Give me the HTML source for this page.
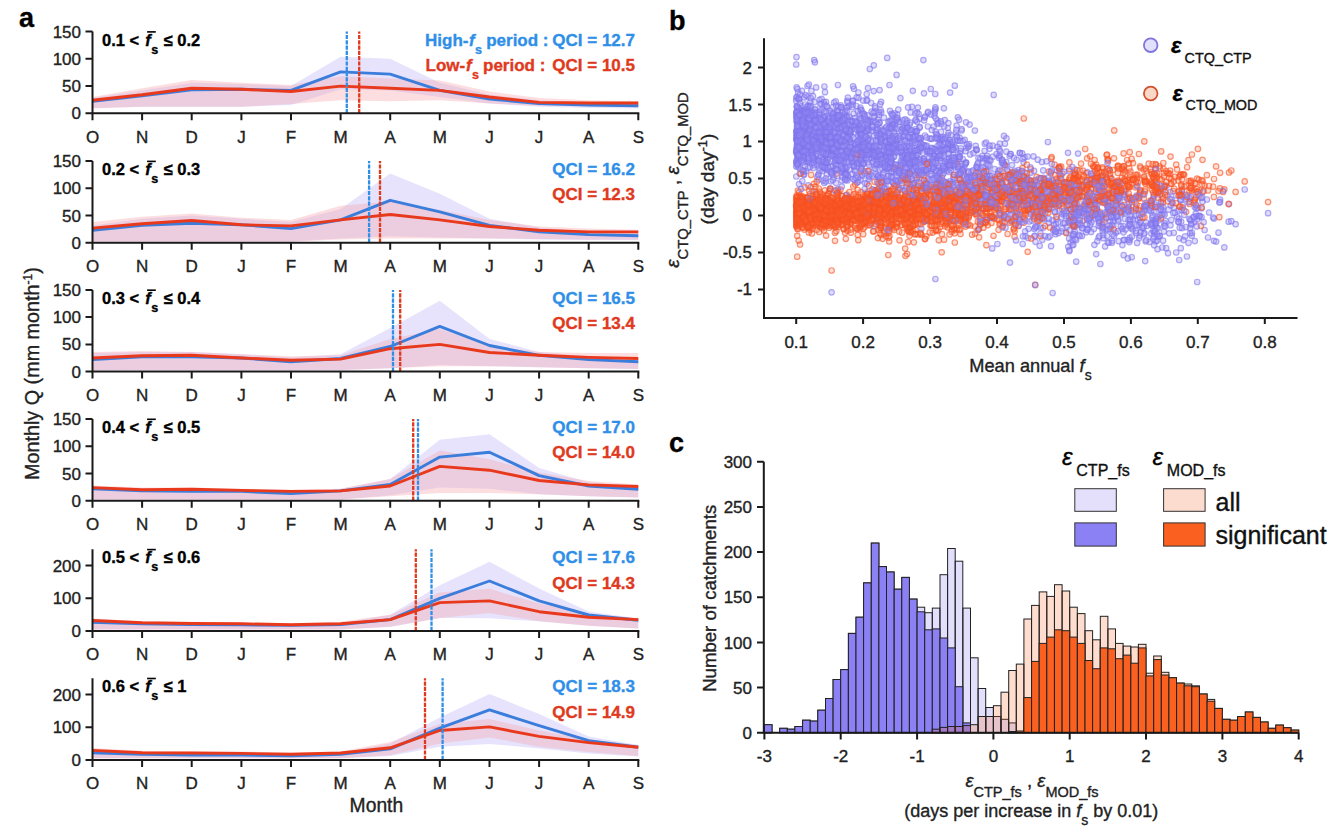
<!DOCTYPE html><html><head><meta charset="utf-8"><style>html,body{margin:0;padding:0;background:#fff;overflow:hidden}svg{display:block}svg text{font-family:"Liberation Sans",sans-serif}.s circle{r:2.75px}.s g{stroke-width:1.2px}.o{fill:#fa6a3a;fill-opacity:.22;stroke:#f85020;stroke-opacity:.6}.p{fill:#9a90f5;fill-opacity:.32;stroke:#7f74ec;stroke-opacity:.6}</style></head><body><svg width="1335" height="834" viewBox="0 0 1335 834" font-family="Liberation Sans, sans-serif"><path d="M92.5 98 L142.1 90.4 L191.7 82.8 L241.4 83.9 L291 86.1 L340.6 56.7 L390.2 58.8 L439.8 82.8 L489.5 94.8 L539.1 100.2 L588.7 102.4 L638.3 103.5 L638.3 108.4 L588.7 107.9 L539.1 106.8 L489.5 103.5 L439.8 97 L390.2 90.4 L340.6 89.3 L291 105.1 L241.4 106.8 L191.7 106.8 L142.1 106.8 L92.5 107.9Z" fill="#b9b0f5" fill-opacity="0.35"/><path d="M92.5 97 L142.1 88.2 L191.7 80.1 L241.4 82.8 L291 85 L340.6 76.3 L390.2 78.4 L439.8 80.6 L489.5 91.5 L539.1 98 L588.7 100.2 L638.3 101.3 L638.3 106.8 L588.7 106.2 L539.1 105.7 L489.5 103.5 L439.8 100.2 L390.2 101.3 L340.6 100.2 L291 104 L241.4 106.8 L191.7 106.8 L142.1 106.8 L92.5 108.4Z" fill="#f7a0a8" fill-opacity="0.35"/><polyline points="92.5,101.3 142.1,95.9 191.7,89.9 241.4,89.3 291,90.4 340.6,71.9 390.2,74.1 439.8,90.4 489.5,99.1 539.1,103.5 588.7,105.1 638.3,105.7" fill="none" stroke="#3b7ddb" stroke-width="2.9" stroke-linejoin="round"/><polyline points="92.5,100.2 142.1,94.8 191.7,88.2 241.4,89.3 291,91.5 340.6,86.1 390.2,88.2 439.8,90.4 489.5,97 539.1,102.4 588.7,103 638.3,103" fill="none" stroke="#e8391d" stroke-width="2.9" stroke-linejoin="round"/><line x1="346.8" y1="113.3" x2="346.8" y2="31.6" stroke="#2f8fe8" stroke-width="2.3" stroke-dasharray="4.2 1.1"/><line x1="359.2" y1="113.3" x2="359.2" y2="31.6" stroke="#e03a1e" stroke-width="2.3" stroke-dasharray="4.2 1.1"/><path d="M92.5 31.6V113.3H639.3" fill="none" stroke="#1a1a1a" stroke-width="2"/><path d="M85.5 113.3H92.5M85.5 86.1H92.5M85.5 58.8H92.5M85.5 31.6H92.5M92.5 113.3V120.3M142.1 113.3V120.3M191.7 113.3V120.3M241.4 113.3V120.3M291 113.3V120.3M340.6 113.3V120.3M390.2 113.3V120.3M439.8 113.3V120.3M489.5 113.3V120.3M539.1 113.3V120.3M588.7 113.3V120.3M638.3 113.3V120.3" stroke="#1a1a1a" stroke-width="2"/><text x="81" y="119.3" text-anchor="end" font-size="17" fill="#222" stroke="#222" stroke-width="0.35">0</text><text x="81" y="92.1" text-anchor="end" font-size="17" fill="#222" stroke="#222" stroke-width="0.35">50</text><text x="81" y="64.8" text-anchor="end" font-size="17" fill="#222" stroke="#222" stroke-width="0.35">100</text><text x="81" y="37.6" text-anchor="end" font-size="17" fill="#222" stroke="#222" stroke-width="0.35">150</text><text x="92.5" y="142.6" text-anchor="middle" font-size="17" fill="#222" stroke="#222" stroke-width="0.35">O</text><text x="142.1" y="142.6" text-anchor="middle" font-size="17" fill="#222" stroke="#222" stroke-width="0.35">N</text><text x="191.7" y="142.6" text-anchor="middle" font-size="17" fill="#222" stroke="#222" stroke-width="0.35">D</text><text x="241.4" y="142.6" text-anchor="middle" font-size="17" fill="#222" stroke="#222" stroke-width="0.35">J</text><text x="291" y="142.6" text-anchor="middle" font-size="17" fill="#222" stroke="#222" stroke-width="0.35">F</text><text x="340.6" y="142.6" text-anchor="middle" font-size="17" fill="#222" stroke="#222" stroke-width="0.35">M</text><text x="390.2" y="142.6" text-anchor="middle" font-size="17" fill="#222" stroke="#222" stroke-width="0.35">A</text><text x="439.8" y="142.6" text-anchor="middle" font-size="17" fill="#222" stroke="#222" stroke-width="0.35">M</text><text x="489.5" y="142.6" text-anchor="middle" font-size="17" fill="#222" stroke="#222" stroke-width="0.35">J</text><text x="539.1" y="142.6" text-anchor="middle" font-size="17" fill="#222" stroke="#222" stroke-width="0.35">J</text><text x="588.7" y="142.6" text-anchor="middle" font-size="17" fill="#222" stroke="#222" stroke-width="0.35">A</text><text x="638.3" y="142.6" text-anchor="middle" font-size="17" fill="#222" stroke="#222" stroke-width="0.35">S</text><text x="102" y="45.7" font-size="16.5" font-weight="bold" fill="#000" stroke="#000" stroke-width="0.35">0.1 &lt;</text><text x="145.2" y="45.7" font-size="16.5" font-weight="bold" font-style="italic" fill="#000" stroke="#000" stroke-width="0.35">f</text><rect x="147.1" y="31.1" width="8.7" height="1.6" fill="#000"/><text x="151.3" y="53.7" font-size="12.5" font-weight="bold" fill="#000" stroke="#000" stroke-width="0.35">s</text><text x="163.6" y="45.7" font-size="16.5" font-weight="bold" fill="#000" stroke="#000" stroke-width="0.35">≤ 0.2</text><text x="635" y="45.7" text-anchor="end" font-size="17" font-weight="bold" fill="#2f8fe8" stroke="#2f8fe8" stroke-width="0.35">QCI = 12.7</text><text x="635" y="70.9" text-anchor="end" font-size="17" font-weight="bold" fill="#e03a1e" stroke="#e03a1e" stroke-width="0.35">QCI = 10.5</text><text x="425" y="45.7" font-size="17" font-weight="bold" fill="#2f8fe8" stroke="#2f8fe8" stroke-width="0.35">High-</text><text x="469" y="45.7" font-size="17" font-weight="bold" font-style="italic" fill="#2f8fe8" stroke="#2f8fe8" stroke-width="0.35">f</text><text x="475" y="53.6" font-size="12.5" font-weight="bold" fill="#2f8fe8" stroke="#2f8fe8" stroke-width="0.35">s</text><text x="486.2" y="45.7" font-size="17" font-weight="bold" fill="#2f8fe8" stroke="#2f8fe8" stroke-width="0.35">period :</text><text x="425.5" y="70.9" font-size="17" font-weight="bold" fill="#e03a1e" stroke="#e03a1e" stroke-width="0.35">Low-</text><text x="466" y="70.9" font-size="17" font-weight="bold" font-style="italic" fill="#e03a1e" stroke="#e03a1e" stroke-width="0.35">f</text><text x="472" y="78.8" font-size="12.5" font-weight="bold" fill="#e03a1e" stroke="#e03a1e" stroke-width="0.35">s</text><text x="483" y="70.9" font-size="17" font-weight="bold" fill="#e03a1e" stroke="#e03a1e" stroke-width="0.35">period :</text><path d="M92.5 225.4 L142.1 218.8 L191.7 215.6 L241.4 218.8 L291 222.1 L340.6 209 L390.2 173.6 L439.8 193.8 L489.5 218.8 L539.1 227.5 L588.7 231.9 L638.3 233 L638.3 240.1 L588.7 240.1 L539.1 239.5 L489.5 238.4 L439.8 237.4 L390.2 236.3 L340.6 238.4 L291 241.2 L241.4 241.2 L191.7 241.2 L142.1 241.2 L92.5 241.2Z" fill="#b9b0f5" fill-opacity="0.35"/><path d="M92.5 222.1 L142.1 216.7 L191.7 213.4 L241.4 217.7 L291 219.9 L340.6 205.8 L390.2 201.4 L439.8 210.1 L489.5 219.9 L539.1 226.5 L588.7 228.6 L638.3 229.7 L638.3 239.5 L588.7 239.5 L539.1 239 L489.5 238.4 L439.8 238.4 L390.2 238.4 L340.6 239.5 L291 241.7 L241.4 241.7 L191.7 241.7 L142.1 241.7 L92.5 241.7Z" fill="#f7a0a8" fill-opacity="0.35"/><polyline points="92.5,230.3 142.1,225.4 191.7,223.2 241.4,224.8 291,228.6 340.6,219.9 390.2,200.3 439.8,211.8 489.5,225.4 539.1,231.9 588.7,234.6 638.3,235.7" fill="none" stroke="#3b7ddb" stroke-width="2.9" stroke-linejoin="round"/><polyline points="92.5,228.1 142.1,223.7 191.7,220.5 241.4,224.8 291,225.9 340.6,219.9 390.2,214.5 439.8,219.9 489.5,226.5 539.1,230.3 588.7,231.9 638.3,231.9" fill="none" stroke="#e8391d" stroke-width="2.9" stroke-linejoin="round"/><line x1="369.1" y1="242.8" x2="369.1" y2="161.1" stroke="#2f8fe8" stroke-width="2.3" stroke-dasharray="4.2 1.1"/><line x1="380" y1="242.8" x2="380" y2="161.1" stroke="#e03a1e" stroke-width="2.3" stroke-dasharray="4.2 1.1"/><path d="M92.5 161.1V242.8H639.3" fill="none" stroke="#1a1a1a" stroke-width="2"/><path d="M85.5 242.8H92.5M85.5 215.6H92.5M85.5 188.3H92.5M85.5 161.1H92.5M92.5 242.8V249.8M142.1 242.8V249.8M191.7 242.8V249.8M241.4 242.8V249.8M291 242.8V249.8M340.6 242.8V249.8M390.2 242.8V249.8M439.8 242.8V249.8M489.5 242.8V249.8M539.1 242.8V249.8M588.7 242.8V249.8M638.3 242.8V249.8" stroke="#1a1a1a" stroke-width="2"/><text x="81" y="248.8" text-anchor="end" font-size="17" fill="#222" stroke="#222" stroke-width="0.35">0</text><text x="81" y="221.6" text-anchor="end" font-size="17" fill="#222" stroke="#222" stroke-width="0.35">50</text><text x="81" y="194.3" text-anchor="end" font-size="17" fill="#222" stroke="#222" stroke-width="0.35">100</text><text x="81" y="167.1" text-anchor="end" font-size="17" fill="#222" stroke="#222" stroke-width="0.35">150</text><text x="92.5" y="272.1" text-anchor="middle" font-size="17" fill="#222" stroke="#222" stroke-width="0.35">O</text><text x="142.1" y="272.1" text-anchor="middle" font-size="17" fill="#222" stroke="#222" stroke-width="0.35">N</text><text x="191.7" y="272.1" text-anchor="middle" font-size="17" fill="#222" stroke="#222" stroke-width="0.35">D</text><text x="241.4" y="272.1" text-anchor="middle" font-size="17" fill="#222" stroke="#222" stroke-width="0.35">J</text><text x="291" y="272.1" text-anchor="middle" font-size="17" fill="#222" stroke="#222" stroke-width="0.35">F</text><text x="340.6" y="272.1" text-anchor="middle" font-size="17" fill="#222" stroke="#222" stroke-width="0.35">M</text><text x="390.2" y="272.1" text-anchor="middle" font-size="17" fill="#222" stroke="#222" stroke-width="0.35">A</text><text x="439.8" y="272.1" text-anchor="middle" font-size="17" fill="#222" stroke="#222" stroke-width="0.35">M</text><text x="489.5" y="272.1" text-anchor="middle" font-size="17" fill="#222" stroke="#222" stroke-width="0.35">J</text><text x="539.1" y="272.1" text-anchor="middle" font-size="17" fill="#222" stroke="#222" stroke-width="0.35">J</text><text x="588.7" y="272.1" text-anchor="middle" font-size="17" fill="#222" stroke="#222" stroke-width="0.35">A</text><text x="638.3" y="272.1" text-anchor="middle" font-size="17" fill="#222" stroke="#222" stroke-width="0.35">S</text><text x="102" y="175.2" font-size="16.5" font-weight="bold" fill="#000" stroke="#000" stroke-width="0.35">0.2 &lt;</text><text x="145.2" y="175.2" font-size="16.5" font-weight="bold" font-style="italic" fill="#000" stroke="#000" stroke-width="0.35">f</text><rect x="147.1" y="160.6" width="8.7" height="1.6" fill="#000"/><text x="151.3" y="183.2" font-size="12.5" font-weight="bold" fill="#000" stroke="#000" stroke-width="0.35">s</text><text x="163.6" y="175.2" font-size="16.5" font-weight="bold" fill="#000" stroke="#000" stroke-width="0.35">≤ 0.3</text><text x="635" y="175.2" text-anchor="end" font-size="17" font-weight="bold" fill="#2f8fe8" stroke="#2f8fe8" stroke-width="0.35">QCI = 16.2</text><text x="635" y="200.4" text-anchor="end" font-size="17" font-weight="bold" fill="#e03a1e" stroke="#e03a1e" stroke-width="0.35">QCI = 12.3</text><path d="M92.5 353.1 L142.1 352 L191.7 352 L241.4 354.2 L291 357.4 L340.6 354.2 L390.2 328 L439.8 300.8 L489.5 338.9 L539.1 352 L588.7 356.3 L638.3 358.5 L638.3 368.9 L588.7 368.3 L539.1 367.2 L489.5 366.2 L439.8 365.1 L390.2 368.3 L340.6 370 L291 370 L241.4 370 L191.7 370 L142.1 370 L92.5 370.5Z" fill="#b9b0f5" fill-opacity="0.35"/><path d="M92.5 352 L142.1 350.9 L191.7 352 L241.4 354.2 L291 356.3 L340.6 355.3 L390.2 338.9 L439.8 329.1 L489.5 345.5 L539.1 352 L588.7 353.1 L638.3 353.1 L638.3 368.9 L588.7 368.3 L539.1 367.2 L489.5 366.2 L439.8 366.2 L390.2 368.3 L340.6 370 L291 370 L241.4 370 L191.7 370 L142.1 370 L92.5 370Z" fill="#f7a0a8" fill-opacity="0.35"/><polyline points="92.5,359.6 142.1,356.9 191.7,356.9 241.4,358 291,361.8 340.6,358.5 390.2,346.5 439.8,326.4 489.5,345.5 539.1,355.3 588.7,359.6 638.3,361.8" fill="none" stroke="#3b7ddb" stroke-width="2.9" stroke-linejoin="round"/><polyline points="92.5,358 142.1,355.8 191.7,355.3 241.4,358 291,360.2 340.6,359.1 390.2,348.7 439.8,344.4 489.5,352.5 539.1,355.3 588.7,357.4 638.3,358.5" fill="none" stroke="#e8391d" stroke-width="2.9" stroke-linejoin="round"/><line x1="393" y1="371.6" x2="393" y2="289.9" stroke="#2f8fe8" stroke-width="2.3" stroke-dasharray="4.2 1.1"/><line x1="400.2" y1="371.6" x2="400.2" y2="289.9" stroke="#e03a1e" stroke-width="2.3" stroke-dasharray="4.2 1.1"/><path d="M92.5 289.9V371.6H639.3" fill="none" stroke="#1a1a1a" stroke-width="2"/><path d="M85.5 371.6H92.5M85.5 344.4H92.5M85.5 317.1H92.5M85.5 289.9H92.5M92.5 371.6V378.6M142.1 371.6V378.6M191.7 371.6V378.6M241.4 371.6V378.6M291 371.6V378.6M340.6 371.6V378.6M390.2 371.6V378.6M439.8 371.6V378.6M489.5 371.6V378.6M539.1 371.6V378.6M588.7 371.6V378.6M638.3 371.6V378.6" stroke="#1a1a1a" stroke-width="2"/><text x="81" y="377.6" text-anchor="end" font-size="17" fill="#222" stroke="#222" stroke-width="0.35">0</text><text x="81" y="350.4" text-anchor="end" font-size="17" fill="#222" stroke="#222" stroke-width="0.35">50</text><text x="81" y="323.1" text-anchor="end" font-size="17" fill="#222" stroke="#222" stroke-width="0.35">100</text><text x="81" y="295.9" text-anchor="end" font-size="17" fill="#222" stroke="#222" stroke-width="0.35">150</text><text x="92.5" y="400.9" text-anchor="middle" font-size="17" fill="#222" stroke="#222" stroke-width="0.35">O</text><text x="142.1" y="400.9" text-anchor="middle" font-size="17" fill="#222" stroke="#222" stroke-width="0.35">N</text><text x="191.7" y="400.9" text-anchor="middle" font-size="17" fill="#222" stroke="#222" stroke-width="0.35">D</text><text x="241.4" y="400.9" text-anchor="middle" font-size="17" fill="#222" stroke="#222" stroke-width="0.35">J</text><text x="291" y="400.9" text-anchor="middle" font-size="17" fill="#222" stroke="#222" stroke-width="0.35">F</text><text x="340.6" y="400.9" text-anchor="middle" font-size="17" fill="#222" stroke="#222" stroke-width="0.35">M</text><text x="390.2" y="400.9" text-anchor="middle" font-size="17" fill="#222" stroke="#222" stroke-width="0.35">A</text><text x="439.8" y="400.9" text-anchor="middle" font-size="17" fill="#222" stroke="#222" stroke-width="0.35">M</text><text x="489.5" y="400.9" text-anchor="middle" font-size="17" fill="#222" stroke="#222" stroke-width="0.35">J</text><text x="539.1" y="400.9" text-anchor="middle" font-size="17" fill="#222" stroke="#222" stroke-width="0.35">J</text><text x="588.7" y="400.9" text-anchor="middle" font-size="17" fill="#222" stroke="#222" stroke-width="0.35">A</text><text x="638.3" y="400.9" text-anchor="middle" font-size="17" fill="#222" stroke="#222" stroke-width="0.35">S</text><text x="102" y="304" font-size="16.5" font-weight="bold" fill="#000" stroke="#000" stroke-width="0.35">0.3 &lt;</text><text x="145.2" y="304" font-size="16.5" font-weight="bold" font-style="italic" fill="#000" stroke="#000" stroke-width="0.35">f</text><rect x="147.1" y="289.4" width="8.7" height="1.6" fill="#000"/><text x="151.3" y="312" font-size="12.5" font-weight="bold" fill="#000" stroke="#000" stroke-width="0.35">s</text><text x="163.6" y="304" font-size="16.5" font-weight="bold" fill="#000" stroke="#000" stroke-width="0.35">≤ 0.4</text><text x="635" y="304" text-anchor="end" font-size="17" font-weight="bold" fill="#2f8fe8" stroke="#2f8fe8" stroke-width="0.35">QCI = 16.5</text><text x="635" y="329.2" text-anchor="end" font-size="17" font-weight="bold" fill="#e03a1e" stroke="#e03a1e" stroke-width="0.35">QCI = 13.4</text><path d="M92.5 486.5 L142.1 488.7 L191.7 489.8 L241.4 489.8 L291 492 L340.6 488.7 L390.2 478.9 L439.8 439.7 L489.5 434.3 L539.1 468 L588.7 482.2 L638.3 486.5 L638.3 497.4 L588.7 496.3 L539.1 494.2 L489.5 488.7 L439.8 487.6 L390.2 495.3 L340.6 499.6 L291 499.6 L241.4 499.6 L191.7 499.6 L142.1 499.6 L92.5 499.6Z" fill="#b9b0f5" fill-opacity="0.35"/><path d="M92.5 485.4 L142.1 487.6 L191.7 487.6 L241.4 488.7 L291 489.8 L340.6 488.7 L390.2 478.9 L439.8 450.6 L489.5 459.3 L539.1 472.4 L588.7 481.1 L638.3 484.4 L638.3 497.4 L588.7 496.3 L539.1 494.2 L489.5 493.1 L439.8 493.1 L390.2 496.3 L340.6 499.6 L291 499.6 L241.4 499.6 L191.7 499.6 L142.1 499.6 L92.5 499.6Z" fill="#f7a0a8" fill-opacity="0.35"/><polyline points="92.5,488.7 142.1,490.9 191.7,491.4 241.4,491.4 291,493.6 340.6,490.9 390.2,484.4 439.8,457.1 489.5,452.2 539.1,475.6 588.7,486 638.3,489.3" fill="none" stroke="#3b7ddb" stroke-width="2.9" stroke-linejoin="round"/><polyline points="92.5,487.6 142.1,489.8 191.7,489.3 241.4,490.4 291,491.4 340.6,490.9 390.2,486 439.8,466.4 489.5,470.2 539.1,480.5 588.7,484.9 638.3,486.5" fill="none" stroke="#e8391d" stroke-width="2.9" stroke-linejoin="round"/><line x1="418" y1="500.7" x2="418" y2="419" stroke="#2f8fe8" stroke-width="2.3" stroke-dasharray="4.2 1.1"/><line x1="413.2" y1="500.7" x2="413.2" y2="419" stroke="#e03a1e" stroke-width="2.3" stroke-dasharray="4.2 1.1"/><path d="M92.5 419V500.7H639.3" fill="none" stroke="#1a1a1a" stroke-width="2"/><path d="M85.5 500.7H92.5M85.5 473.5H92.5M85.5 446.2H92.5M85.5 419H92.5M92.5 500.7V507.7M142.1 500.7V507.7M191.7 500.7V507.7M241.4 500.7V507.7M291 500.7V507.7M340.6 500.7V507.7M390.2 500.7V507.7M439.8 500.7V507.7M489.5 500.7V507.7M539.1 500.7V507.7M588.7 500.7V507.7M638.3 500.7V507.7" stroke="#1a1a1a" stroke-width="2"/><text x="81" y="506.7" text-anchor="end" font-size="17" fill="#222" stroke="#222" stroke-width="0.35">0</text><text x="81" y="479.5" text-anchor="end" font-size="17" fill="#222" stroke="#222" stroke-width="0.35">50</text><text x="81" y="452.2" text-anchor="end" font-size="17" fill="#222" stroke="#222" stroke-width="0.35">100</text><text x="81" y="425" text-anchor="end" font-size="17" fill="#222" stroke="#222" stroke-width="0.35">150</text><text x="92.5" y="530" text-anchor="middle" font-size="17" fill="#222" stroke="#222" stroke-width="0.35">O</text><text x="142.1" y="530" text-anchor="middle" font-size="17" fill="#222" stroke="#222" stroke-width="0.35">N</text><text x="191.7" y="530" text-anchor="middle" font-size="17" fill="#222" stroke="#222" stroke-width="0.35">D</text><text x="241.4" y="530" text-anchor="middle" font-size="17" fill="#222" stroke="#222" stroke-width="0.35">J</text><text x="291" y="530" text-anchor="middle" font-size="17" fill="#222" stroke="#222" stroke-width="0.35">F</text><text x="340.6" y="530" text-anchor="middle" font-size="17" fill="#222" stroke="#222" stroke-width="0.35">M</text><text x="390.2" y="530" text-anchor="middle" font-size="17" fill="#222" stroke="#222" stroke-width="0.35">A</text><text x="439.8" y="530" text-anchor="middle" font-size="17" fill="#222" stroke="#222" stroke-width="0.35">M</text><text x="489.5" y="530" text-anchor="middle" font-size="17" fill="#222" stroke="#222" stroke-width="0.35">J</text><text x="539.1" y="530" text-anchor="middle" font-size="17" fill="#222" stroke="#222" stroke-width="0.35">J</text><text x="588.7" y="530" text-anchor="middle" font-size="17" fill="#222" stroke="#222" stroke-width="0.35">A</text><text x="638.3" y="530" text-anchor="middle" font-size="17" fill="#222" stroke="#222" stroke-width="0.35">S</text><text x="102" y="433.1" font-size="16.5" font-weight="bold" fill="#000" stroke="#000" stroke-width="0.35">0.4 &lt;</text><text x="145.2" y="433.1" font-size="16.5" font-weight="bold" font-style="italic" fill="#000" stroke="#000" stroke-width="0.35">f</text><rect x="147.1" y="418.5" width="8.7" height="1.6" fill="#000"/><text x="151.3" y="441.1" font-size="12.5" font-weight="bold" fill="#000" stroke="#000" stroke-width="0.35">s</text><text x="163.6" y="433.1" font-size="16.5" font-weight="bold" fill="#000" stroke="#000" stroke-width="0.35">≤ 0.5</text><text x="635" y="433.1" text-anchor="end" font-size="17" font-weight="bold" fill="#2f8fe8" stroke="#2f8fe8" stroke-width="0.35">QCI = 17.0</text><text x="635" y="458.3" text-anchor="end" font-size="17" font-weight="bold" fill="#e03a1e" stroke="#e03a1e" stroke-width="0.35">QCI = 14.0</text><path d="M92.5 620.5 L142.1 622.5 L191.7 623.2 L241.4 623.8 L291 624.5 L340.6 623.2 L390.2 614.7 L439.8 585.2 L489.5 561.7 L539.1 588.5 L588.7 611.4 L638.3 618.6 L638.3 628.4 L588.7 625.8 L539.1 621.2 L489.5 618.3 L439.8 617.9 L390.2 627.1 L340.6 629.4 L291 629.4 L241.4 629.4 L191.7 629.4 L142.1 629.4 L92.5 629.4Z" fill="#b9b0f5" fill-opacity="0.35"/><path d="M92.5 618.6 L142.1 621.2 L191.7 621.8 L241.4 622.5 L291 623.2 L340.6 621.8 L390.2 614.7 L439.8 592.4 L489.5 588.8 L539.1 603.5 L588.7 614 L638.3 617.9 L638.3 628.4 L588.7 625.8 L539.1 621.2 L489.5 613 L439.8 617.9 L390.2 626.4 L340.6 629.4 L291 629.4 L241.4 629.4 L191.7 629.4 L142.1 629.4 L92.5 629.4Z" fill="#f7a0a8" fill-opacity="0.35"/><polyline points="92.5,622.2 142.1,623.8 191.7,624.5 241.4,624.8 291,625.4 340.6,624.5 390.2,619.6 439.8,598.3 489.5,581 539.1,600.9 588.7,615 638.3,620.2" fill="none" stroke="#3b7ddb" stroke-width="2.9" stroke-linejoin="round"/><polyline points="92.5,620.5 142.1,622.8 191.7,623.5 241.4,623.8 291,624.8 340.6,623.8 390.2,619.6 439.8,602.6 489.5,600.9 539.1,611.7 588.7,617.3 638.3,619.6" fill="none" stroke="#e8391d" stroke-width="2.9" stroke-linejoin="round"/><line x1="431.5" y1="631" x2="431.5" y2="549.3" stroke="#2f8fe8" stroke-width="2.3" stroke-dasharray="4.2 1.1"/><line x1="415.8" y1="631" x2="415.8" y2="549.3" stroke="#e03a1e" stroke-width="2.3" stroke-dasharray="4.2 1.1"/><path d="M92.5 549.3V631H639.3" fill="none" stroke="#1a1a1a" stroke-width="2"/><path d="M85.5 631H92.5M85.5 598.3H92.5M85.5 565.6H92.5M92.5 631V638M142.1 631V638M191.7 631V638M241.4 631V638M291 631V638M340.6 631V638M390.2 631V638M439.8 631V638M489.5 631V638M539.1 631V638M588.7 631V638M638.3 631V638" stroke="#1a1a1a" stroke-width="2"/><text x="81" y="637" text-anchor="end" font-size="17" fill="#222" stroke="#222" stroke-width="0.35">0</text><text x="81" y="604.3" text-anchor="end" font-size="17" fill="#222" stroke="#222" stroke-width="0.35">100</text><text x="81" y="571.6" text-anchor="end" font-size="17" fill="#222" stroke="#222" stroke-width="0.35">200</text><text x="92.5" y="660.3" text-anchor="middle" font-size="17" fill="#222" stroke="#222" stroke-width="0.35">O</text><text x="142.1" y="660.3" text-anchor="middle" font-size="17" fill="#222" stroke="#222" stroke-width="0.35">N</text><text x="191.7" y="660.3" text-anchor="middle" font-size="17" fill="#222" stroke="#222" stroke-width="0.35">D</text><text x="241.4" y="660.3" text-anchor="middle" font-size="17" fill="#222" stroke="#222" stroke-width="0.35">J</text><text x="291" y="660.3" text-anchor="middle" font-size="17" fill="#222" stroke="#222" stroke-width="0.35">F</text><text x="340.6" y="660.3" text-anchor="middle" font-size="17" fill="#222" stroke="#222" stroke-width="0.35">M</text><text x="390.2" y="660.3" text-anchor="middle" font-size="17" fill="#222" stroke="#222" stroke-width="0.35">A</text><text x="439.8" y="660.3" text-anchor="middle" font-size="17" fill="#222" stroke="#222" stroke-width="0.35">M</text><text x="489.5" y="660.3" text-anchor="middle" font-size="17" fill="#222" stroke="#222" stroke-width="0.35">J</text><text x="539.1" y="660.3" text-anchor="middle" font-size="17" fill="#222" stroke="#222" stroke-width="0.35">J</text><text x="588.7" y="660.3" text-anchor="middle" font-size="17" fill="#222" stroke="#222" stroke-width="0.35">A</text><text x="638.3" y="660.3" text-anchor="middle" font-size="17" fill="#222" stroke="#222" stroke-width="0.35">S</text><text x="102" y="563.4" font-size="16.5" font-weight="bold" fill="#000" stroke="#000" stroke-width="0.35">0.5 &lt;</text><text x="145.2" y="563.4" font-size="16.5" font-weight="bold" font-style="italic" fill="#000" stroke="#000" stroke-width="0.35">f</text><rect x="147.1" y="548.8" width="8.7" height="1.6" fill="#000"/><text x="151.3" y="571.4" font-size="12.5" font-weight="bold" fill="#000" stroke="#000" stroke-width="0.35">s</text><text x="163.6" y="563.4" font-size="16.5" font-weight="bold" fill="#000" stroke="#000" stroke-width="0.35">≤ 0.6</text><text x="635" y="563.4" text-anchor="end" font-size="17" font-weight="bold" fill="#2f8fe8" stroke="#2f8fe8" stroke-width="0.35">QCI = 17.6</text><text x="635" y="588.6" text-anchor="end" font-size="17" font-weight="bold" fill="#e03a1e" stroke="#e03a1e" stroke-width="0.35">QCI = 14.3</text><path d="M92.5 750.1 L142.1 752.7 L191.7 753.4 L241.4 753.4 L291 754 L340.6 752.7 L390.2 743.6 L439.8 717.4 L489.5 693.9 L539.1 714.1 L588.7 736.4 L638.3 744.9 L638.3 756.6 L588.7 753.4 L539.1 748.5 L489.5 743.9 L439.8 746.8 L390.2 756 L340.6 758.3 L291 758.3 L241.4 758.3 L191.7 758.3 L142.1 758.3 L92.5 758.3Z" fill="#b9b0f5" fill-opacity="0.35"/><path d="M92.5 748.1 L142.1 750.7 L191.7 751.4 L241.4 751.4 L291 752.7 L340.6 751.4 L390.2 741.9 L439.8 724 L489.5 719 L539.1 730.5 L588.7 739.6 L638.3 744.9 L638.3 756 L588.7 752.1 L539.1 746.8 L489.5 737.4 L439.8 743.6 L390.2 755.3 L340.6 758.3 L291 758.3 L241.4 758.3 L191.7 758.3 L142.1 758.3 L92.5 758.3Z" fill="#f7a0a8" fill-opacity="0.35"/><polyline points="92.5,752.7 142.1,754.3 191.7,755 241.4,755 291,755.7 340.6,754.3 390.2,748.8 439.8,728.2 489.5,709.9 539.1,725.6 588.7,740.6 638.3,747.2" fill="none" stroke="#3b7ddb" stroke-width="2.9" stroke-linejoin="round"/><polyline points="92.5,750.4 142.1,752.7 191.7,753 241.4,753.4 291,754.3 340.6,753 390.2,747.8 439.8,730.5 489.5,726.9 539.1,736.4 588.7,742.6 638.3,747.2" fill="none" stroke="#e8391d" stroke-width="2.9" stroke-linejoin="round"/><line x1="442.6" y1="759.9" x2="442.6" y2="678.2" stroke="#2f8fe8" stroke-width="2.3" stroke-dasharray="4.2 1.1"/><line x1="425" y1="759.9" x2="425" y2="678.2" stroke="#e03a1e" stroke-width="2.3" stroke-dasharray="4.2 1.1"/><path d="M92.5 678.2V759.9H639.3" fill="none" stroke="#1a1a1a" stroke-width="2"/><path d="M85.5 759.9H92.5M85.5 727.2H92.5M85.5 694.5H92.5M92.5 759.9V766.9M142.1 759.9V766.9M191.7 759.9V766.9M241.4 759.9V766.9M291 759.9V766.9M340.6 759.9V766.9M390.2 759.9V766.9M439.8 759.9V766.9M489.5 759.9V766.9M539.1 759.9V766.9M588.7 759.9V766.9M638.3 759.9V766.9" stroke="#1a1a1a" stroke-width="2"/><text x="81" y="765.9" text-anchor="end" font-size="17" fill="#222" stroke="#222" stroke-width="0.35">0</text><text x="81" y="733.2" text-anchor="end" font-size="17" fill="#222" stroke="#222" stroke-width="0.35">100</text><text x="81" y="700.5" text-anchor="end" font-size="17" fill="#222" stroke="#222" stroke-width="0.35">200</text><text x="92.5" y="789.2" text-anchor="middle" font-size="17" fill="#222" stroke="#222" stroke-width="0.35">O</text><text x="142.1" y="789.2" text-anchor="middle" font-size="17" fill="#222" stroke="#222" stroke-width="0.35">N</text><text x="191.7" y="789.2" text-anchor="middle" font-size="17" fill="#222" stroke="#222" stroke-width="0.35">D</text><text x="241.4" y="789.2" text-anchor="middle" font-size="17" fill="#222" stroke="#222" stroke-width="0.35">J</text><text x="291" y="789.2" text-anchor="middle" font-size="17" fill="#222" stroke="#222" stroke-width="0.35">F</text><text x="340.6" y="789.2" text-anchor="middle" font-size="17" fill="#222" stroke="#222" stroke-width="0.35">M</text><text x="390.2" y="789.2" text-anchor="middle" font-size="17" fill="#222" stroke="#222" stroke-width="0.35">A</text><text x="439.8" y="789.2" text-anchor="middle" font-size="17" fill="#222" stroke="#222" stroke-width="0.35">M</text><text x="489.5" y="789.2" text-anchor="middle" font-size="17" fill="#222" stroke="#222" stroke-width="0.35">J</text><text x="539.1" y="789.2" text-anchor="middle" font-size="17" fill="#222" stroke="#222" stroke-width="0.35">J</text><text x="588.7" y="789.2" text-anchor="middle" font-size="17" fill="#222" stroke="#222" stroke-width="0.35">A</text><text x="638.3" y="789.2" text-anchor="middle" font-size="17" fill="#222" stroke="#222" stroke-width="0.35">S</text><text x="102" y="692.3" font-size="16.5" font-weight="bold" fill="#000" stroke="#000" stroke-width="0.35">0.6 &lt;</text><text x="145.2" y="692.3" font-size="16.5" font-weight="bold" font-style="italic" fill="#000" stroke="#000" stroke-width="0.35">f</text><rect x="147.1" y="677.7" width="8.7" height="1.6" fill="#000"/><text x="151.3" y="700.3" font-size="12.5" font-weight="bold" fill="#000" stroke="#000" stroke-width="0.35">s</text><text x="163.6" y="692.3" font-size="16.5" font-weight="bold" fill="#000" stroke="#000" stroke-width="0.35">≤ 1</text><text x="635" y="692.3" text-anchor="end" font-size="17" font-weight="bold" fill="#2f8fe8" stroke="#2f8fe8" stroke-width="0.35">QCI = 18.3</text><text x="635" y="717.5" text-anchor="end" font-size="17" font-weight="bold" fill="#e03a1e" stroke="#e03a1e" stroke-width="0.35">QCI = 14.9</text><text x="376.4" y="812" text-anchor="middle" font-size="19.3" fill="#222" stroke="#222" stroke-width="0.35">Month</text><text transform="translate(38.8,373.6) rotate(-90)" text-anchor="middle" font-size="19.8" fill="#222" stroke="#222" stroke-width="0.35">Monthly Q (mm month<tspan dy="-7" font-size="12">-1</tspan><tspan dy="7">)</tspan></text><text x="19" y="27" font-size="27" font-weight="bold" stroke="#000" stroke-width="0.35">a</text><text x="669" y="29.5" font-size="27" font-weight="bold" stroke="#000" stroke-width="0.35">b</text><text x="669" y="452" font-size="27" font-weight="bold" stroke="#000" stroke-width="0.35">c</text><g class="s"><g class="o"><circle cx="868.1" cy="205.4"/><circle cx="897.8" cy="207.3"/><circle cx="803.6" cy="215.1"/><circle cx="824.9" cy="207.9"/><circle cx="849.1" cy="202.7"/><circle cx="852.4" cy="199.6"/><circle cx="1053.9" cy="202.5"/><circle cx="862.4" cy="203"/><circle cx="818.5" cy="219.3"/><circle cx="949.5" cy="234.4"/><circle cx="819.6" cy="212.1"/><circle cx="964.3" cy="199.2"/></g><g class="p"><circle cx="868.1" cy="120.3"/><circle cx="897.8" cy="144.3"/><circle cx="803.6" cy="110.8"/><circle cx="824.9" cy="131.9"/><circle cx="849.1" cy="160.6"/><circle cx="852.4" cy="153.4"/><circle cx="1053.9" cy="224.7"/><circle cx="862.4" cy="176"/><circle cx="818.5" cy="174.3"/><circle cx="949.5" cy="140"/><circle cx="819.6" cy="99.8"/><circle cx="964.3" cy="168.8"/></g><g class="o"><circle cx="804.4" cy="214.1"/><circle cx="1124.9" cy="171.5"/><circle cx="1136" cy="174.9"/><circle cx="829.8" cy="202.9"/><circle cx="917.2" cy="199.6"/><circle cx="1043.6" cy="183.9"/><circle cx="835.1" cy="211.2"/><circle cx="864" cy="214.5"/><circle cx="867.2" cy="211.3"/><circle cx="807.6" cy="201.8"/><circle cx="931" cy="194.5"/><circle cx="868.7" cy="209.1"/></g><g class="p"><circle cx="804.4" cy="129.7"/><circle cx="1124.9" cy="219"/><circle cx="1136" cy="215.7"/><circle cx="829.8" cy="157.1"/><circle cx="917.2" cy="112.6"/><circle cx="1043.6" cy="177.8"/><circle cx="835.1" cy="139.2"/><circle cx="864" cy="153.4"/><circle cx="867.2" cy="119.9"/><circle cx="807.6" cy="110.8"/><circle cx="931" cy="171"/><circle cx="868.7" cy="171.2"/></g><g class="o"><circle cx="1063.4" cy="183.7"/><circle cx="796.3" cy="212.4"/><circle cx="927.9" cy="214.2"/><circle cx="836.5" cy="205.7"/><circle cx="1033.3" cy="192.8"/><circle cx="822.6" cy="202.8"/><circle cx="1155.2" cy="168.6"/><circle cx="823.8" cy="217.9"/><circle cx="828.7" cy="202.7"/><circle cx="1071" cy="191.2"/><circle cx="867.5" cy="223.4"/><circle cx="893.8" cy="211.8"/></g><g class="p"><circle cx="1063.4" cy="223.3"/><circle cx="796.3" cy="162.8"/><circle cx="927.9" cy="126.5"/><circle cx="836.5" cy="128.7"/><circle cx="1033.3" cy="216.5"/><circle cx="822.6" cy="171.1"/><circle cx="1155.2" cy="220.6"/><circle cx="823.8" cy="102"/><circle cx="828.7" cy="117.7"/><circle cx="1071" cy="215.8"/><circle cx="867.5" cy="115.4"/><circle cx="893.8" cy="144.4"/></g><g class="o"><circle cx="829.8" cy="225.4"/><circle cx="880.5" cy="199.5"/><circle cx="855.5" cy="209.7"/><circle cx="947" cy="222.8"/><circle cx="1154.3" cy="186.4"/><circle cx="1068.5" cy="183.3"/><circle cx="989.8" cy="207.9"/><circle cx="1129.8" cy="196.8"/><circle cx="1069.4" cy="197.4"/><circle cx="997.7" cy="189.6"/><circle cx="898.7" cy="204"/><circle cx="822.2" cy="228.3"/></g><g class="p"><circle cx="829.8" cy="139.5"/><circle cx="880.5" cy="142.5"/><circle cx="855.5" cy="125.3"/><circle cx="947" cy="217.8"/><circle cx="1154.3" cy="211.7"/><circle cx="1068.5" cy="182.9"/><circle cx="989.8" cy="176.2"/><circle cx="1129.8" cy="240.1"/><circle cx="1069.4" cy="194.3"/><circle cx="997.7" cy="174"/><circle cx="898.7" cy="151.2"/><circle cx="822.2" cy="139.5"/></g><g class="o"><circle cx="834.6" cy="212.5"/><circle cx="977.8" cy="221.5"/><circle cx="1066.2" cy="202.4"/><circle cx="834" cy="207.2"/><circle cx="840.1" cy="213.9"/><circle cx="863.7" cy="223.1"/><circle cx="927.9" cy="220.8"/><circle cx="880.1" cy="211.3"/><circle cx="977.1" cy="201.8"/><circle cx="835.1" cy="226.6"/><circle cx="839.4" cy="203"/><circle cx="1182.7" cy="207.6"/></g><g class="p"><circle cx="834.6" cy="118"/><circle cx="977.8" cy="188"/><circle cx="1066.2" cy="232.6"/><circle cx="834" cy="117"/><circle cx="840.1" cy="132.4"/><circle cx="863.7" cy="113.6"/><circle cx="927.9" cy="151.3"/><circle cx="880.1" cy="128"/><circle cx="977.1" cy="167.9"/><circle cx="835.1" cy="116.7"/><circle cx="839.4" cy="127.7"/><circle cx="1182.7" cy="204.9"/></g><g class="o"><circle cx="903.3" cy="204.1"/><circle cx="796.9" cy="200.9"/><circle cx="987.5" cy="195.3"/><circle cx="1018.5" cy="226.1"/><circle cx="1035.1" cy="198.1"/><circle cx="959.9" cy="196.8"/><circle cx="1082.6" cy="220.8"/><circle cx="1055.5" cy="199"/><circle cx="832.1" cy="217.3"/><circle cx="909.4" cy="227.9"/><circle cx="801.1" cy="202.4"/><circle cx="986.7" cy="219.8"/></g><g class="p"><circle cx="903.3" cy="136"/><circle cx="796.9" cy="131.4"/><circle cx="987.5" cy="197.2"/><circle cx="1018.5" cy="170.1"/><circle cx="1035.1" cy="235.9"/><circle cx="959.9" cy="153.3"/><circle cx="1082.6" cy="196.5"/><circle cx="1055.5" cy="231.8"/><circle cx="832.1" cy="141"/><circle cx="909.4" cy="172.1"/><circle cx="801.1" cy="135.5"/><circle cx="986.7" cy="175.8"/></g><g class="o"><circle cx="826.1" cy="209.8"/><circle cx="1096.4" cy="180.7"/><circle cx="934.8" cy="190.9"/><circle cx="1121" cy="188.2"/><circle cx="911.7" cy="200.1"/><circle cx="821.3" cy="197.8"/><circle cx="842.1" cy="211.3"/><circle cx="831.2" cy="217.6"/><circle cx="846.7" cy="194.6"/><circle cx="994.1" cy="210.2"/><circle cx="921.8" cy="204.4"/><circle cx="908.1" cy="242"/></g><g class="p"><circle cx="826.1" cy="140.7"/><circle cx="1096.4" cy="212.8"/><circle cx="934.8" cy="110.5"/><circle cx="1121" cy="192.4"/><circle cx="911.7" cy="143.9"/><circle cx="821.3" cy="103.8"/><circle cx="842.1" cy="112.3"/><circle cx="831.2" cy="130.4"/><circle cx="846.7" cy="178.9"/><circle cx="994.1" cy="217.5"/><circle cx="921.8" cy="161.5"/><circle cx="908.1" cy="160.4"/></g><g class="o"><circle cx="848.3" cy="206.3"/><circle cx="903.9" cy="209.4"/><circle cx="807.6" cy="205.1"/><circle cx="1010.8" cy="203"/><circle cx="862" cy="211.3"/><circle cx="837.9" cy="203.7"/><circle cx="797.2" cy="256.7"/><circle cx="1092.6" cy="183.3"/><circle cx="995" cy="201.5"/><circle cx="822.3" cy="215.9"/><circle cx="850.9" cy="200.8"/><circle cx="870.6" cy="200.1"/></g><g class="p"><circle cx="848.3" cy="135.2"/><circle cx="903.9" cy="130.2"/><circle cx="807.6" cy="134.7"/><circle cx="1010.8" cy="210.3"/><circle cx="862" cy="174.7"/><circle cx="837.9" cy="189.3"/><circle cx="797.2" cy="116.9"/><circle cx="1092.6" cy="185.1"/><circle cx="995" cy="177.3"/><circle cx="822.3" cy="160.3"/><circle cx="850.9" cy="156.5"/><circle cx="870.6" cy="121.1"/></g><g class="o"><circle cx="993.1" cy="192.1"/><circle cx="830.4" cy="219.6"/><circle cx="797.5" cy="205.8"/><circle cx="1013.9" cy="202.8"/><circle cx="855.1" cy="214.3"/><circle cx="885.4" cy="201.4"/><circle cx="797.9" cy="200.8"/><circle cx="1229" cy="172.5"/><circle cx="874.2" cy="201.1"/><circle cx="828.4" cy="198.5"/><circle cx="812" cy="214.2"/><circle cx="809.9" cy="194"/></g><g class="p"><circle cx="993.1" cy="182.9"/><circle cx="830.4" cy="148.9"/><circle cx="797.5" cy="159.9"/><circle cx="1013.9" cy="173.3"/><circle cx="855.1" cy="118.1"/><circle cx="885.4" cy="136.2"/><circle cx="797.9" cy="166.6"/><circle cx="1229" cy="204.1"/><circle cx="874.2" cy="159"/><circle cx="828.4" cy="162.5"/><circle cx="812" cy="124.9"/><circle cx="809.9" cy="124.8"/></g><g class="o"><circle cx="1027.1" cy="179.2"/><circle cx="1007.6" cy="234"/><circle cx="1131.7" cy="179.2"/><circle cx="844" cy="213.7"/><circle cx="1089.8" cy="179.1"/><circle cx="802.8" cy="218.6"/><circle cx="1130.5" cy="171.5"/><circle cx="904.4" cy="218.2"/><circle cx="967.6" cy="217.6"/><circle cx="837.9" cy="202.4"/><circle cx="896.3" cy="203.5"/><circle cx="812" cy="209.4"/></g><g class="p"><circle cx="1027.1" cy="177.5"/><circle cx="1007.6" cy="199.7"/><circle cx="1131.7" cy="257.2"/><circle cx="844" cy="128.7"/><circle cx="1089.8" cy="218"/><circle cx="802.8" cy="121.4"/><circle cx="1130.5" cy="221.5"/><circle cx="904.4" cy="139.9"/><circle cx="967.6" cy="208"/><circle cx="837.9" cy="148.4"/><circle cx="896.3" cy="172.6"/><circle cx="812" cy="163.4"/></g><g class="o"><circle cx="802.5" cy="204.4"/><circle cx="905.3" cy="196.4"/><circle cx="842" cy="211.6"/><circle cx="830" cy="208.3"/><circle cx="1048.8" cy="209.6"/><circle cx="801.6" cy="213.1"/><circle cx="882.1" cy="186.5"/><circle cx="854" cy="216.8"/><circle cx="892.7" cy="208"/><circle cx="1100.4" cy="176.7"/><circle cx="927.6" cy="206.7"/><circle cx="827.7" cy="211"/></g><g class="p"><circle cx="802.5" cy="137.8"/><circle cx="905.3" cy="164.6"/><circle cx="842" cy="123"/><circle cx="830" cy="110.9"/><circle cx="1048.8" cy="186.2"/><circle cx="801.6" cy="119.8"/><circle cx="882.1" cy="130.1"/><circle cx="854" cy="166.1"/><circle cx="892.7" cy="149.8"/><circle cx="1100.4" cy="226.5"/><circle cx="927.6" cy="202.8"/><circle cx="827.7" cy="145.4"/></g><g class="o"><circle cx="1118.2" cy="166.1"/><circle cx="1091.7" cy="175.9"/><circle cx="804.4" cy="213.1"/><circle cx="824.2" cy="217.9"/><circle cx="882.6" cy="238.8"/><circle cx="855.2" cy="206.5"/><circle cx="810.6" cy="214"/><circle cx="820.7" cy="201.7"/><circle cx="1135.5" cy="187.3"/><circle cx="1180.8" cy="174.6"/><circle cx="807.9" cy="206.2"/><circle cx="813" cy="212.3"/></g><g class="p"><circle cx="1118.2" cy="199.1"/><circle cx="1091.7" cy="207.2"/><circle cx="804.4" cy="130.7"/><circle cx="824.2" cy="159.1"/><circle cx="882.6" cy="162.3"/><circle cx="855.2" cy="159.7"/><circle cx="810.6" cy="115.8"/><circle cx="820.7" cy="138"/><circle cx="1135.5" cy="210.6"/><circle cx="1180.8" cy="248.2"/><circle cx="807.9" cy="105.8"/><circle cx="813" cy="146.2"/></g><g class="o"><circle cx="802.2" cy="219.1"/><circle cx="1034.3" cy="216.1"/><circle cx="959.6" cy="215.3"/><circle cx="862.8" cy="210"/><circle cx="998.6" cy="229.8"/><circle cx="796.3" cy="218.2"/><circle cx="1101.8" cy="187.2"/><circle cx="808.1" cy="216.4"/><circle cx="901.1" cy="206.2"/><circle cx="1123.6" cy="166.1"/><circle cx="884.7" cy="210.9"/><circle cx="813.9" cy="183.9"/></g><g class="p"><circle cx="802.2" cy="111.9"/><circle cx="1034.3" cy="236.2"/><circle cx="959.6" cy="137.7"/><circle cx="862.8" cy="159.8"/><circle cx="998.6" cy="209.3"/><circle cx="796.3" cy="176.5"/><circle cx="1101.8" cy="224.8"/><circle cx="808.1" cy="135.6"/><circle cx="901.1" cy="162.3"/><circle cx="1123.6" cy="209.7"/><circle cx="884.7" cy="147.3"/><circle cx="813.9" cy="151.7"/></g><g class="o"><circle cx="961.5" cy="187.4"/><circle cx="1069.8" cy="188.2"/><circle cx="997.2" cy="219.3"/><circle cx="833.1" cy="209.3"/><circle cx="1087.8" cy="195"/><circle cx="851.1" cy="211.5"/><circle cx="1155.9" cy="193.6"/><circle cx="986.7" cy="205.8"/><circle cx="1078.6" cy="196.4"/><circle cx="826.6" cy="210.7"/><circle cx="797.1" cy="222.5"/><circle cx="815.9" cy="225.9"/></g><g class="p"><circle cx="961.5" cy="163.8"/><circle cx="1069.8" cy="209.3"/><circle cx="997.2" cy="186.6"/><circle cx="833.1" cy="121.1"/><circle cx="1087.8" cy="228.6"/><circle cx="851.1" cy="126.1"/><circle cx="1155.9" cy="207.1"/><circle cx="986.7" cy="158"/><circle cx="1078.6" cy="223.2"/><circle cx="826.6" cy="128.8"/><circle cx="797.1" cy="143.8"/><circle cx="815.9" cy="121.6"/></g><g class="o"><circle cx="1094.6" cy="160"/><circle cx="991.1" cy="197.9"/><circle cx="840.3" cy="203.8"/><circle cx="873.8" cy="231.2"/><circle cx="1042.1" cy="190.4"/><circle cx="797" cy="210.9"/><circle cx="923.2" cy="222.3"/><circle cx="1140.4" cy="191.2"/><circle cx="822.5" cy="217.1"/><circle cx="892.9" cy="202.1"/><circle cx="1114.2" cy="185"/><circle cx="1055.7" cy="198.2"/></g><g class="p"><circle cx="1094.6" cy="201.8"/><circle cx="991.1" cy="216"/><circle cx="840.3" cy="133.5"/><circle cx="873.8" cy="190.2"/><circle cx="1042.1" cy="188.6"/><circle cx="797" cy="96.7"/><circle cx="923.2" cy="160.6"/><circle cx="1140.4" cy="192"/><circle cx="822.5" cy="137.7"/><circle cx="892.9" cy="167.1"/><circle cx="1114.2" cy="212.5"/><circle cx="1055.7" cy="182.4"/></g><g class="o"><circle cx="988.4" cy="200.7"/><circle cx="926.2" cy="214.7"/><circle cx="801.4" cy="216.5"/><circle cx="862.3" cy="206.7"/><circle cx="1191" cy="180.7"/><circle cx="797.8" cy="215"/><circle cx="901.3" cy="210.7"/><circle cx="955.1" cy="211"/><circle cx="1025.5" cy="210.8"/><circle cx="810.2" cy="215.9"/><circle cx="917.4" cy="201.3"/><circle cx="1043.5" cy="178.8"/></g><g class="p"><circle cx="988.4" cy="171.6"/><circle cx="926.2" cy="190.9"/><circle cx="801.4" cy="106.1"/><circle cx="862.3" cy="145.4"/><circle cx="1191" cy="220.6"/><circle cx="797.8" cy="108.3"/><circle cx="901.3" cy="179.2"/><circle cx="955.1" cy="219.8"/><circle cx="1025.5" cy="236.2"/><circle cx="810.2" cy="131.2"/><circle cx="917.4" cy="171.2"/><circle cx="1043.5" cy="205.6"/></g><g class="o"><circle cx="1062" cy="209.2"/><circle cx="918" cy="234.5"/><circle cx="976.7" cy="191"/><circle cx="797.8" cy="214.1"/><circle cx="854.4" cy="207.8"/><circle cx="834" cy="218"/><circle cx="861.9" cy="203.6"/><circle cx="848" cy="222.2"/><circle cx="871.6" cy="194.5"/><circle cx="839.7" cy="219.9"/><circle cx="1159.5" cy="166.3"/><circle cx="796.2" cy="215.1"/></g><g class="p"><circle cx="1062" cy="200.2"/><circle cx="918" cy="171.7"/><circle cx="976.7" cy="150.2"/><circle cx="797.8" cy="136.1"/><circle cx="854.4" cy="161.7"/><circle cx="834" cy="102.6"/><circle cx="861.9" cy="162.1"/><circle cx="848" cy="177.5"/><circle cx="871.6" cy="111.6"/><circle cx="839.7" cy="139.7"/><circle cx="1159.5" cy="236"/><circle cx="796.2" cy="152.8"/></g><g class="o"><circle cx="804" cy="201.3"/><circle cx="826" cy="220.5"/><circle cx="1070.6" cy="193.1"/><circle cx="938.9" cy="212"/><circle cx="812.6" cy="210.9"/><circle cx="915.4" cy="217.9"/><circle cx="817.5" cy="219.8"/><circle cx="912.8" cy="225.7"/><circle cx="1076.2" cy="195.4"/><circle cx="881.6" cy="190.9"/><circle cx="846.6" cy="224.7"/><circle cx="849.3" cy="213.7"/></g><g class="p"><circle cx="804" cy="147.5"/><circle cx="826" cy="101.9"/><circle cx="1070.6" cy="242.5"/><circle cx="938.9" cy="189.7"/><circle cx="812.6" cy="136.1"/><circle cx="915.4" cy="160.1"/><circle cx="817.5" cy="164.7"/><circle cx="912.8" cy="90.8"/><circle cx="1076.2" cy="240.1"/><circle cx="881.6" cy="160"/><circle cx="846.6" cy="162.8"/><circle cx="849.3" cy="140.4"/></g><g class="o"><circle cx="931.7" cy="207.5"/><circle cx="989.9" cy="216.5"/><circle cx="952.8" cy="219.5"/><circle cx="830.9" cy="218"/><circle cx="1049.3" cy="181.2"/><circle cx="994.8" cy="204.7"/><circle cx="960.8" cy="204.4"/><circle cx="1180.3" cy="175.1"/><circle cx="796.3" cy="197"/><circle cx="796.7" cy="198.5"/><circle cx="1054.4" cy="200.5"/><circle cx="927.8" cy="189.1"/></g><g class="p"><circle cx="931.7" cy="147.9"/><circle cx="989.9" cy="206.2"/><circle cx="952.8" cy="182.6"/><circle cx="830.9" cy="113"/><circle cx="1049.3" cy="208.6"/><circle cx="994.8" cy="190.6"/><circle cx="960.8" cy="151.1"/><circle cx="1180.3" cy="199.8"/><circle cx="796.3" cy="97.9"/><circle cx="796.7" cy="132.6"/><circle cx="1054.4" cy="204.6"/><circle cx="927.8" cy="113"/></g><g class="o"><circle cx="806.6" cy="205.4"/><circle cx="882.3" cy="198.4"/><circle cx="984.6" cy="195.9"/><circle cx="939.8" cy="214.6"/><circle cx="962.8" cy="210.8"/><circle cx="886" cy="223.8"/><circle cx="843.8" cy="228.8"/><circle cx="1059.5" cy="166.6"/><circle cx="1109" cy="195.3"/><circle cx="1138.7" cy="198.1"/><circle cx="1023.5" cy="185.3"/><circle cx="960.1" cy="207.9"/></g><g class="p"><circle cx="806.6" cy="132.9"/><circle cx="882.3" cy="168.8"/><circle cx="984.6" cy="150.8"/><circle cx="939.8" cy="218.9"/><circle cx="962.8" cy="213.6"/><circle cx="886" cy="127.9"/><circle cx="843.8" cy="122.9"/><circle cx="1059.5" cy="210.8"/><circle cx="1109" cy="242.6"/><circle cx="1138.7" cy="225.1"/><circle cx="1023.5" cy="162.3"/><circle cx="960.1" cy="197.9"/></g><g class="o"><circle cx="835.7" cy="202.5"/><circle cx="797.6" cy="208.9"/><circle cx="816.1" cy="194.3"/><circle cx="938.8" cy="185.6"/><circle cx="797" cy="209.4"/><circle cx="1112.8" cy="170"/><circle cx="828.3" cy="225.4"/><circle cx="878.1" cy="203.7"/><circle cx="841.4" cy="221"/><circle cx="1018.6" cy="196.9"/><circle cx="973.5" cy="211.4"/><circle cx="812.3" cy="209.8"/></g><g class="p"><circle cx="835.7" cy="157.3"/><circle cx="797.6" cy="140.7"/><circle cx="816.1" cy="140.1"/><circle cx="938.8" cy="168"/><circle cx="797" cy="145"/><circle cx="1112.8" cy="211.3"/><circle cx="828.3" cy="127.7"/><circle cx="878.1" cy="191.1"/><circle cx="841.4" cy="107.2"/><circle cx="1018.6" cy="181.6"/><circle cx="973.5" cy="177"/><circle cx="812.3" cy="135.6"/></g><g class="o"><circle cx="827.2" cy="199"/><circle cx="899.8" cy="218.2"/><circle cx="1079.9" cy="190.3"/><circle cx="934.9" cy="214.3"/><circle cx="1075.1" cy="204.2"/><circle cx="1166.3" cy="182.2"/><circle cx="836.4" cy="190.7"/><circle cx="859.6" cy="158.9"/><circle cx="1041.9" cy="196.1"/><circle cx="927.1" cy="211.2"/><circle cx="1003.6" cy="191.4"/><circle cx="850.1" cy="222.5"/></g><g class="p"><circle cx="827.2" cy="151.8"/><circle cx="899.8" cy="189"/><circle cx="1079.9" cy="223.7"/><circle cx="934.9" cy="156.2"/><circle cx="1075.1" cy="202.5"/><circle cx="1166.3" cy="186.1"/><circle cx="836.4" cy="116.6"/><circle cx="859.6" cy="143.8"/><circle cx="1041.9" cy="162"/><circle cx="927.1" cy="172.6"/><circle cx="1003.6" cy="163.1"/><circle cx="850.1" cy="131"/></g><g class="o"><circle cx="1010.7" cy="191.8"/><circle cx="799.8" cy="209.2"/><circle cx="1076.2" cy="206.6"/><circle cx="820.1" cy="217.3"/><circle cx="999" cy="220.2"/><circle cx="930.7" cy="205.4"/><circle cx="1065" cy="192.2"/><circle cx="947.6" cy="217.6"/><circle cx="812.7" cy="207.3"/><circle cx="958.9" cy="216"/><circle cx="1143.9" cy="198.7"/><circle cx="1041.8" cy="183.2"/></g><g class="p"><circle cx="1010.7" cy="154"/><circle cx="799.8" cy="173.5"/><circle cx="1076.2" cy="261.7"/><circle cx="820.1" cy="140.2"/><circle cx="999" cy="156.1"/><circle cx="930.7" cy="161.5"/><circle cx="1065" cy="198.5"/><circle cx="947.6" cy="164.3"/><circle cx="812.7" cy="138.3"/><circle cx="958.9" cy="205.5"/><circle cx="1143.9" cy="206.7"/><circle cx="1041.8" cy="210.6"/></g><g class="o"><circle cx="1124.7" cy="179.8"/><circle cx="843.8" cy="202.7"/><circle cx="897.3" cy="213.2"/><circle cx="1060.1" cy="189.4"/><circle cx="847.8" cy="216"/><circle cx="1140.5" cy="190.2"/><circle cx="905.6" cy="210.5"/><circle cx="843.2" cy="207.3"/><circle cx="949.1" cy="185.9"/><circle cx="945.7" cy="197.1"/><circle cx="930.4" cy="215.5"/><circle cx="862.7" cy="216.6"/></g><g class="p"><circle cx="1124.7" cy="197.1"/><circle cx="843.8" cy="158.2"/><circle cx="897.3" cy="114.7"/><circle cx="1060.1" cy="178.2"/><circle cx="847.8" cy="153.3"/><circle cx="1140.5" cy="222.1"/><circle cx="905.6" cy="167.9"/><circle cx="843.2" cy="140.4"/><circle cx="949.1" cy="158.2"/><circle cx="945.7" cy="166.9"/><circle cx="930.4" cy="151.4"/><circle cx="862.7" cy="141.8"/></g><g class="o"><circle cx="898.7" cy="202.4"/><circle cx="1155.6" cy="174.8"/><circle cx="1091.4" cy="212.2"/><circle cx="1054.2" cy="192.8"/><circle cx="1183.5" cy="174"/><circle cx="911.9" cy="220.9"/><circle cx="889.4" cy="216.4"/><circle cx="815.4" cy="204.8"/><circle cx="1096" cy="189"/><circle cx="946.7" cy="223.5"/><circle cx="919.5" cy="195.1"/><circle cx="981.1" cy="193.7"/></g><g class="p"><circle cx="898.7" cy="187.7"/><circle cx="1155.6" cy="225.6"/><circle cx="1091.4" cy="212.9"/><circle cx="1054.2" cy="229.6"/><circle cx="1183.5" cy="240.1"/><circle cx="911.9" cy="179.4"/><circle cx="889.4" cy="132.8"/><circle cx="815.4" cy="132.4"/><circle cx="1096" cy="219.1"/><circle cx="946.7" cy="163.9"/><circle cx="919.5" cy="178.4"/><circle cx="981.1" cy="195.7"/></g><g class="o"><circle cx="1129.7" cy="177.7"/><circle cx="923.9" cy="175.6"/><circle cx="826.1" cy="235.6"/><circle cx="805.9" cy="211.8"/><circle cx="941.9" cy="210.1"/><circle cx="797.4" cy="220.8"/><circle cx="915.1" cy="220.9"/><circle cx="867.2" cy="215.4"/><circle cx="924.1" cy="206.8"/><circle cx="868.8" cy="199.9"/><circle cx="909.5" cy="235.7"/><circle cx="971.9" cy="197.2"/></g><g class="p"><circle cx="1129.7" cy="237.9"/><circle cx="923.9" cy="186.7"/><circle cx="826.1" cy="111.5"/><circle cx="805.9" cy="148.1"/><circle cx="941.9" cy="170.7"/><circle cx="797.4" cy="120.2"/><circle cx="915.1" cy="175"/><circle cx="867.2" cy="144.2"/><circle cx="924.1" cy="145.3"/><circle cx="868.8" cy="164.7"/><circle cx="909.5" cy="173.5"/><circle cx="971.9" cy="204.6"/></g><g class="o"><circle cx="1074.1" cy="225.9"/><circle cx="887.2" cy="201"/><circle cx="835.4" cy="203.9"/><circle cx="814" cy="207.5"/><circle cx="871.3" cy="210.4"/><circle cx="868.3" cy="213"/><circle cx="924.6" cy="220.8"/><circle cx="1137.9" cy="182.6"/><circle cx="1005.7" cy="209"/><circle cx="858.8" cy="218.3"/><circle cx="885.1" cy="213.5"/><circle cx="1074.7" cy="204"/></g><g class="p"><circle cx="1074.1" cy="221"/><circle cx="887.2" cy="148.8"/><circle cx="835.4" cy="156.7"/><circle cx="814" cy="139.6"/><circle cx="871.3" cy="141.4"/><circle cx="868.3" cy="139.2"/><circle cx="924.6" cy="117.6"/><circle cx="1137.9" cy="196.3"/><circle cx="1005.7" cy="165.5"/><circle cx="858.8" cy="130.9"/><circle cx="885.1" cy="154.5"/><circle cx="1074.7" cy="203.1"/></g><g class="o"><circle cx="831.8" cy="201.4"/><circle cx="893.5" cy="205.7"/><circle cx="818.9" cy="222.3"/><circle cx="858" cy="209.1"/><circle cx="1020.9" cy="191.2"/><circle cx="864.4" cy="215.6"/><circle cx="1005.5" cy="188.8"/><circle cx="824.7" cy="211.2"/><circle cx="860.2" cy="214.2"/><circle cx="1073.4" cy="220.5"/><circle cx="1024.8" cy="177.7"/><circle cx="927.6" cy="188.4"/></g><g class="p"><circle cx="831.8" cy="146.7"/><circle cx="893.5" cy="126.6"/><circle cx="818.9" cy="145.6"/><circle cx="858" cy="126.1"/><circle cx="1020.9" cy="196.8"/><circle cx="864.4" cy="153.1"/><circle cx="1005.5" cy="227.7"/><circle cx="824.7" cy="168.8"/><circle cx="860.2" cy="132.6"/><circle cx="1073.4" cy="225.7"/><circle cx="1024.8" cy="172.6"/><circle cx="927.6" cy="149.6"/></g><g class="o"><circle cx="847.9" cy="217.9"/><circle cx="876.9" cy="199.7"/><circle cx="837.7" cy="203.5"/><circle cx="1102.2" cy="181.3"/><circle cx="818.5" cy="209.8"/><circle cx="841.7" cy="212.4"/><circle cx="900.4" cy="213.9"/><circle cx="829.4" cy="216.4"/><circle cx="812.5" cy="212.6"/><circle cx="984.5" cy="203.9"/><circle cx="822.1" cy="206.5"/><circle cx="1136.5" cy="185.2"/></g><g class="p"><circle cx="847.9" cy="132.4"/><circle cx="876.9" cy="152.1"/><circle cx="837.7" cy="115.1"/><circle cx="1102.2" cy="218.8"/><circle cx="818.5" cy="160.6"/><circle cx="841.7" cy="180.4"/><circle cx="900.4" cy="139.3"/><circle cx="829.4" cy="129.3"/><circle cx="812.5" cy="191.1"/><circle cx="984.5" cy="182.2"/><circle cx="822.1" cy="122.5"/><circle cx="1136.5" cy="195.7"/></g><g class="o"><circle cx="1074.7" cy="209.7"/><circle cx="815.1" cy="216.6"/><circle cx="913.3" cy="213.2"/><circle cx="811" cy="202.7"/><circle cx="997.1" cy="199.2"/><circle cx="980.8" cy="223.9"/><circle cx="1102.9" cy="199.7"/><circle cx="807" cy="197.5"/><circle cx="1185.1" cy="194.9"/><circle cx="961.9" cy="209.5"/><circle cx="802.5" cy="201.2"/><circle cx="944" cy="212.3"/></g><g class="p"><circle cx="1074.7" cy="224.8"/><circle cx="815.1" cy="109.1"/><circle cx="913.3" cy="205"/><circle cx="811" cy="140.2"/><circle cx="997.1" cy="180.1"/><circle cx="980.8" cy="202.4"/><circle cx="1102.9" cy="202.8"/><circle cx="807" cy="142.7"/><circle cx="1185.1" cy="236.4"/><circle cx="961.9" cy="200.7"/><circle cx="802.5" cy="117.9"/><circle cx="944" cy="150.1"/></g><g class="o"><circle cx="1115.8" cy="186.5"/><circle cx="846" cy="215.2"/><circle cx="932.7" cy="232.6"/><circle cx="1022.3" cy="200.4"/><circle cx="868.8" cy="209.9"/><circle cx="804.1" cy="214.8"/><circle cx="1011.3" cy="221.3"/><circle cx="1103" cy="168.6"/><circle cx="808.6" cy="215.9"/><circle cx="814.5" cy="198.8"/><circle cx="844.6" cy="198.5"/><circle cx="939.8" cy="190.2"/></g><g class="p"><circle cx="1115.8" cy="209.5"/><circle cx="846" cy="131.6"/><circle cx="932.7" cy="168"/><circle cx="1022.3" cy="178.4"/><circle cx="868.8" cy="155.4"/><circle cx="804.1" cy="124.4"/><circle cx="1011.3" cy="221"/><circle cx="1103" cy="228.7"/><circle cx="808.6" cy="105.9"/><circle cx="814.5" cy="102.1"/><circle cx="844.6" cy="141.3"/><circle cx="939.8" cy="139.5"/></g><g class="o"><circle cx="990.6" cy="196.3"/><circle cx="796.9" cy="222.9"/><circle cx="824.4" cy="220"/><circle cx="859.6" cy="209.4"/><circle cx="943" cy="196.9"/><circle cx="801" cy="205.1"/><circle cx="947.7" cy="206.8"/><circle cx="1123.3" cy="194.9"/><circle cx="1128.8" cy="163.3"/><circle cx="975.3" cy="201.7"/><circle cx="1214" cy="179"/><circle cx="825.3" cy="207.6"/></g><g class="p"><circle cx="990.6" cy="160.5"/><circle cx="796.9" cy="122.1"/><circle cx="824.4" cy="118.5"/><circle cx="859.6" cy="130.2"/><circle cx="943" cy="137"/><circle cx="801" cy="137"/><circle cx="947.7" cy="162.5"/><circle cx="1123.3" cy="226.2"/><circle cx="1128.8" cy="225.8"/><circle cx="975.3" cy="184.6"/><circle cx="1214" cy="218.6"/><circle cx="825.3" cy="163.3"/></g><g class="o"><circle cx="806.2" cy="222.1"/><circle cx="1150.4" cy="169.4"/><circle cx="1044.8" cy="189.2"/><circle cx="830.4" cy="197.5"/><circle cx="849.8" cy="216.1"/><circle cx="932.7" cy="216.4"/><circle cx="959.4" cy="210.2"/><circle cx="977.1" cy="214.2"/><circle cx="916.6" cy="180.1"/><circle cx="1199.7" cy="190.3"/><circle cx="821.8" cy="221"/><circle cx="952.1" cy="206.9"/></g><g class="p"><circle cx="806.2" cy="139.1"/><circle cx="1150.4" cy="208.2"/><circle cx="1044.8" cy="179.8"/><circle cx="830.4" cy="142.6"/><circle cx="849.8" cy="150.3"/><circle cx="932.7" cy="148.3"/><circle cx="959.4" cy="158.9"/><circle cx="977.1" cy="182.7"/><circle cx="916.6" cy="173.1"/><circle cx="1199.7" cy="215.9"/><circle cx="821.8" cy="129.8"/><circle cx="952.1" cy="157"/></g><g class="o"><circle cx="1056.5" cy="178.9"/><circle cx="928.1" cy="205.2"/><circle cx="896.2" cy="206.8"/><circle cx="936.1" cy="202.6"/><circle cx="799.3" cy="202.1"/><circle cx="889.9" cy="205.4"/><circle cx="817.8" cy="201.1"/><circle cx="1129.1" cy="184.7"/><circle cx="836.4" cy="220"/><circle cx="935.3" cy="210"/><circle cx="840.7" cy="203.9"/><circle cx="916" cy="199.8"/></g><g class="p"><circle cx="1056.5" cy="219.2"/><circle cx="928.1" cy="111.8"/><circle cx="896.2" cy="136.4"/><circle cx="936.1" cy="158.3"/><circle cx="799.3" cy="124.7"/><circle cx="889.9" cy="154"/><circle cx="817.8" cy="142.7"/><circle cx="1129.1" cy="208.8"/><circle cx="836.4" cy="123.5"/><circle cx="935.3" cy="94"/><circle cx="840.7" cy="105.3"/><circle cx="916" cy="129"/></g><g class="o"><circle cx="1070.1" cy="193.3"/><circle cx="1164.7" cy="186.4"/><circle cx="966.5" cy="211.3"/><circle cx="804" cy="202"/><circle cx="800.1" cy="208.6"/><circle cx="810.5" cy="203.3"/><circle cx="808" cy="215"/><circle cx="1121.9" cy="177.6"/><circle cx="910.2" cy="207.5"/><circle cx="948.4" cy="209.7"/><circle cx="877.1" cy="203.7"/><circle cx="1198" cy="191.9"/></g><g class="p"><circle cx="1070.1" cy="219.4"/><circle cx="1164.7" cy="214.5"/><circle cx="966.5" cy="185"/><circle cx="804" cy="174.7"/><circle cx="800.1" cy="129.2"/><circle cx="810.5" cy="143.1"/><circle cx="808" cy="109.8"/><circle cx="1121.9" cy="206.1"/><circle cx="910.2" cy="158.8"/><circle cx="948.4" cy="123.1"/><circle cx="877.1" cy="164.3"/><circle cx="1198" cy="207.9"/></g><g class="o"><circle cx="836.3" cy="231.2"/><circle cx="981.9" cy="180.1"/><circle cx="916.4" cy="222.8"/><circle cx="1010.2" cy="206.6"/><circle cx="937.5" cy="194.6"/><circle cx="912.5" cy="195.2"/><circle cx="923.8" cy="202"/><circle cx="1093.9" cy="208.3"/><circle cx="801.3" cy="220.9"/><circle cx="899.5" cy="213.7"/><circle cx="1055.9" cy="205.9"/><circle cx="874.5" cy="197.8"/></g><g class="p"><circle cx="836.3" cy="119.5"/><circle cx="981.9" cy="198.6"/><circle cx="916.4" cy="158.2"/><circle cx="1010.2" cy="215.1"/><circle cx="937.5" cy="182.8"/><circle cx="912.5" cy="171.3"/><circle cx="923.8" cy="172.8"/><circle cx="1093.9" cy="229"/><circle cx="801.3" cy="109.8"/><circle cx="899.5" cy="121.8"/><circle cx="1055.9" cy="224.1"/><circle cx="874.5" cy="112.1"/></g><g class="o"><circle cx="820.2" cy="205.7"/><circle cx="992.3" cy="191.1"/><circle cx="811" cy="218.4"/><circle cx="1042.3" cy="211.8"/><circle cx="1009.5" cy="196.1"/><circle cx="913.2" cy="211.6"/><circle cx="924.7" cy="203.7"/><circle cx="924.2" cy="221.4"/><circle cx="955.8" cy="199.4"/><circle cx="799.1" cy="212.8"/><circle cx="898.4" cy="201.9"/><circle cx="1102.3" cy="188.3"/></g><g class="p"><circle cx="820.2" cy="144.3"/><circle cx="992.3" cy="218"/><circle cx="811" cy="140.1"/><circle cx="1042.3" cy="239.8"/><circle cx="1009.5" cy="193.5"/><circle cx="913.2" cy="157.3"/><circle cx="924.7" cy="208.1"/><circle cx="924.2" cy="161.9"/><circle cx="955.8" cy="159.6"/><circle cx="799.1" cy="140.5"/><circle cx="898.4" cy="179.4"/><circle cx="1102.3" cy="214.4"/></g><g class="o"><circle cx="840.1" cy="220.2"/><circle cx="806.3" cy="227.2"/><circle cx="814.1" cy="209.3"/><circle cx="1037.2" cy="198.7"/><circle cx="882" cy="191.3"/><circle cx="1050.3" cy="201.3"/><circle cx="918" cy="212.3"/><circle cx="1149.7" cy="184.9"/><circle cx="857.7" cy="214.2"/><circle cx="1062.3" cy="202.6"/><circle cx="798" cy="207.6"/><circle cx="940.7" cy="182.6"/></g><g class="p"><circle cx="840.1" cy="123.3"/><circle cx="806.3" cy="123.1"/><circle cx="814.1" cy="159.3"/><circle cx="1037.2" cy="204.4"/><circle cx="882" cy="154.8"/><circle cx="1050.3" cy="182.7"/><circle cx="918" cy="153.1"/><circle cx="1149.7" cy="241.9"/><circle cx="857.7" cy="129.9"/><circle cx="1062.3" cy="214.1"/><circle cx="798" cy="98.9"/><circle cx="940.7" cy="137.6"/></g><g class="o"><circle cx="822.9" cy="210"/><circle cx="847.9" cy="207.8"/><circle cx="823.9" cy="224.9"/><circle cx="1013.6" cy="229.5"/><circle cx="933" cy="187.5"/><circle cx="1132" cy="202.3"/><circle cx="807.3" cy="211.8"/><circle cx="831.9" cy="226.2"/><circle cx="897.7" cy="213.1"/><circle cx="875.6" cy="198.5"/><circle cx="1093.2" cy="165.9"/><circle cx="914.5" cy="200.8"/></g><g class="p"><circle cx="822.9" cy="142"/><circle cx="847.9" cy="175.3"/><circle cx="823.9" cy="142.8"/><circle cx="1013.6" cy="172.3"/><circle cx="933" cy="158.8"/><circle cx="1132" cy="236.5"/><circle cx="807.3" cy="96.3"/><circle cx="831.9" cy="152.2"/><circle cx="897.7" cy="165.9"/><circle cx="875.6" cy="156.6"/><circle cx="1093.2" cy="173.6"/><circle cx="914.5" cy="131.8"/></g><g class="o"><circle cx="869.7" cy="205.5"/><circle cx="799.9" cy="208.9"/><circle cx="854.7" cy="201.8"/><circle cx="859.4" cy="209.7"/><circle cx="999.1" cy="198.3"/><circle cx="1024.3" cy="218.7"/><circle cx="1144.7" cy="179.7"/><circle cx="807.7" cy="206"/><circle cx="1224.3" cy="189.3"/><circle cx="970.2" cy="225.5"/><circle cx="868.5" cy="225.2"/><circle cx="1161.2" cy="206.5"/></g><g class="p"><circle cx="869.7" cy="121.9"/><circle cx="799.9" cy="124.3"/><circle cx="854.7" cy="169.9"/><circle cx="859.4" cy="138.9"/><circle cx="999.1" cy="157.9"/><circle cx="1024.3" cy="194.9"/><circle cx="1144.7" cy="207"/><circle cx="807.7" cy="131.3"/><circle cx="1224.3" cy="247.4"/><circle cx="970.2" cy="154.4"/><circle cx="868.5" cy="162.3"/><circle cx="1161.2" cy="203.4"/></g><g class="o"><circle cx="1090.2" cy="156.3"/><circle cx="828.6" cy="194.4"/><circle cx="904.5" cy="219"/><circle cx="1057" cy="203.7"/><circle cx="991.5" cy="222.9"/><circle cx="823.3" cy="219"/><circle cx="891.4" cy="202.2"/><circle cx="918.7" cy="210"/><circle cx="838.7" cy="208.2"/><circle cx="1110.6" cy="227.5"/><circle cx="1069.4" cy="162.4"/><circle cx="1038.9" cy="186.1"/></g><g class="p"><circle cx="1090.2" cy="224.5"/><circle cx="828.6" cy="139.2"/><circle cx="904.5" cy="126.2"/><circle cx="1057" cy="170.4"/><circle cx="991.5" cy="217.8"/><circle cx="823.3" cy="137.7"/><circle cx="891.4" cy="146.1"/><circle cx="918.7" cy="149.5"/><circle cx="838.7" cy="145.8"/><circle cx="1110.6" cy="178.2"/><circle cx="1069.4" cy="250"/><circle cx="1038.9" cy="178.3"/></g><g class="o"><circle cx="894.2" cy="213.5"/><circle cx="1143" cy="194.4"/><circle cx="1114.1" cy="187.3"/><circle cx="945" cy="226.3"/><circle cx="1160.7" cy="189.3"/><circle cx="1018.5" cy="204.4"/><circle cx="1186.1" cy="211.8"/><circle cx="1006.3" cy="189.5"/><circle cx="813.4" cy="211.9"/><circle cx="806.1" cy="206.4"/><circle cx="1137.5" cy="176.6"/><circle cx="895.4" cy="199.1"/></g><g class="p"><circle cx="894.2" cy="156.7"/><circle cx="1143" cy="228"/><circle cx="1114.1" cy="208.5"/><circle cx="945" cy="139.2"/><circle cx="1160.7" cy="210"/><circle cx="1018.5" cy="195.4"/><circle cx="1186.1" cy="199"/><circle cx="1006.3" cy="151.7"/><circle cx="813.4" cy="168.1"/><circle cx="806.1" cy="147.5"/><circle cx="1137.5" cy="219.6"/><circle cx="895.4" cy="141.6"/></g><g class="o"><circle cx="989.6" cy="202.7"/><circle cx="988.7" cy="187.9"/><circle cx="972.2" cy="196.2"/><circle cx="1139.8" cy="206"/><circle cx="890.1" cy="227.6"/><circle cx="1022.9" cy="199.7"/><circle cx="1042.2" cy="213.3"/><circle cx="1101.9" cy="201.9"/><circle cx="982.9" cy="208.1"/><circle cx="1069" cy="222.5"/><circle cx="1024.5" cy="183.5"/><circle cx="939.3" cy="202.4"/></g><g class="p"><circle cx="989.6" cy="196"/><circle cx="988.7" cy="207.2"/><circle cx="972.2" cy="190.4"/><circle cx="1139.8" cy="235.8"/><circle cx="890.1" cy="162.4"/><circle cx="1022.9" cy="236.3"/><circle cx="1042.2" cy="218"/><circle cx="1101.9" cy="216.6"/><circle cx="982.9" cy="167.5"/><circle cx="1069" cy="171"/><circle cx="1024.5" cy="194.5"/><circle cx="939.3" cy="139.4"/></g><g class="o"><circle cx="832.8" cy="208.6"/><circle cx="824.2" cy="214.9"/><circle cx="811.1" cy="213.8"/><circle cx="850.7" cy="200.5"/><circle cx="857.7" cy="234.9"/><circle cx="817.2" cy="219.8"/><circle cx="858.7" cy="202.8"/><circle cx="812.1" cy="217"/><circle cx="869.5" cy="205.1"/><circle cx="903.2" cy="210.7"/><circle cx="1189.4" cy="190.6"/><circle cx="830.1" cy="216.1"/></g><g class="p"><circle cx="832.8" cy="154.2"/><circle cx="824.2" cy="142.5"/><circle cx="811.1" cy="134.2"/><circle cx="850.7" cy="155.6"/><circle cx="857.7" cy="148.2"/><circle cx="817.2" cy="137.7"/><circle cx="858.7" cy="127.6"/><circle cx="812.1" cy="140.6"/><circle cx="869.5" cy="177.3"/><circle cx="903.2" cy="120.1"/><circle cx="1189.4" cy="198.1"/><circle cx="830.1" cy="171.5"/></g><g class="o"><circle cx="817.3" cy="206.3"/><circle cx="1124.4" cy="179.1"/><circle cx="929.7" cy="232.4"/><circle cx="815" cy="211.5"/><circle cx="1028.6" cy="199.9"/><circle cx="797" cy="212.5"/><circle cx="1046" cy="201.1"/><circle cx="993.2" cy="200.1"/><circle cx="866.6" cy="207.5"/><circle cx="987.2" cy="204.4"/><circle cx="885.6" cy="219.8"/><circle cx="826.6" cy="209.5"/></g><g class="p"><circle cx="817.3" cy="148.6"/><circle cx="1124.4" cy="213"/><circle cx="929.7" cy="153.8"/><circle cx="815" cy="131.2"/><circle cx="1028.6" cy="191.4"/><circle cx="797" cy="153"/><circle cx="1046" cy="199.1"/><circle cx="993.2" cy="186.2"/><circle cx="866.6" cy="128.7"/><circle cx="987.2" cy="159.6"/><circle cx="885.6" cy="157.3"/><circle cx="826.6" cy="163.9"/></g><g class="o"><circle cx="889.5" cy="210"/><circle cx="796.3" cy="206.5"/><circle cx="1152.3" cy="183.8"/><circle cx="828.7" cy="209.5"/><circle cx="822.5" cy="194.4"/><circle cx="1080.8" cy="189.3"/><circle cx="939.8" cy="210.2"/><circle cx="1045.8" cy="203.7"/><circle cx="1182.7" cy="174.6"/><circle cx="808.5" cy="216.3"/><circle cx="1030.7" cy="183.5"/><circle cx="910.2" cy="230.8"/></g><g class="p"><circle cx="889.5" cy="85"/><circle cx="796.3" cy="139.5"/><circle cx="1152.3" cy="222.4"/><circle cx="828.7" cy="135.5"/><circle cx="822.5" cy="149.2"/><circle cx="1080.8" cy="208.6"/><circle cx="939.8" cy="174"/><circle cx="1045.8" cy="208.9"/><circle cx="1182.7" cy="196.7"/><circle cx="808.5" cy="135"/><circle cx="1030.7" cy="172.7"/><circle cx="910.2" cy="186.8"/></g><g class="o"><circle cx="1125.4" cy="181.2"/><circle cx="1103.4" cy="180.3"/><circle cx="874" cy="200.4"/><circle cx="1058.5" cy="205.3"/><circle cx="803.9" cy="215.2"/><circle cx="1124" cy="169.9"/><circle cx="881.1" cy="199.1"/><circle cx="1144.5" cy="217.3"/><circle cx="797.2" cy="235.8"/><circle cx="986.6" cy="220.1"/><circle cx="861.9" cy="218.2"/><circle cx="831.8" cy="207.5"/></g><g class="p"><circle cx="1125.4" cy="191.5"/><circle cx="1103.4" cy="238.2"/><circle cx="874" cy="205.4"/><circle cx="1058.5" cy="204.6"/><circle cx="803.9" cy="119.8"/><circle cx="1124" cy="191.3"/><circle cx="881.1" cy="134"/><circle cx="1144.5" cy="233.1"/><circle cx="797.2" cy="146.6"/><circle cx="986.6" cy="181.8"/><circle cx="861.9" cy="157.6"/><circle cx="831.8" cy="149.3"/></g><g class="o"><circle cx="929" cy="185.6"/><circle cx="843.3" cy="206.2"/><circle cx="799.5" cy="195.7"/><circle cx="830" cy="214.3"/><circle cx="969.6" cy="181.8"/><circle cx="937.5" cy="205"/><circle cx="887.3" cy="218"/><circle cx="804.5" cy="203.7"/><circle cx="837" cy="201.6"/><circle cx="818.4" cy="209.4"/><circle cx="920.4" cy="198.6"/><circle cx="900.5" cy="199.2"/></g><g class="p"><circle cx="929" cy="167.6"/><circle cx="843.3" cy="173.2"/><circle cx="799.5" cy="128.9"/><circle cx="830" cy="128.9"/><circle cx="969.6" cy="124.6"/><circle cx="937.5" cy="120.5"/><circle cx="887.3" cy="146.3"/><circle cx="804.5" cy="139.5"/><circle cx="837" cy="159.9"/><circle cx="818.4" cy="136.8"/><circle cx="920.4" cy="140.2"/><circle cx="900.5" cy="170.4"/></g><g class="o"><circle cx="803.6" cy="218.1"/><circle cx="827.7" cy="206"/><circle cx="805" cy="208.3"/><circle cx="870" cy="206.8"/><circle cx="830" cy="211.5"/><circle cx="937.9" cy="219.4"/><circle cx="1155.7" cy="164.2"/><circle cx="960.2" cy="202"/><circle cx="854.7" cy="199.3"/><circle cx="913.7" cy="191.5"/><circle cx="1070.7" cy="187"/><circle cx="874.6" cy="206.1"/></g><g class="p"><circle cx="803.6" cy="171.6"/><circle cx="827.7" cy="137.8"/><circle cx="805" cy="166.2"/><circle cx="870" cy="152.8"/><circle cx="830" cy="143.5"/><circle cx="937.9" cy="191"/><circle cx="1155.7" cy="241.4"/><circle cx="960.2" cy="171.6"/><circle cx="854.7" cy="121.9"/><circle cx="913.7" cy="162.9"/><circle cx="1070.7" cy="208.9"/><circle cx="874.6" cy="116.3"/></g><g class="o"><circle cx="844.8" cy="206.7"/><circle cx="1135.9" cy="208.8"/><circle cx="835.2" cy="227.1"/><circle cx="1096" cy="192.7"/><circle cx="796.7" cy="195.6"/><circle cx="925" cy="214.7"/><circle cx="983.2" cy="194.7"/><circle cx="1116.5" cy="186.6"/><circle cx="919.3" cy="218.7"/><circle cx="1030.8" cy="203.3"/><circle cx="1157.2" cy="176.7"/><circle cx="1194.5" cy="199.6"/></g><g class="p"><circle cx="844.8" cy="141"/><circle cx="1135.9" cy="207.9"/><circle cx="835.2" cy="161.1"/><circle cx="1096" cy="191.3"/><circle cx="796.7" cy="130.7"/><circle cx="925" cy="170.3"/><circle cx="983.2" cy="181.8"/><circle cx="1116.5" cy="217.2"/><circle cx="919.3" cy="142.4"/><circle cx="1030.8" cy="212.4"/><circle cx="1157.2" cy="240.5"/><circle cx="1194.5" cy="221.9"/></g><g class="o"><circle cx="803.6" cy="207.2"/><circle cx="865.7" cy="218.9"/><circle cx="902.4" cy="215.5"/><circle cx="1190" cy="201.7"/><circle cx="855.3" cy="193.5"/><circle cx="1117.1" cy="184.6"/><circle cx="796.3" cy="212.4"/><circle cx="796.6" cy="220.3"/><circle cx="907.3" cy="207.8"/><circle cx="799.2" cy="217.7"/><circle cx="879.6" cy="216.1"/><circle cx="1009.9" cy="175"/></g><g class="p"><circle cx="803.6" cy="112.9"/><circle cx="865.7" cy="141.7"/><circle cx="902.4" cy="154.6"/><circle cx="1190" cy="233.3"/><circle cx="855.3" cy="144"/><circle cx="1117.1" cy="194"/><circle cx="796.3" cy="134.6"/><circle cx="796.6" cy="87.4"/><circle cx="907.3" cy="173.3"/><circle cx="799.2" cy="139.5"/><circle cx="879.6" cy="122.3"/><circle cx="1009.9" cy="185"/></g><g class="o"><circle cx="936.5" cy="230"/><circle cx="982.4" cy="186.1"/><circle cx="838.3" cy="212.3"/><circle cx="986.7" cy="200.1"/><circle cx="834.9" cy="204.6"/><circle cx="1040.8" cy="178.1"/><circle cx="813.3" cy="204.7"/><circle cx="813.1" cy="213.7"/><circle cx="798.5" cy="211.9"/><circle cx="879.1" cy="218.2"/><circle cx="1151.6" cy="205.9"/><circle cx="1194.8" cy="183.2"/></g><g class="p"><circle cx="936.5" cy="151"/><circle cx="982.4" cy="170.5"/><circle cx="838.3" cy="161"/><circle cx="986.7" cy="197.3"/><circle cx="834.9" cy="122.3"/><circle cx="1040.8" cy="227.5"/><circle cx="813.3" cy="127.1"/><circle cx="813.1" cy="152"/><circle cx="798.5" cy="157.6"/><circle cx="879.1" cy="114.9"/><circle cx="1151.6" cy="204.8"/><circle cx="1194.8" cy="241.1"/></g><g class="o"><circle cx="1022.8" cy="191.7"/><circle cx="805.8" cy="208.6"/><circle cx="957.9" cy="184.8"/><circle cx="804.3" cy="207.3"/><circle cx="1113.3" cy="193.5"/><circle cx="1001.3" cy="204"/><circle cx="838.2" cy="211.5"/><circle cx="821.1" cy="203.1"/><circle cx="930.4" cy="225.7"/><circle cx="1091.4" cy="179.6"/><circle cx="803.8" cy="205.3"/><circle cx="860.4" cy="211.9"/></g><g class="p"><circle cx="1022.8" cy="176.1"/><circle cx="805.8" cy="129.3"/><circle cx="957.9" cy="154.5"/><circle cx="804.3" cy="124"/><circle cx="1113.3" cy="225.3"/><circle cx="1001.3" cy="177.4"/><circle cx="838.2" cy="128.2"/><circle cx="821.1" cy="129.5"/><circle cx="930.4" cy="200.8"/><circle cx="1091.4" cy="222.4"/><circle cx="803.8" cy="158.7"/><circle cx="860.4" cy="107.7"/></g><g class="o"><circle cx="851.6" cy="215.3"/><circle cx="1075.5" cy="215"/><circle cx="1019.7" cy="190.8"/><circle cx="889.3" cy="215.4"/><circle cx="799.3" cy="208.6"/><circle cx="845.1" cy="232.8"/><circle cx="1113.2" cy="198.3"/><circle cx="815.8" cy="212.6"/><circle cx="970.5" cy="177.7"/><circle cx="1098.6" cy="179.7"/><circle cx="924" cy="201.1"/><circle cx="859.2" cy="207.2"/></g><g class="p"><circle cx="851.6" cy="135.8"/><circle cx="1075.5" cy="186.1"/><circle cx="1019.7" cy="152.9"/><circle cx="889.3" cy="140.2"/><circle cx="799.3" cy="133.5"/><circle cx="845.1" cy="123.9"/><circle cx="1113.2" cy="215.6"/><circle cx="815.8" cy="159.8"/><circle cx="970.5" cy="212.8"/><circle cx="1098.6" cy="237.5"/><circle cx="924" cy="170.6"/><circle cx="859.2" cy="162.8"/></g><g class="o"><circle cx="839.7" cy="217"/><circle cx="968.3" cy="205.1"/><circle cx="1115.9" cy="195.7"/><circle cx="813" cy="223.9"/><circle cx="934.9" cy="220.9"/><circle cx="843.7" cy="219"/><circle cx="838.2" cy="226.9"/><circle cx="954.2" cy="208.8"/><circle cx="1132.7" cy="180.1"/><circle cx="968.3" cy="192.2"/><circle cx="836.3" cy="216.9"/><circle cx="832.5" cy="217"/></g><g class="p"><circle cx="839.7" cy="141.8"/><circle cx="968.3" cy="147.3"/><circle cx="1115.9" cy="203.7"/><circle cx="813" cy="96.2"/><circle cx="934.9" cy="156"/><circle cx="843.7" cy="146.9"/><circle cx="838.2" cy="111.8"/><circle cx="954.2" cy="199.9"/><circle cx="1132.7" cy="229.5"/><circle cx="968.3" cy="171.3"/><circle cx="836.3" cy="140.1"/><circle cx="832.5" cy="151.2"/></g><g class="o"><circle cx="929.1" cy="216.7"/><circle cx="801.8" cy="203.4"/><circle cx="874.9" cy="198.6"/><circle cx="824.6" cy="224.9"/><circle cx="906.6" cy="211.8"/><circle cx="891.6" cy="214.2"/><circle cx="943.5" cy="211.3"/><circle cx="879.2" cy="193.4"/><circle cx="1152.3" cy="173.9"/><circle cx="842" cy="195.9"/><circle cx="890.6" cy="211.9"/><circle cx="1035.4" cy="193.3"/></g><g class="p"><circle cx="929.1" cy="162.3"/><circle cx="801.8" cy="132.6"/><circle cx="874.9" cy="151.6"/><circle cx="824.6" cy="104.7"/><circle cx="906.6" cy="192.8"/><circle cx="891.6" cy="206.2"/><circle cx="943.5" cy="185.4"/><circle cx="879.2" cy="179.2"/><circle cx="1152.3" cy="225.6"/><circle cx="842" cy="171.2"/><circle cx="890.6" cy="153"/><circle cx="1035.4" cy="182.9"/></g><g class="o"><circle cx="1129.1" cy="187.3"/><circle cx="854.7" cy="208.3"/><circle cx="796.4" cy="210.5"/><circle cx="801.6" cy="219.5"/><circle cx="1178.9" cy="176.8"/><circle cx="1002.9" cy="190.8"/><circle cx="797.9" cy="222"/><circle cx="941.3" cy="216.5"/><circle cx="802" cy="212.4"/><circle cx="896.8" cy="200.7"/><circle cx="895.2" cy="216.3"/><circle cx="859.9" cy="228.2"/></g><g class="p"><circle cx="1129.1" cy="210.4"/><circle cx="854.7" cy="149.7"/><circle cx="796.4" cy="131.2"/><circle cx="801.6" cy="157.3"/><circle cx="1178.9" cy="218.7"/><circle cx="1002.9" cy="176.2"/><circle cx="797.9" cy="127.9"/><circle cx="941.3" cy="124"/><circle cx="802" cy="135.6"/><circle cx="896.8" cy="181.8"/><circle cx="895.2" cy="124.4"/><circle cx="859.9" cy="133.5"/></g><g class="o"><circle cx="888.5" cy="214"/><circle cx="860.5" cy="217.8"/><circle cx="960.4" cy="191.3"/><circle cx="805.4" cy="218.1"/><circle cx="1018.7" cy="198.8"/><circle cx="842" cy="222.4"/><circle cx="925.5" cy="214.7"/><circle cx="818.9" cy="225.2"/><circle cx="976.1" cy="188.5"/><circle cx="798" cy="214.3"/><circle cx="1137.1" cy="178.4"/><circle cx="868.6" cy="209"/></g><g class="p"><circle cx="888.5" cy="160.8"/><circle cx="860.5" cy="109.7"/><circle cx="960.4" cy="219.4"/><circle cx="805.4" cy="120.7"/><circle cx="1018.7" cy="225.7"/><circle cx="842" cy="127.8"/><circle cx="925.5" cy="196.9"/><circle cx="818.9" cy="135.6"/><circle cx="976.1" cy="187.6"/><circle cx="798" cy="129.8"/><circle cx="1137.1" cy="242.9"/><circle cx="868.6" cy="135.4"/></g><g class="o"><circle cx="860" cy="209.2"/><circle cx="1078.8" cy="184.1"/><circle cx="845.1" cy="206.3"/><circle cx="943.6" cy="222.5"/><circle cx="881.6" cy="198.5"/><circle cx="1163.8" cy="173"/><circle cx="864.1" cy="213.8"/><circle cx="1153.8" cy="196.5"/><circle cx="975.6" cy="194"/><circle cx="796.5" cy="215.8"/><circle cx="986.4" cy="245.2"/><circle cx="810.4" cy="227.3"/></g><g class="p"><circle cx="860" cy="159.5"/><circle cx="1078.8" cy="234.8"/><circle cx="845.1" cy="171.5"/><circle cx="943.6" cy="173.2"/><circle cx="881.6" cy="143.9"/><circle cx="1163.8" cy="189.1"/><circle cx="864.1" cy="148.5"/><circle cx="1153.8" cy="195.2"/><circle cx="975.6" cy="198.7"/><circle cx="796.5" cy="136.9"/><circle cx="986.4" cy="182.6"/><circle cx="810.4" cy="101.8"/></g><g class="o"><circle cx="1064.4" cy="189.9"/><circle cx="859.1" cy="201.5"/><circle cx="823.9" cy="211.6"/><circle cx="885.3" cy="194.9"/><circle cx="820.5" cy="206"/><circle cx="801.2" cy="206.4"/><circle cx="943.9" cy="201.8"/><circle cx="1038.6" cy="190.6"/><circle cx="888.7" cy="228.2"/><circle cx="1151.1" cy="182.9"/><circle cx="977.7" cy="206.9"/><circle cx="840.5" cy="189.6"/></g><g class="p"><circle cx="1064.4" cy="185.7"/><circle cx="859.1" cy="152"/><circle cx="823.9" cy="142.4"/><circle cx="885.3" cy="167.6"/><circle cx="820.5" cy="138.7"/><circle cx="801.2" cy="143.5"/><circle cx="943.9" cy="108.3"/><circle cx="1038.6" cy="198.2"/><circle cx="888.7" cy="171.3"/><circle cx="1151.1" cy="211.4"/><circle cx="977.7" cy="230.2"/><circle cx="840.5" cy="146.5"/></g><g class="o"><circle cx="968.8" cy="217.8"/><circle cx="1021" cy="206.9"/><circle cx="797" cy="210.6"/><circle cx="1209.1" cy="186"/><circle cx="901.8" cy="182.9"/><circle cx="912.9" cy="231.2"/><circle cx="1158.2" cy="192.4"/><circle cx="1016.4" cy="205.7"/><circle cx="864.9" cy="219.5"/><circle cx="1006.3" cy="195.1"/><circle cx="1085.3" cy="191.8"/><circle cx="963.6" cy="172.2"/></g><g class="p"><circle cx="968.8" cy="146.1"/><circle cx="1021" cy="194"/><circle cx="797" cy="152.2"/><circle cx="1209.1" cy="212.5"/><circle cx="901.8" cy="131.8"/><circle cx="912.9" cy="160.4"/><circle cx="1158.2" cy="217"/><circle cx="1016.4" cy="190.7"/><circle cx="864.9" cy="183.1"/><circle cx="1006.3" cy="162.1"/><circle cx="1085.3" cy="209.6"/><circle cx="963.6" cy="184.8"/></g><g class="o"><circle cx="1123.7" cy="166.4"/><circle cx="936.6" cy="214.3"/><circle cx="937.5" cy="221.5"/><circle cx="847.4" cy="215.8"/><circle cx="860.6" cy="213.4"/><circle cx="1080.1" cy="203.5"/><circle cx="888.4" cy="207.9"/><circle cx="984.8" cy="183.2"/><circle cx="1181.9" cy="191.6"/><circle cx="822.8" cy="210.8"/><circle cx="1027" cy="210"/><circle cx="1170.5" cy="156.6"/></g><g class="p"><circle cx="1123.7" cy="255.2"/><circle cx="936.6" cy="170.7"/><circle cx="937.5" cy="146"/><circle cx="847.4" cy="142"/><circle cx="860.6" cy="180.2"/><circle cx="1080.1" cy="190.9"/><circle cx="888.4" cy="144.4"/><circle cx="984.8" cy="143.7"/><circle cx="1181.9" cy="189.8"/><circle cx="822.8" cy="157.4"/><circle cx="1027" cy="180.3"/><circle cx="1170.5" cy="225.3"/></g><g class="o"><circle cx="1093.8" cy="167.2"/><circle cx="1112.1" cy="183.2"/><circle cx="888.6" cy="237.7"/><circle cx="836.3" cy="210"/><circle cx="864.3" cy="220.2"/><circle cx="840" cy="207.5"/><circle cx="858.3" cy="212.9"/><circle cx="1039.5" cy="192"/><circle cx="850.5" cy="219.9"/><circle cx="804.9" cy="208"/><circle cx="829.7" cy="217.8"/><circle cx="853.1" cy="205.6"/></g><g class="p"><circle cx="1093.8" cy="200.2"/><circle cx="1112.1" cy="240.8"/><circle cx="888.6" cy="164.2"/><circle cx="836.3" cy="165.5"/><circle cx="864.3" cy="114.7"/><circle cx="840" cy="155.5"/><circle cx="858.3" cy="149.3"/><circle cx="1039.5" cy="195.1"/><circle cx="850.5" cy="142.5"/><circle cx="804.9" cy="141.1"/><circle cx="829.7" cy="139.3"/><circle cx="853.1" cy="125.3"/></g><g class="o"><circle cx="891.9" cy="216"/><circle cx="939.6" cy="211.8"/><circle cx="941" cy="214.6"/><circle cx="876.6" cy="216.1"/><circle cx="856.1" cy="196.4"/><circle cx="861.8" cy="221"/><circle cx="817.7" cy="199.1"/><circle cx="813.2" cy="212.9"/><circle cx="806.5" cy="214.9"/><circle cx="844.4" cy="217.4"/><circle cx="1191.9" cy="154.5"/><circle cx="857.9" cy="212.7"/></g><g class="p"><circle cx="891.9" cy="128.1"/><circle cx="939.6" cy="149.5"/><circle cx="941" cy="157.9"/><circle cx="876.6" cy="127.7"/><circle cx="856.1" cy="163.1"/><circle cx="861.8" cy="155.2"/><circle cx="817.7" cy="138.7"/><circle cx="813.2" cy="146.7"/><circle cx="806.5" cy="161.7"/><circle cx="844.4" cy="173.6"/><circle cx="1191.9" cy="232.9"/><circle cx="857.9" cy="166.6"/></g><g class="o"><circle cx="924.4" cy="202.6"/><circle cx="864" cy="198.8"/><circle cx="805.9" cy="197.6"/><circle cx="923.2" cy="200.5"/><circle cx="827.1" cy="208.2"/><circle cx="922.9" cy="198.2"/><circle cx="1072.2" cy="190.5"/><circle cx="880.2" cy="227.7"/><circle cx="870.1" cy="225.2"/><circle cx="826.9" cy="212"/><circle cx="890.3" cy="194.2"/><circle cx="937.3" cy="207.2"/></g><g class="p"><circle cx="924.4" cy="161.1"/><circle cx="864" cy="155.3"/><circle cx="805.9" cy="123.4"/><circle cx="923.2" cy="186.1"/><circle cx="827.1" cy="169.5"/><circle cx="922.9" cy="169.9"/><circle cx="1072.2" cy="212"/><circle cx="880.2" cy="131.6"/><circle cx="870.1" cy="149.2"/><circle cx="826.9" cy="174.6"/><circle cx="890.3" cy="156.4"/><circle cx="937.3" cy="124"/></g><g class="o"><circle cx="950.2" cy="189.5"/><circle cx="1053.2" cy="186.5"/><circle cx="809.9" cy="206.7"/><circle cx="802.3" cy="202.9"/><circle cx="799.9" cy="209.5"/><circle cx="937.3" cy="187.1"/><circle cx="976" cy="196.3"/><circle cx="954.6" cy="229.9"/><circle cx="804.6" cy="211.2"/><circle cx="889.5" cy="212.3"/><circle cx="1063.8" cy="207.7"/><circle cx="873.6" cy="214.4"/></g><g class="p"><circle cx="950.2" cy="141.8"/><circle cx="1053.2" cy="230.2"/><circle cx="809.9" cy="127.7"/><circle cx="802.3" cy="126.8"/><circle cx="799.9" cy="132.9"/><circle cx="937.3" cy="177.5"/><circle cx="976" cy="149.5"/><circle cx="954.6" cy="146.8"/><circle cx="804.6" cy="150.1"/><circle cx="889.5" cy="121.6"/><circle cx="1063.8" cy="200.1"/><circle cx="873.6" cy="121.3"/></g><g class="o"><circle cx="1058.3" cy="181.1"/><circle cx="982.3" cy="208.9"/><circle cx="808.5" cy="211.8"/><circle cx="1079.7" cy="170.3"/><circle cx="985.5" cy="201.6"/><circle cx="867.4" cy="193.8"/><circle cx="1034.3" cy="199.7"/><circle cx="879.9" cy="219"/><circle cx="877.7" cy="216.9"/><circle cx="888.4" cy="198.2"/><circle cx="844.4" cy="204.8"/><circle cx="1160.9" cy="188.7"/></g><g class="p"><circle cx="1058.3" cy="196.1"/><circle cx="982.3" cy="195.2"/><circle cx="808.5" cy="132.6"/><circle cx="1079.7" cy="218"/><circle cx="985.5" cy="158.6"/><circle cx="867.4" cy="153.9"/><circle cx="1034.3" cy="190.3"/><circle cx="879.9" cy="169.5"/><circle cx="877.7" cy="150.4"/><circle cx="888.4" cy="121.5"/><circle cx="844.4" cy="134.9"/><circle cx="1160.9" cy="201.8"/></g><g class="o"><circle cx="1107.6" cy="159"/><circle cx="797.7" cy="213.1"/><circle cx="832.4" cy="216.1"/><circle cx="871.5" cy="194.7"/><circle cx="1144.6" cy="181"/><circle cx="954.2" cy="200.4"/><circle cx="940.1" cy="186.3"/><circle cx="833.5" cy="212.9"/><circle cx="1106.6" cy="155.1"/><circle cx="1084.4" cy="205.6"/><circle cx="825" cy="215.7"/><circle cx="1000.2" cy="223.5"/></g><g class="p"><circle cx="1107.6" cy="211"/><circle cx="797.7" cy="117.4"/><circle cx="832.4" cy="138.6"/><circle cx="871.5" cy="147.3"/><circle cx="1144.6" cy="209.6"/><circle cx="954.2" cy="165.9"/><circle cx="940.1" cy="143.3"/><circle cx="833.5" cy="120.2"/><circle cx="1106.6" cy="229.6"/><circle cx="1084.4" cy="212.4"/><circle cx="825" cy="168.1"/><circle cx="1000.2" cy="196.2"/></g><g class="o"><circle cx="802.5" cy="218.8"/><circle cx="1018.8" cy="209"/><circle cx="1190.4" cy="181.7"/><circle cx="1028.4" cy="201.1"/><circle cx="875.4" cy="201.8"/><circle cx="815.2" cy="207.5"/><circle cx="858" cy="213.5"/><circle cx="810.7" cy="202.3"/><circle cx="830.4" cy="220.5"/><circle cx="862.1" cy="207.2"/><circle cx="820" cy="226.5"/><circle cx="938.9" cy="211.9"/></g><g class="p"><circle cx="802.5" cy="130.7"/><circle cx="1018.8" cy="183.4"/><circle cx="1190.4" cy="219.9"/><circle cx="1028.4" cy="208.4"/><circle cx="875.4" cy="108"/><circle cx="815.2" cy="161.5"/><circle cx="858" cy="135.3"/><circle cx="810.7" cy="98.2"/><circle cx="830.4" cy="142.7"/><circle cx="862.1" cy="156.4"/><circle cx="820" cy="144.3"/><circle cx="938.9" cy="178.1"/></g><g class="o"><circle cx="983.6" cy="215.6"/><circle cx="866.5" cy="198"/><circle cx="1156.9" cy="184.8"/><circle cx="990.6" cy="197.3"/><circle cx="907.8" cy="229.2"/><circle cx="828.7" cy="212.9"/><circle cx="895" cy="206.7"/><circle cx="846.1" cy="219.3"/><circle cx="1204.6" cy="185.4"/><circle cx="1087.3" cy="218.6"/><circle cx="965.7" cy="219.6"/><circle cx="1023.8" cy="222.8"/></g><g class="p"><circle cx="983.6" cy="208.5"/><circle cx="866.5" cy="152.7"/><circle cx="1156.9" cy="227.5"/><circle cx="990.6" cy="202.4"/><circle cx="907.8" cy="163.4"/><circle cx="828.7" cy="126.4"/><circle cx="895" cy="151.2"/><circle cx="846.1" cy="169.2"/><circle cx="1204.6" cy="230"/><circle cx="1087.3" cy="197.6"/><circle cx="965.7" cy="163.2"/><circle cx="1023.8" cy="193.1"/></g><g class="o"><circle cx="1032" cy="203.2"/><circle cx="1105.7" cy="194.2"/><circle cx="881.3" cy="198.4"/><circle cx="811.5" cy="199.9"/><circle cx="981.4" cy="191.4"/><circle cx="798.8" cy="211.1"/><circle cx="1014.7" cy="231.3"/><circle cx="1139.2" cy="198.3"/><circle cx="956" cy="190"/><circle cx="824.3" cy="217.3"/><circle cx="800.6" cy="222"/><circle cx="901.4" cy="216.7"/></g><g class="p"><circle cx="1032" cy="220.6"/><circle cx="1105.7" cy="174.5"/><circle cx="881.3" cy="112.4"/><circle cx="811.5" cy="149.6"/><circle cx="981.4" cy="186.2"/><circle cx="798.8" cy="132.9"/><circle cx="1014.7" cy="170.9"/><circle cx="1139.2" cy="238.1"/><circle cx="956" cy="132.5"/><circle cx="824.3" cy="183"/><circle cx="800.6" cy="142.5"/><circle cx="901.4" cy="147.4"/></g><g class="o"><circle cx="829.7" cy="214.9"/><circle cx="991.4" cy="178.7"/><circle cx="986.4" cy="208.4"/><circle cx="824.9" cy="197.8"/><circle cx="1056.1" cy="187.7"/><circle cx="1069.3" cy="169.1"/><circle cx="1033.5" cy="192.2"/><circle cx="797.5" cy="197.3"/><circle cx="953.5" cy="198.6"/><circle cx="840.5" cy="221"/><circle cx="1162.3" cy="196.5"/><circle cx="813" cy="204"/></g><g class="p"><circle cx="829.7" cy="134.6"/><circle cx="991.4" cy="203"/><circle cx="986.4" cy="198"/><circle cx="824.9" cy="136.7"/><circle cx="1056.1" cy="191.2"/><circle cx="1069.3" cy="230.1"/><circle cx="1033.5" cy="183.9"/><circle cx="797.5" cy="132.6"/><circle cx="953.5" cy="184.4"/><circle cx="840.5" cy="120.6"/><circle cx="1162.3" cy="247.5"/><circle cx="813" cy="124.7"/></g><g class="o"><circle cx="891.2" cy="205.7"/><circle cx="1153" cy="186.3"/><circle cx="1127.8" cy="180"/><circle cx="992.7" cy="203.3"/><circle cx="890.8" cy="222.3"/><circle cx="1054.9" cy="195.9"/><circle cx="959.9" cy="215.6"/><circle cx="916.1" cy="210"/><circle cx="827.6" cy="213.8"/><circle cx="911.5" cy="212.1"/><circle cx="889.3" cy="190.6"/><circle cx="931.5" cy="225.6"/></g><g class="p"><circle cx="891.2" cy="159.7"/><circle cx="1153" cy="231"/><circle cx="1127.8" cy="258.4"/><circle cx="992.7" cy="179.5"/><circle cx="890.8" cy="150.9"/><circle cx="1054.9" cy="190.1"/><circle cx="959.9" cy="186.9"/><circle cx="916.1" cy="134.9"/><circle cx="827.6" cy="159.5"/><circle cx="911.5" cy="171.3"/><circle cx="889.3" cy="147.6"/><circle cx="931.5" cy="180"/></g><g class="o"><circle cx="1074.1" cy="204.4"/><circle cx="1017.9" cy="198.8"/><circle cx="1079.1" cy="184.7"/><circle cx="881.9" cy="216.3"/><circle cx="807.3" cy="202.5"/><circle cx="1054.5" cy="197.9"/><circle cx="888.6" cy="199.1"/><circle cx="798.3" cy="210.8"/><circle cx="1048.9" cy="171.6"/><circle cx="896.6" cy="208"/><circle cx="1019.4" cy="218.8"/><circle cx="841.1" cy="212.7"/></g><g class="p"><circle cx="1074.1" cy="233.9"/><circle cx="1017.9" cy="191.9"/><circle cx="1079.1" cy="197"/><circle cx="881.9" cy="177.1"/><circle cx="807.3" cy="157.1"/><circle cx="1054.5" cy="201.9"/><circle cx="888.6" cy="168.8"/><circle cx="798.3" cy="136.1"/><circle cx="1048.9" cy="218.9"/><circle cx="896.6" cy="144.1"/><circle cx="1019.4" cy="222.1"/><circle cx="841.1" cy="160.3"/></g><g class="o"><circle cx="1000.9" cy="193"/><circle cx="859.2" cy="211"/><circle cx="861.4" cy="203.6"/><circle cx="799.5" cy="210.4"/><circle cx="833.5" cy="207.4"/><circle cx="906.8" cy="228.1"/><circle cx="1049.3" cy="188.6"/><circle cx="827.1" cy="208.5"/><circle cx="1075.7" cy="199.5"/><circle cx="1170.7" cy="183.4"/><circle cx="902.4" cy="199.9"/><circle cx="855.2" cy="214.6"/></g><g class="p"><circle cx="1000.9" cy="214.8"/><circle cx="859.2" cy="133.6"/><circle cx="861.4" cy="161.8"/><circle cx="799.5" cy="135.7"/><circle cx="833.5" cy="129.8"/><circle cx="906.8" cy="150.2"/><circle cx="1049.3" cy="207.1"/><circle cx="827.1" cy="107.2"/><circle cx="1075.7" cy="214.5"/><circle cx="1170.7" cy="205.6"/><circle cx="902.4" cy="128.5"/><circle cx="855.2" cy="124.5"/></g><g class="o"><circle cx="895.4" cy="195.9"/><circle cx="1089.9" cy="193.5"/><circle cx="1054.7" cy="187.9"/><circle cx="1046.3" cy="198.8"/><circle cx="824.9" cy="190.4"/><circle cx="819.7" cy="191.9"/><circle cx="957.3" cy="164"/><circle cx="1004" cy="211.7"/><circle cx="797.8" cy="207.8"/><circle cx="1088.4" cy="206"/><circle cx="923.4" cy="217.2"/><circle cx="918.2" cy="223.7"/></g><g class="p"><circle cx="895.4" cy="143.9"/><circle cx="1089.9" cy="217.2"/><circle cx="1054.7" cy="211.7"/><circle cx="1046.3" cy="209"/><circle cx="824.9" cy="139.5"/><circle cx="819.7" cy="145.3"/><circle cx="957.3" cy="140.7"/><circle cx="1004" cy="135.9"/><circle cx="797.8" cy="156.3"/><circle cx="1088.4" cy="210.4"/><circle cx="923.4" cy="159.2"/><circle cx="918.2" cy="150.3"/></g><g class="o"><circle cx="830.2" cy="188.5"/><circle cx="1147.1" cy="205.4"/><circle cx="1003.9" cy="216.2"/><circle cx="1090.9" cy="183.3"/><circle cx="1018.7" cy="201.6"/><circle cx="983.2" cy="222.8"/><circle cx="877.6" cy="202.4"/><circle cx="799" cy="206.2"/><circle cx="830.1" cy="214.1"/><circle cx="826" cy="204.6"/><circle cx="909.5" cy="232.1"/><circle cx="963" cy="203.5"/></g><g class="p"><circle cx="830.2" cy="140.7"/><circle cx="1147.1" cy="225.9"/><circle cx="1003.9" cy="218.2"/><circle cx="1090.9" cy="201.6"/><circle cx="1018.7" cy="219"/><circle cx="983.2" cy="179.7"/><circle cx="877.6" cy="162"/><circle cx="799" cy="151.2"/><circle cx="830.1" cy="123.2"/><circle cx="826" cy="137.5"/><circle cx="909.5" cy="143"/><circle cx="963" cy="185.8"/></g><g class="o"><circle cx="823.2" cy="208.4"/><circle cx="815.9" cy="191.8"/><circle cx="841.1" cy="202.4"/><circle cx="1008.1" cy="205.1"/><circle cx="884" cy="207.7"/><circle cx="806.4" cy="217.5"/><circle cx="855.8" cy="200.9"/><circle cx="834" cy="203.5"/><circle cx="909.8" cy="216.2"/><circle cx="1182" cy="179.4"/><circle cx="886.5" cy="211.2"/><circle cx="799" cy="210.4"/></g><g class="p"><circle cx="823.2" cy="180.4"/><circle cx="815.9" cy="136.8"/><circle cx="841.1" cy="150.8"/><circle cx="1008.1" cy="171.3"/><circle cx="884" cy="152.7"/><circle cx="806.4" cy="116.3"/><circle cx="855.8" cy="144.4"/><circle cx="834" cy="149.8"/><circle cx="909.8" cy="137"/><circle cx="1182" cy="228.1"/><circle cx="886.5" cy="165.2"/><circle cx="799" cy="141.1"/></g><g class="o"><circle cx="1082.4" cy="179.3"/><circle cx="1056.9" cy="199.1"/><circle cx="924.1" cy="206.5"/><circle cx="864.6" cy="208.1"/><circle cx="892.9" cy="205.2"/><circle cx="986.3" cy="213.2"/><circle cx="844.2" cy="204.5"/><circle cx="902.6" cy="205.2"/><circle cx="915.1" cy="212.2"/><circle cx="806.8" cy="210.7"/><circle cx="1087" cy="186.3"/><circle cx="974.2" cy="210.7"/></g><g class="p"><circle cx="1082.4" cy="209.2"/><circle cx="1056.9" cy="183.1"/><circle cx="924.1" cy="145.3"/><circle cx="864.6" cy="153.2"/><circle cx="892.9" cy="139.8"/><circle cx="986.3" cy="183.4"/><circle cx="844.2" cy="153.8"/><circle cx="902.6" cy="127.2"/><circle cx="915.1" cy="143"/><circle cx="806.8" cy="134.4"/><circle cx="1087" cy="219.5"/><circle cx="974.2" cy="199.4"/></g><g class="o"><circle cx="948.5" cy="196.1"/><circle cx="1094.8" cy="185"/><circle cx="832.9" cy="220.6"/><circle cx="1023.6" cy="202.3"/><circle cx="1009.4" cy="193"/><circle cx="873.9" cy="203.4"/><circle cx="891.9" cy="215.5"/><circle cx="1040.7" cy="192.6"/><circle cx="915.1" cy="213.7"/><circle cx="800.8" cy="207.2"/><circle cx="796.5" cy="205.9"/><circle cx="813.8" cy="219.3"/></g><g class="p"><circle cx="948.5" cy="161.9"/><circle cx="1094.8" cy="202.9"/><circle cx="832.9" cy="165.8"/><circle cx="1023.6" cy="180"/><circle cx="1009.4" cy="178.9"/><circle cx="873.9" cy="168.2"/><circle cx="891.9" cy="165.7"/><circle cx="1040.7" cy="187.2"/><circle cx="915.1" cy="159.5"/><circle cx="800.8" cy="137.7"/><circle cx="796.5" cy="161.8"/><circle cx="813.8" cy="116.4"/></g><g class="o"><circle cx="1157.1" cy="187.3"/><circle cx="892.6" cy="228.4"/><circle cx="1131.1" cy="210.2"/><circle cx="887" cy="195.3"/><circle cx="798.7" cy="205.9"/><circle cx="1125.5" cy="181.1"/><circle cx="1196.4" cy="191.9"/><circle cx="810.3" cy="229.9"/><circle cx="805.3" cy="212.8"/><circle cx="940.1" cy="227.1"/><circle cx="831" cy="215.1"/><circle cx="1091.3" cy="179.8"/></g><g class="p"><circle cx="1157.1" cy="206.6"/><circle cx="892.6" cy="177.6"/><circle cx="1131.1" cy="228.2"/><circle cx="887" cy="147.4"/><circle cx="798.7" cy="141"/><circle cx="1125.5" cy="229.4"/><circle cx="1196.4" cy="216.1"/><circle cx="810.3" cy="110.7"/><circle cx="805.3" cy="151.7"/><circle cx="940.1" cy="179.1"/><circle cx="831" cy="149"/><circle cx="1091.3" cy="204.3"/></g><g class="o"><circle cx="796.4" cy="202.8"/><circle cx="893.5" cy="203"/><circle cx="1066.1" cy="233"/><circle cx="896.5" cy="201"/><circle cx="882.4" cy="204.2"/><circle cx="810.1" cy="219"/><circle cx="1018.8" cy="179.5"/><circle cx="798.8" cy="225.8"/><circle cx="1148.7" cy="163.7"/><circle cx="1077.6" cy="209.1"/><circle cx="827" cy="221.4"/><circle cx="799.2" cy="212.2"/></g><g class="p"><circle cx="796.4" cy="149.2"/><circle cx="893.5" cy="156.8"/><circle cx="1066.1" cy="212.7"/><circle cx="896.5" cy="128.7"/><circle cx="882.4" cy="154.8"/><circle cx="810.1" cy="146.7"/><circle cx="1018.8" cy="172.3"/><circle cx="798.8" cy="121.5"/><circle cx="1148.7" cy="210.1"/><circle cx="1077.6" cy="212.2"/><circle cx="827" cy="144.7"/><circle cx="799.2" cy="120.8"/></g><g class="o"><circle cx="799.2" cy="212.7"/><circle cx="849.3" cy="198.3"/><circle cx="844.3" cy="215.4"/><circle cx="886.5" cy="207.9"/><circle cx="927.3" cy="214.2"/><circle cx="955.4" cy="213.5"/><circle cx="845.1" cy="199.4"/><circle cx="850.7" cy="224"/><circle cx="1145.5" cy="181.4"/><circle cx="806.4" cy="223.4"/><circle cx="797.9" cy="210"/><circle cx="1077.8" cy="176.3"/></g><g class="p"><circle cx="799.2" cy="99.4"/><circle cx="849.3" cy="138.5"/><circle cx="844.3" cy="126"/><circle cx="886.5" cy="126.8"/><circle cx="927.3" cy="151.7"/><circle cx="955.4" cy="190"/><circle cx="845.1" cy="168.1"/><circle cx="850.7" cy="142.8"/><circle cx="1145.5" cy="203"/><circle cx="806.4" cy="136.4"/><circle cx="797.9" cy="111.1"/><circle cx="1077.8" cy="224.9"/></g><g class="o"><circle cx="1030.6" cy="180.3"/><circle cx="1034.1" cy="212.4"/><circle cx="1228.6" cy="203.9"/><circle cx="1086.5" cy="180.2"/><circle cx="807.5" cy="202"/><circle cx="810.1" cy="226.7"/><circle cx="796.6" cy="224.5"/><circle cx="1068" cy="192.2"/><circle cx="1049.9" cy="227.4"/><circle cx="1004.6" cy="164.9"/><circle cx="829.5" cy="221.6"/><circle cx="888" cy="216"/></g><g class="p"><circle cx="1030.6" cy="214.3"/><circle cx="1034.1" cy="170.9"/><circle cx="1228.6" cy="221.7"/><circle cx="1086.5" cy="215.5"/><circle cx="807.5" cy="86"/><circle cx="810.1" cy="141.5"/><circle cx="796.6" cy="114.3"/><circle cx="1068" cy="152.8"/><circle cx="1049.9" cy="195.3"/><circle cx="1004.6" cy="222.6"/><circle cx="829.5" cy="146.3"/><circle cx="888" cy="135.8"/></g><g class="o"><circle cx="943.7" cy="204.1"/><circle cx="820.1" cy="215.4"/><circle cx="971.1" cy="197.9"/><circle cx="994.7" cy="185.5"/><circle cx="946.2" cy="215.9"/><circle cx="863.1" cy="215.8"/><circle cx="798.1" cy="211.4"/><circle cx="804.9" cy="203.9"/><circle cx="824.2" cy="211.4"/><circle cx="903.4" cy="213"/><circle cx="806.8" cy="222"/><circle cx="796.7" cy="225"/></g><g class="p"><circle cx="943.7" cy="157.9"/><circle cx="820.1" cy="147.8"/><circle cx="971.1" cy="190.4"/><circle cx="994.7" cy="187.3"/><circle cx="946.2" cy="196.3"/><circle cx="863.1" cy="140.6"/><circle cx="798.1" cy="119.4"/><circle cx="804.9" cy="144.4"/><circle cx="824.2" cy="139.6"/><circle cx="903.4" cy="145.8"/><circle cx="806.8" cy="148.4"/><circle cx="796.7" cy="106.5"/></g><g class="o"><circle cx="807.7" cy="223.5"/><circle cx="1139.6" cy="193.3"/><circle cx="1036.6" cy="176.9"/><circle cx="1089.1" cy="191.7"/><circle cx="807.9" cy="214.6"/><circle cx="897.5" cy="215.7"/><circle cx="849.4" cy="192.1"/><circle cx="958.2" cy="223"/><circle cx="1163.4" cy="168.9"/><circle cx="1037.9" cy="195.9"/><circle cx="1231.3" cy="170.5"/><circle cx="798" cy="213.1"/></g><g class="p"><circle cx="807.7" cy="112.5"/><circle cx="1139.6" cy="222.7"/><circle cx="1036.6" cy="203.1"/><circle cx="1089.1" cy="221.2"/><circle cx="807.9" cy="140.4"/><circle cx="897.5" cy="181.2"/><circle cx="849.4" cy="169.7"/><circle cx="958.2" cy="168.7"/><circle cx="1163.4" cy="213.5"/><circle cx="1037.9" cy="219.6"/><circle cx="1231.3" cy="221.2"/><circle cx="798" cy="150.6"/></g><g class="o"><circle cx="801.9" cy="203.7"/><circle cx="796.8" cy="212.9"/><circle cx="1013.5" cy="200.2"/><circle cx="876" cy="205.4"/><circle cx="957.8" cy="198"/><circle cx="821.1" cy="217"/><circle cx="859.5" cy="200.1"/><circle cx="856.3" cy="202.6"/><circle cx="825.9" cy="220.5"/><circle cx="834.7" cy="209.6"/><circle cx="1069" cy="191.2"/><circle cx="1014" cy="228.2"/></g><g class="p"><circle cx="801.9" cy="148.1"/><circle cx="796.8" cy="118.8"/><circle cx="1013.5" cy="179.8"/><circle cx="876" cy="174.4"/><circle cx="957.8" cy="117.3"/><circle cx="821.1" cy="148"/><circle cx="859.5" cy="146.5"/><circle cx="856.3" cy="175.5"/><circle cx="825.9" cy="129.2"/><circle cx="834.7" cy="127.7"/><circle cx="1069" cy="216.2"/><circle cx="1014" cy="157.9"/></g><g class="o"><circle cx="1102.9" cy="175.7"/><circle cx="901.3" cy="211.6"/><circle cx="1163.9" cy="176.4"/><circle cx="1102.1" cy="194"/><circle cx="913.9" cy="207.1"/><circle cx="1011.2" cy="204.3"/><circle cx="798.7" cy="240.5"/><circle cx="815.6" cy="205.1"/><circle cx="797.9" cy="190.6"/><circle cx="822.7" cy="199.6"/><circle cx="834" cy="213"/><circle cx="1173.2" cy="191"/></g><g class="p"><circle cx="1102.9" cy="198.9"/><circle cx="901.3" cy="173.1"/><circle cx="1163.9" cy="231.6"/><circle cx="1102.1" cy="176.4"/><circle cx="913.9" cy="150.5"/><circle cx="1011.2" cy="196.2"/><circle cx="798.7" cy="116.6"/><circle cx="815.6" cy="139.3"/><circle cx="797.9" cy="160.2"/><circle cx="822.7" cy="148.4"/><circle cx="834" cy="140.3"/><circle cx="1173.2" cy="213"/></g><g class="o"><circle cx="798.6" cy="220.9"/><circle cx="851.5" cy="206.7"/><circle cx="895.4" cy="194.9"/><circle cx="915.9" cy="214.7"/><circle cx="798.2" cy="201.5"/><circle cx="973.2" cy="205.8"/><circle cx="908.5" cy="231.3"/><circle cx="799.6" cy="218.4"/><circle cx="808.4" cy="221.7"/><circle cx="830.7" cy="220.2"/><circle cx="913.9" cy="211.2"/><circle cx="980.6" cy="213.1"/></g><g class="p"><circle cx="798.6" cy="159.5"/><circle cx="851.5" cy="129.1"/><circle cx="895.4" cy="150.5"/><circle cx="915.9" cy="167.5"/><circle cx="798.2" cy="144.6"/><circle cx="973.2" cy="204.4"/><circle cx="908.5" cy="130.8"/><circle cx="799.6" cy="142.1"/><circle cx="808.4" cy="146.9"/><circle cx="830.7" cy="181.3"/><circle cx="913.9" cy="209.8"/><circle cx="980.6" cy="168.5"/></g><g class="o"><circle cx="1017" cy="200"/><circle cx="931.5" cy="217.3"/><circle cx="1159.9" cy="191"/><circle cx="867.9" cy="211.9"/><circle cx="1151.6" cy="174.6"/><circle cx="811.7" cy="221.7"/><circle cx="825.2" cy="215.4"/><circle cx="829.1" cy="217.3"/><circle cx="1012.4" cy="189.5"/><circle cx="918.6" cy="175"/><circle cx="832.5" cy="222.6"/><circle cx="979.7" cy="205.4"/></g><g class="p"><circle cx="1017" cy="197.6"/><circle cx="931.5" cy="138.9"/><circle cx="1159.9" cy="215.4"/><circle cx="867.9" cy="145.8"/><circle cx="1151.6" cy="200.7"/><circle cx="811.7" cy="152.2"/><circle cx="825.2" cy="116.3"/><circle cx="829.1" cy="119.1"/><circle cx="1012.4" cy="219.7"/><circle cx="918.6" cy="167.2"/><circle cx="832.5" cy="114.6"/><circle cx="979.7" cy="193.4"/></g><g class="o"><circle cx="858.1" cy="212.1"/><circle cx="930.8" cy="197.1"/><circle cx="824.8" cy="223.4"/><circle cx="857.6" cy="229.2"/><circle cx="865.7" cy="221.3"/><circle cx="808.1" cy="213.7"/><circle cx="974.9" cy="226.5"/><circle cx="808.2" cy="211.8"/><circle cx="860.8" cy="226.6"/><circle cx="976.5" cy="215.5"/><circle cx="863.4" cy="222.2"/><circle cx="1109.6" cy="188.7"/></g><g class="p"><circle cx="858.1" cy="177.4"/><circle cx="930.8" cy="89"/><circle cx="824.8" cy="128.1"/><circle cx="857.6" cy="141"/><circle cx="865.7" cy="154.5"/><circle cx="808.1" cy="158.4"/><circle cx="974.9" cy="130.6"/><circle cx="808.2" cy="185.3"/><circle cx="860.8" cy="118.9"/><circle cx="976.5" cy="199.4"/><circle cx="863.4" cy="163.2"/><circle cx="1109.6" cy="202.4"/></g><g class="o"><circle cx="954.8" cy="242.5"/><circle cx="1154.9" cy="206.9"/><circle cx="807.5" cy="222.9"/><circle cx="798.2" cy="202.3"/><circle cx="1081.8" cy="185.2"/><circle cx="912.6" cy="197.1"/><circle cx="827.4" cy="213.1"/><circle cx="843.7" cy="207.4"/><circle cx="861.5" cy="202"/><circle cx="818.8" cy="214.7"/><circle cx="939.5" cy="196.1"/><circle cx="954.1" cy="203.6"/></g><g class="p"><circle cx="954.8" cy="167.3"/><circle cx="1154.9" cy="204.4"/><circle cx="807.5" cy="113.9"/><circle cx="798.2" cy="92.5"/><circle cx="1081.8" cy="228.3"/><circle cx="912.6" cy="140.9"/><circle cx="827.4" cy="133.9"/><circle cx="843.7" cy="161.3"/><circle cx="861.5" cy="124.7"/><circle cx="818.8" cy="122"/><circle cx="939.5" cy="195.8"/><circle cx="954.1" cy="179.2"/></g><g class="o"><circle cx="835.8" cy="194.7"/><circle cx="834.5" cy="214.5"/><circle cx="883.4" cy="208.4"/><circle cx="884.5" cy="231.3"/><circle cx="905" cy="196"/><circle cx="1193.6" cy="189.6"/><circle cx="1118" cy="180.5"/><circle cx="833.7" cy="219.6"/><circle cx="857.4" cy="220.7"/><circle cx="914.1" cy="201.1"/><circle cx="796.5" cy="220.9"/><circle cx="1144" cy="177.3"/></g><g class="p"><circle cx="835.8" cy="164.5"/><circle cx="834.5" cy="153.6"/><circle cx="883.4" cy="158.4"/><circle cx="884.5" cy="142.8"/><circle cx="905" cy="131.4"/><circle cx="1193.6" cy="217"/><circle cx="1118" cy="231.2"/><circle cx="833.7" cy="177.5"/><circle cx="857.4" cy="159.6"/><circle cx="914.1" cy="153.5"/><circle cx="796.5" cy="139.9"/><circle cx="1144" cy="234.2"/></g><g class="o"><circle cx="941.7" cy="177.9"/><circle cx="948.5" cy="201.9"/><circle cx="796.9" cy="220.9"/><circle cx="897" cy="207.9"/><circle cx="903.8" cy="202"/><circle cx="819.2" cy="232"/><circle cx="893" cy="224.8"/><circle cx="1196.2" cy="205.3"/><circle cx="909.8" cy="196.7"/><circle cx="824.3" cy="210.7"/><circle cx="977.3" cy="188.2"/><circle cx="910.4" cy="218.8"/></g><g class="p"><circle cx="941.7" cy="145.9"/><circle cx="948.5" cy="132.8"/><circle cx="796.9" cy="149.3"/><circle cx="897" cy="197.5"/><circle cx="903.8" cy="128.3"/><circle cx="819.2" cy="149.2"/><circle cx="893" cy="149.3"/><circle cx="1196.2" cy="208.3"/><circle cx="909.8" cy="172.5"/><circle cx="824.3" cy="136.2"/><circle cx="977.3" cy="167.2"/><circle cx="910.4" cy="165.3"/></g><g class="o"><circle cx="941.9" cy="234.2"/><circle cx="854.7" cy="207.2"/><circle cx="920.9" cy="199.8"/><circle cx="845.8" cy="238.8"/><circle cx="1174" cy="188.6"/><circle cx="824.6" cy="209.6"/><circle cx="859.9" cy="198.2"/><circle cx="966.5" cy="183.5"/><circle cx="936.2" cy="231"/><circle cx="845.3" cy="216.7"/><circle cx="976.1" cy="208.5"/><circle cx="806.6" cy="198"/></g><g class="p"><circle cx="941.9" cy="215"/><circle cx="854.7" cy="153.4"/><circle cx="920.9" cy="171"/><circle cx="845.8" cy="157"/><circle cx="1174" cy="207.6"/><circle cx="824.6" cy="122.4"/><circle cx="859.9" cy="140.1"/><circle cx="966.5" cy="188.4"/><circle cx="936.2" cy="176.2"/><circle cx="845.3" cy="174"/><circle cx="976.1" cy="210.3"/><circle cx="806.6" cy="116.8"/></g><g class="o"><circle cx="821.7" cy="207"/><circle cx="811.9" cy="233.5"/><circle cx="826.9" cy="216.7"/><circle cx="836.2" cy="210"/><circle cx="824.5" cy="210.4"/><circle cx="1016.6" cy="200"/><circle cx="954" cy="228.9"/><circle cx="905.3" cy="206.7"/><circle cx="892.6" cy="211.1"/><circle cx="967.3" cy="210.7"/><circle cx="966" cy="212.7"/><circle cx="1099.8" cy="181.8"/></g><g class="p"><circle cx="821.7" cy="141.5"/><circle cx="811.9" cy="135.9"/><circle cx="826.9" cy="136.1"/><circle cx="836.2" cy="142"/><circle cx="824.5" cy="164.7"/><circle cx="1016.6" cy="159.9"/><circle cx="954" cy="174.6"/><circle cx="905.3" cy="149.8"/><circle cx="892.6" cy="136.1"/><circle cx="967.3" cy="176.3"/><circle cx="966" cy="190.9"/><circle cx="1099.8" cy="185.9"/></g><g class="o"><circle cx="1124.3" cy="204.8"/><circle cx="879.8" cy="211.6"/><circle cx="1020" cy="200.4"/><circle cx="1171.3" cy="178.9"/><circle cx="1072.6" cy="224.7"/><circle cx="797.2" cy="208.9"/><circle cx="969.9" cy="210.5"/><circle cx="1049.9" cy="186.5"/><circle cx="934.6" cy="203.6"/><circle cx="825.9" cy="209.3"/><circle cx="1218.5" cy="191.1"/><circle cx="873.7" cy="212.9"/></g><g class="p"><circle cx="1124.3" cy="239.8"/><circle cx="879.8" cy="164.5"/><circle cx="1020" cy="153.1"/><circle cx="1171.3" cy="219.9"/><circle cx="1072.6" cy="240"/><circle cx="797.2" cy="119.7"/><circle cx="969.9" cy="191.2"/><circle cx="1049.9" cy="203.5"/><circle cx="934.6" cy="149.2"/><circle cx="825.9" cy="137.8"/><circle cx="1218.5" cy="232.7"/><circle cx="873.7" cy="91.1"/></g><g class="o"><circle cx="1013.9" cy="221.3"/><circle cx="965.6" cy="216.3"/><circle cx="949.7" cy="207.8"/><circle cx="1094.7" cy="166.6"/><circle cx="1208" cy="190.5"/><circle cx="919.4" cy="211.2"/><circle cx="822.9" cy="205.8"/><circle cx="857.1" cy="204.6"/><circle cx="1032" cy="184.8"/><circle cx="845.6" cy="220.8"/><circle cx="825.8" cy="220"/><circle cx="939.3" cy="190.9"/></g><g class="p"><circle cx="1013.9" cy="203.3"/><circle cx="965.6" cy="197.2"/><circle cx="949.7" cy="183.3"/><circle cx="1094.7" cy="200"/><circle cx="1208" cy="237.5"/><circle cx="919.4" cy="159.3"/><circle cx="822.9" cy="130.1"/><circle cx="857.1" cy="182.6"/><circle cx="1032" cy="200.7"/><circle cx="845.6" cy="116"/><circle cx="825.8" cy="161.3"/><circle cx="939.3" cy="179.7"/></g><g class="o"><circle cx="1004" cy="216.2"/><circle cx="993" cy="206.3"/><circle cx="875" cy="193.7"/><circle cx="1028" cy="184.8"/><circle cx="1041.2" cy="207.9"/><circle cx="1026.9" cy="173.3"/><circle cx="841" cy="210.5"/><circle cx="852.6" cy="208.4"/><circle cx="838.5" cy="192.4"/><circle cx="805.6" cy="212.2"/><circle cx="1189.4" cy="204"/><circle cx="835.5" cy="216.6"/></g><g class="p"><circle cx="1004" cy="187.2"/><circle cx="993" cy="195.8"/><circle cx="875" cy="157.1"/><circle cx="1028" cy="195.8"/><circle cx="1041.2" cy="204.5"/><circle cx="1026.9" cy="185.5"/><circle cx="841" cy="151.6"/><circle cx="852.6" cy="101.2"/><circle cx="838.5" cy="106.8"/><circle cx="805.6" cy="124.5"/><circle cx="1189.4" cy="218.9"/><circle cx="835.5" cy="142.4"/></g><g class="o"><circle cx="808.9" cy="209"/><circle cx="864.5" cy="227.3"/><circle cx="836.7" cy="173.6"/><circle cx="905.2" cy="248.6"/><circle cx="824.2" cy="224"/><circle cx="980.8" cy="186.3"/><circle cx="876.3" cy="210.8"/><circle cx="1068.2" cy="190"/><circle cx="1151.3" cy="172.1"/><circle cx="1119.6" cy="185.7"/><circle cx="950" cy="212.6"/><circle cx="845.9" cy="207.8"/></g><g class="p"><circle cx="808.9" cy="84.6"/><circle cx="864.5" cy="171.1"/><circle cx="836.7" cy="141.5"/><circle cx="905.2" cy="162"/><circle cx="824.2" cy="162.4"/><circle cx="980.8" cy="183.9"/><circle cx="876.3" cy="141.5"/><circle cx="1068.2" cy="246.8"/><circle cx="1151.3" cy="233.4"/><circle cx="1119.6" cy="200.9"/><circle cx="950" cy="181.3"/><circle cx="845.9" cy="174.3"/></g><g class="o"><circle cx="817.1" cy="222.6"/><circle cx="813.2" cy="195.8"/><circle cx="834.5" cy="216.9"/><circle cx="1145.2" cy="183.6"/><circle cx="1034.3" cy="180.9"/><circle cx="812.2" cy="206.4"/><circle cx="962.2" cy="218.3"/><circle cx="1017.2" cy="213.9"/><circle cx="810.2" cy="225.7"/><circle cx="1009.8" cy="202.9"/><circle cx="807.9" cy="214.2"/><circle cx="1151.5" cy="184.3"/></g><g class="p"><circle cx="817.1" cy="141.7"/><circle cx="813.2" cy="122"/><circle cx="834.5" cy="170.5"/><circle cx="1145.2" cy="261.1"/><circle cx="1034.3" cy="229"/><circle cx="812.2" cy="117.2"/><circle cx="962.2" cy="169.4"/><circle cx="1017.2" cy="196.9"/><circle cx="810.2" cy="139.3"/><circle cx="1009.8" cy="191.1"/><circle cx="807.9" cy="126.6"/><circle cx="1151.5" cy="201"/></g><g class="o"><circle cx="1035.5" cy="214.5"/><circle cx="962.5" cy="185.2"/><circle cx="878.8" cy="211.5"/><circle cx="892.4" cy="195.6"/><circle cx="848.5" cy="198.4"/><circle cx="881.3" cy="226.8"/><circle cx="915.4" cy="229.8"/><circle cx="986.8" cy="208.7"/><circle cx="1177.1" cy="169.5"/><circle cx="850.9" cy="223.1"/><circle cx="863.5" cy="212.2"/><circle cx="1091.1" cy="188.8"/></g><g class="p"><circle cx="1035.5" cy="226.3"/><circle cx="962.5" cy="194.6"/><circle cx="878.8" cy="156.1"/><circle cx="892.4" cy="138.1"/><circle cx="848.5" cy="162.1"/><circle cx="881.3" cy="140.2"/><circle cx="915.4" cy="113.4"/><circle cx="986.8" cy="178.9"/><circle cx="1177.1" cy="216.9"/><circle cx="850.9" cy="120.4"/><circle cx="863.5" cy="163.6"/><circle cx="1091.1" cy="231.9"/></g><g class="o"><circle cx="830.1" cy="204.9"/><circle cx="900.1" cy="201.2"/><circle cx="1202.5" cy="159.8"/><circle cx="840" cy="203.1"/><circle cx="1032.2" cy="190.6"/><circle cx="934.4" cy="195.3"/><circle cx="1197.1" cy="178.6"/><circle cx="922.5" cy="202.9"/><circle cx="1011.4" cy="182.1"/><circle cx="1191.3" cy="182.8"/><circle cx="1153" cy="185.8"/><circle cx="821" cy="217.8"/></g><g class="p"><circle cx="830.1" cy="188.5"/><circle cx="900.1" cy="167.5"/><circle cx="1202.5" cy="201.8"/><circle cx="840" cy="115"/><circle cx="1032.2" cy="194.6"/><circle cx="934.4" cy="116"/><circle cx="1197.1" cy="219.4"/><circle cx="922.5" cy="173.5"/><circle cx="1011.4" cy="189.3"/><circle cx="1191.3" cy="224.3"/><circle cx="1153" cy="220.4"/><circle cx="821" cy="165"/></g><g class="o"><circle cx="1118.1" cy="199.6"/><circle cx="889.2" cy="226.7"/><circle cx="989.5" cy="204.1"/><circle cx="1068.6" cy="188.1"/><circle cx="906.4" cy="223"/><circle cx="1064.5" cy="191.1"/><circle cx="800" cy="213.7"/><circle cx="958.2" cy="213.5"/><circle cx="1074.6" cy="226.9"/><circle cx="922.8" cy="212.4"/><circle cx="954.7" cy="233.3"/><circle cx="924.6" cy="195.6"/></g><g class="p"><circle cx="1118.1" cy="219.7"/><circle cx="889.2" cy="141.3"/><circle cx="989.5" cy="148.8"/><circle cx="1068.6" cy="221.2"/><circle cx="906.4" cy="180.2"/><circle cx="1064.5" cy="182.4"/><circle cx="800" cy="129.1"/><circle cx="958.2" cy="140.7"/><circle cx="1074.6" cy="195.6"/><circle cx="922.8" cy="188.9"/><circle cx="954.7" cy="191"/><circle cx="924.6" cy="165.8"/></g><g class="o"><circle cx="1181.2" cy="184.9"/><circle cx="829" cy="210.8"/><circle cx="969.4" cy="186.8"/><circle cx="1017.8" cy="213.8"/><circle cx="891.6" cy="210.7"/><circle cx="913.2" cy="189.9"/><circle cx="860.8" cy="198.9"/><circle cx="1168.7" cy="173.3"/><circle cx="796.6" cy="207.6"/><circle cx="1029.4" cy="188.3"/><circle cx="1127.1" cy="160"/><circle cx="799.1" cy="214.8"/></g><g class="p"><circle cx="1181.2" cy="221.8"/><circle cx="829" cy="143.6"/><circle cx="969.4" cy="179.7"/><circle cx="1017.8" cy="205.5"/><circle cx="891.6" cy="152.9"/><circle cx="913.2" cy="153.1"/><circle cx="860.8" cy="151.2"/><circle cx="1168.7" cy="209.7"/><circle cx="796.6" cy="137.9"/><circle cx="1029.4" cy="221.5"/><circle cx="1127.1" cy="198.5"/><circle cx="799.1" cy="98.4"/></g><g class="o"><circle cx="874.1" cy="215.3"/><circle cx="877.9" cy="198.6"/><circle cx="877.2" cy="209.8"/><circle cx="1129.3" cy="168.3"/><circle cx="829.4" cy="203"/><circle cx="986" cy="191.6"/><circle cx="957" cy="228.5"/><circle cx="889.1" cy="226.8"/><circle cx="1043.2" cy="199.2"/><circle cx="1133" cy="163.1"/><circle cx="1044.6" cy="179.6"/><circle cx="913.8" cy="242.3"/></g><g class="p"><circle cx="874.1" cy="226.1"/><circle cx="877.9" cy="135.9"/><circle cx="877.2" cy="150.3"/><circle cx="1129.3" cy="242.1"/><circle cx="829.4" cy="137.7"/><circle cx="986" cy="179.9"/><circle cx="957" cy="204.6"/><circle cx="889.1" cy="147.3"/><circle cx="1043.2" cy="170.4"/><circle cx="1133" cy="219.6"/><circle cx="1044.6" cy="201"/><circle cx="913.8" cy="183"/></g><g class="o"><circle cx="1194.8" cy="200.3"/><circle cx="1007.1" cy="197.9"/><circle cx="799.7" cy="221.1"/><circle cx="896.1" cy="204.2"/><circle cx="874.6" cy="181.8"/><circle cx="951.5" cy="196.8"/><circle cx="838" cy="223.5"/><circle cx="808.1" cy="218.8"/><circle cx="1009.1" cy="203.7"/><circle cx="949.5" cy="205"/><circle cx="943.7" cy="208.5"/><circle cx="882.3" cy="205"/></g><g class="p"><circle cx="1194.8" cy="207"/><circle cx="1007.1" cy="169.6"/><circle cx="799.7" cy="156.7"/><circle cx="896.1" cy="186.5"/><circle cx="874.6" cy="165.3"/><circle cx="951.5" cy="144.6"/><circle cx="838" cy="154.8"/><circle cx="808.1" cy="126.6"/><circle cx="1009.1" cy="194.4"/><circle cx="949.5" cy="165"/><circle cx="943.7" cy="168.6"/><circle cx="882.3" cy="150.7"/></g><g class="o"><circle cx="799.7" cy="207"/><circle cx="884.5" cy="208.1"/><circle cx="1001.5" cy="171.4"/><circle cx="809.9" cy="221.9"/><circle cx="1051.8" cy="204.2"/><circle cx="1074" cy="179.4"/><circle cx="870.1" cy="206.3"/><circle cx="955.9" cy="198.3"/><circle cx="837.3" cy="196.9"/><circle cx="878.4" cy="205.9"/><circle cx="857.9" cy="197.2"/><circle cx="1054.6" cy="164.7"/></g><g class="p"><circle cx="799.7" cy="148.4"/><circle cx="884.5" cy="154.7"/><circle cx="1001.5" cy="182"/><circle cx="809.9" cy="117.9"/><circle cx="1051.8" cy="170.5"/><circle cx="1074" cy="226.4"/><circle cx="870.1" cy="150.2"/><circle cx="955.9" cy="147.8"/><circle cx="837.3" cy="111.9"/><circle cx="878.4" cy="176.3"/><circle cx="857.9" cy="145.8"/><circle cx="1054.6" cy="194"/></g><g class="o"><circle cx="1155" cy="181.3"/><circle cx="799.5" cy="208.9"/><circle cx="1108.2" cy="195.1"/><circle cx="1072.4" cy="186.3"/><circle cx="1082.6" cy="212.7"/><circle cx="868.6" cy="205.4"/><circle cx="945.3" cy="208.7"/><circle cx="801.2" cy="203.7"/><circle cx="1108.3" cy="188.6"/><circle cx="926.4" cy="236.3"/><circle cx="913.7" cy="206.8"/><circle cx="841.4" cy="215.1"/></g><g class="p"><circle cx="1155" cy="221.9"/><circle cx="799.5" cy="168.2"/><circle cx="1108.2" cy="229.5"/><circle cx="1072.4" cy="245.1"/><circle cx="1082.6" cy="228"/><circle cx="868.6" cy="179.5"/><circle cx="945.3" cy="137.6"/><circle cx="801.2" cy="123.9"/><circle cx="1108.3" cy="206.3"/><circle cx="926.4" cy="170.3"/><circle cx="913.7" cy="150.9"/><circle cx="841.4" cy="129.4"/></g><g class="o"><circle cx="861.4" cy="211.4"/><circle cx="822.5" cy="206.8"/><circle cx="961.6" cy="213.7"/><circle cx="819.2" cy="208.8"/><circle cx="824.5" cy="212.3"/><circle cx="883.4" cy="211.1"/><circle cx="985.2" cy="222.8"/><circle cx="1153.2" cy="192.5"/><circle cx="845.9" cy="217.6"/><circle cx="961.7" cy="209.6"/><circle cx="967.4" cy="225.1"/><circle cx="1012" cy="182.8"/></g><g class="p"><circle cx="861.4" cy="139.2"/><circle cx="822.5" cy="131.5"/><circle cx="961.6" cy="193.6"/><circle cx="819.2" cy="167.8"/><circle cx="824.5" cy="133.8"/><circle cx="883.4" cy="172.9"/><circle cx="985.2" cy="177.4"/><circle cx="1153.2" cy="239"/><circle cx="845.9" cy="155.4"/><circle cx="961.7" cy="129.1"/><circle cx="967.4" cy="177.2"/><circle cx="1012" cy="165.1"/></g><g class="o"><circle cx="1099" cy="181"/><circle cx="826.6" cy="195.6"/><circle cx="1095.4" cy="203.9"/><circle cx="811.4" cy="200.4"/><circle cx="1134.5" cy="178.6"/><circle cx="936.2" cy="214.9"/><circle cx="1099.2" cy="189.4"/><circle cx="1079.2" cy="185.8"/><circle cx="1037.1" cy="204.3"/><circle cx="925" cy="201.5"/><circle cx="826.3" cy="202.4"/><circle cx="934" cy="209.5"/></g><g class="p"><circle cx="1099" cy="222.8"/><circle cx="826.6" cy="105.9"/><circle cx="1095.4" cy="215"/><circle cx="811.4" cy="113.9"/><circle cx="1134.5" cy="201.7"/><circle cx="936.2" cy="134"/><circle cx="1099.2" cy="220.9"/><circle cx="1079.2" cy="208.3"/><circle cx="1037.1" cy="195.5"/><circle cx="925" cy="135.5"/><circle cx="826.3" cy="135.4"/><circle cx="934" cy="164.2"/></g><g class="o"><circle cx="845.1" cy="218.6"/><circle cx="819.3" cy="209.4"/><circle cx="888.4" cy="199"/><circle cx="955" cy="215.4"/><circle cx="1107.9" cy="159.6"/><circle cx="878.4" cy="229.7"/><circle cx="901.4" cy="194.7"/><circle cx="889.8" cy="191.1"/><circle cx="824.6" cy="216.2"/><circle cx="1096.2" cy="164.7"/><circle cx="880.6" cy="197.2"/><circle cx="875.9" cy="221.3"/></g><g class="p"><circle cx="845.1" cy="178.3"/><circle cx="819.3" cy="114.6"/><circle cx="888.4" cy="159.2"/><circle cx="955" cy="139.9"/><circle cx="1107.9" cy="242.4"/><circle cx="878.4" cy="155.8"/><circle cx="901.4" cy="130"/><circle cx="889.8" cy="142.5"/><circle cx="824.6" cy="154.6"/><circle cx="1096.2" cy="254.1"/><circle cx="880.6" cy="110.2"/><circle cx="875.9" cy="152.4"/></g><g class="o"><circle cx="796.8" cy="197.7"/><circle cx="810.5" cy="211.1"/><circle cx="1005.6" cy="190"/><circle cx="904.5" cy="223.2"/><circle cx="937.8" cy="212.1"/><circle cx="826.5" cy="215"/><circle cx="1108.1" cy="160.9"/><circle cx="873.9" cy="219.8"/><circle cx="1027.4" cy="205.2"/><circle cx="1007" cy="178"/><circle cx="865.3" cy="195.4"/><circle cx="803.7" cy="207.3"/></g><g class="p"><circle cx="796.8" cy="121.8"/><circle cx="810.5" cy="133.3"/><circle cx="1005.6" cy="217.2"/><circle cx="904.5" cy="155.5"/><circle cx="937.8" cy="185.1"/><circle cx="826.5" cy="162.8"/><circle cx="1108.1" cy="202.4"/><circle cx="873.9" cy="191.6"/><circle cx="1027.4" cy="192.9"/><circle cx="1007" cy="193"/><circle cx="865.3" cy="145.7"/><circle cx="803.7" cy="174.3"/></g><g class="o"><circle cx="1164.5" cy="186.8"/><circle cx="939.1" cy="204.9"/><circle cx="966.2" cy="199"/><circle cx="926.8" cy="216.4"/><circle cx="926.3" cy="207.5"/><circle cx="909.7" cy="204.5"/><circle cx="891.8" cy="211.6"/><circle cx="894.1" cy="209.7"/><circle cx="1076.2" cy="176"/><circle cx="895" cy="197.5"/><circle cx="1082.9" cy="170.6"/><circle cx="855.2" cy="184.6"/></g><g class="p"><circle cx="1164.5" cy="223.3"/><circle cx="939.1" cy="183.7"/><circle cx="966.2" cy="162.6"/><circle cx="926.8" cy="189.9"/><circle cx="926.3" cy="169.7"/><circle cx="909.7" cy="124.8"/><circle cx="891.8" cy="171.9"/><circle cx="894.1" cy="131.9"/><circle cx="1076.2" cy="198.1"/><circle cx="895" cy="167.9"/><circle cx="1082.9" cy="187.3"/><circle cx="855.2" cy="171.5"/></g><g class="o"><circle cx="1087.3" cy="198.4"/><circle cx="898.1" cy="223"/><circle cx="809.5" cy="216.5"/><circle cx="799.5" cy="211.4"/><circle cx="806.9" cy="209.5"/><circle cx="1167.5" cy="173.3"/><circle cx="1039.7" cy="220.6"/><circle cx="944.3" cy="216.4"/><circle cx="852.1" cy="201.6"/><circle cx="813.1" cy="212.3"/><circle cx="816.3" cy="193.8"/><circle cx="1103.6" cy="194.5"/></g><g class="p"><circle cx="1087.3" cy="172.1"/><circle cx="898.1" cy="138.6"/><circle cx="809.5" cy="150.4"/><circle cx="799.5" cy="147.2"/><circle cx="806.9" cy="135.2"/><circle cx="1167.5" cy="195"/><circle cx="1039.7" cy="245.8"/><circle cx="944.3" cy="190"/><circle cx="852.1" cy="121.7"/><circle cx="813.1" cy="135.2"/><circle cx="816.3" cy="133.7"/><circle cx="1103.6" cy="182.2"/></g><g class="o"><circle cx="1145.6" cy="168.6"/><circle cx="1102.3" cy="187.3"/><circle cx="1021.7" cy="180.9"/><circle cx="1015.3" cy="215.5"/><circle cx="831.7" cy="218.5"/><circle cx="1110" cy="185"/><circle cx="901.8" cy="224.9"/><circle cx="1171.5" cy="184"/><circle cx="878.8" cy="188.1"/><circle cx="810.9" cy="187.2"/><circle cx="843.1" cy="211.1"/><circle cx="960" cy="214.9"/></g><g class="p"><circle cx="1145.6" cy="241.3"/><circle cx="1102.3" cy="182.1"/><circle cx="1021.7" cy="171.3"/><circle cx="1015.3" cy="183.4"/><circle cx="831.7" cy="171.4"/><circle cx="1110" cy="228.9"/><circle cx="901.8" cy="202.4"/><circle cx="1171.5" cy="199.7"/><circle cx="878.8" cy="112.3"/><circle cx="810.9" cy="152.6"/><circle cx="843.1" cy="156.2"/><circle cx="960" cy="192.2"/></g><g class="o"><circle cx="877.9" cy="238.1"/><circle cx="951.8" cy="229.2"/><circle cx="1016.2" cy="191.8"/><circle cx="821.9" cy="212.3"/><circle cx="998.4" cy="174"/><circle cx="877.6" cy="216.3"/><circle cx="921.4" cy="234.7"/><circle cx="948.7" cy="197.3"/><circle cx="853.5" cy="210.7"/><circle cx="904.7" cy="209.5"/><circle cx="850.9" cy="212.4"/><circle cx="816.5" cy="213.8"/></g><g class="p"><circle cx="877.9" cy="141.1"/><circle cx="951.8" cy="149.9"/><circle cx="1016.2" cy="173.2"/><circle cx="821.9" cy="122.2"/><circle cx="998.4" cy="193.9"/><circle cx="877.6" cy="156.8"/><circle cx="921.4" cy="228.7"/><circle cx="948.7" cy="143.5"/><circle cx="853.5" cy="149.3"/><circle cx="904.7" cy="160.9"/><circle cx="850.9" cy="155.4"/><circle cx="816.5" cy="156.1"/></g><g class="o"><circle cx="960.9" cy="207.8"/><circle cx="1022.4" cy="168.1"/><circle cx="1164.2" cy="185.2"/><circle cx="798.6" cy="213.2"/><circle cx="830.2" cy="217.1"/><circle cx="934.8" cy="196.5"/><circle cx="831.4" cy="219.5"/><circle cx="850" cy="210.2"/><circle cx="1045.1" cy="181.8"/><circle cx="942.4" cy="205.9"/><circle cx="1102.6" cy="224.2"/><circle cx="1154.4" cy="178.7"/></g><g class="p"><circle cx="960.9" cy="183.6"/><circle cx="1022.4" cy="222"/><circle cx="1164.2" cy="225.7"/><circle cx="798.6" cy="112"/><circle cx="830.2" cy="154.5"/><circle cx="934.8" cy="112.7"/><circle cx="831.4" cy="173.4"/><circle cx="850" cy="147.7"/><circle cx="1045.1" cy="213.2"/><circle cx="942.4" cy="139.6"/><circle cx="1102.6" cy="231.1"/><circle cx="1154.4" cy="233"/></g><g class="o"><circle cx="1107" cy="214"/><circle cx="1074.4" cy="189.6"/><circle cx="850.8" cy="229.6"/><circle cx="939.9" cy="224"/><circle cx="1027.7" cy="203.6"/><circle cx="849.9" cy="209.8"/><circle cx="949.9" cy="218.9"/><circle cx="1128.5" cy="199.5"/><circle cx="920.5" cy="218"/><circle cx="810.4" cy="212.5"/><circle cx="934.6" cy="202.1"/><circle cx="816.1" cy="213.3"/></g><g class="p"><circle cx="1107" cy="193.6"/><circle cx="1074.4" cy="185.2"/><circle cx="850.8" cy="132.1"/><circle cx="939.9" cy="173"/><circle cx="1027.7" cy="207.7"/><circle cx="849.9" cy="131.3"/><circle cx="949.9" cy="146"/><circle cx="1128.5" cy="206.8"/><circle cx="920.5" cy="137.8"/><circle cx="810.4" cy="107.4"/><circle cx="934.6" cy="178.4"/><circle cx="816.1" cy="87.4"/></g><g class="o"><circle cx="941.8" cy="190"/><circle cx="939.6" cy="195.8"/><circle cx="1009.2" cy="208.6"/><circle cx="797.7" cy="214.3"/><circle cx="1074.3" cy="175.5"/><circle cx="1188.5" cy="160.2"/><circle cx="1061.2" cy="178.4"/><circle cx="911.6" cy="184.1"/><circle cx="1049.6" cy="195.2"/><circle cx="1173.8" cy="181.6"/><circle cx="973.1" cy="194.5"/><circle cx="870.3" cy="213"/></g><g class="p"><circle cx="941.8" cy="203.5"/><circle cx="939.6" cy="166.2"/><circle cx="1009.2" cy="205.4"/><circle cx="797.7" cy="128.7"/><circle cx="1074.3" cy="173.8"/><circle cx="1188.5" cy="242.9"/><circle cx="1061.2" cy="231.4"/><circle cx="911.6" cy="164.1"/><circle cx="1049.6" cy="192.2"/><circle cx="1173.8" cy="232.8"/><circle cx="973.1" cy="170.3"/><circle cx="870.3" cy="144.7"/></g><g class="o"><circle cx="811.9" cy="208.1"/><circle cx="1095.1" cy="202.7"/><circle cx="803.7" cy="205.3"/><circle cx="892.5" cy="211.4"/><circle cx="961.9" cy="210.6"/><circle cx="986.1" cy="216.9"/><circle cx="935.7" cy="195.2"/><circle cx="915" cy="215.4"/><circle cx="869.3" cy="206.4"/><circle cx="933.9" cy="202.1"/><circle cx="967.6" cy="181.8"/><circle cx="829.2" cy="190.9"/></g><g class="p"><circle cx="811.9" cy="137.9"/><circle cx="1095.1" cy="178"/><circle cx="803.7" cy="140.6"/><circle cx="892.5" cy="182"/><circle cx="961.9" cy="192"/><circle cx="986.1" cy="186.2"/><circle cx="935.7" cy="170.6"/><circle cx="915" cy="197.9"/><circle cx="869.3" cy="130"/><circle cx="933.9" cy="194"/><circle cx="967.6" cy="178.8"/><circle cx="829.2" cy="139.2"/></g><g class="o"><circle cx="919.3" cy="210.3"/><circle cx="805.2" cy="214"/><circle cx="943.4" cy="203.7"/><circle cx="797.3" cy="205.9"/><circle cx="907.9" cy="202"/><circle cx="979.7" cy="220.9"/><circle cx="929.2" cy="211.8"/><circle cx="877.6" cy="208.7"/><circle cx="1003.5" cy="197.9"/><circle cx="950.3" cy="201"/><circle cx="905.3" cy="225.2"/><circle cx="853.3" cy="186.5"/></g><g class="p"><circle cx="919.3" cy="139.5"/><circle cx="805.2" cy="128.3"/><circle cx="943.4" cy="152"/><circle cx="797.3" cy="156.9"/><circle cx="907.9" cy="206.6"/><circle cx="979.7" cy="195"/><circle cx="929.2" cy="180.3"/><circle cx="877.6" cy="176.6"/><circle cx="1003.5" cy="164.6"/><circle cx="950.3" cy="144.1"/><circle cx="905.3" cy="178.7"/><circle cx="853.3" cy="179.1"/></g><g class="o"><circle cx="999.9" cy="205.7"/><circle cx="798.4" cy="214.8"/><circle cx="965.4" cy="213.8"/><circle cx="1086.3" cy="184.9"/><circle cx="859.9" cy="219.4"/><circle cx="895" cy="198.5"/><circle cx="1111.8" cy="189.6"/><circle cx="804.7" cy="187.4"/><circle cx="921.6" cy="215"/><circle cx="875.1" cy="208.8"/><circle cx="1157" cy="173.4"/><circle cx="797.1" cy="216.1"/></g><g class="p"><circle cx="999.9" cy="143.7"/><circle cx="798.4" cy="133.9"/><circle cx="965.4" cy="217.6"/><circle cx="1086.3" cy="203.6"/><circle cx="859.9" cy="152"/><circle cx="895" cy="134.5"/><circle cx="1111.8" cy="224.7"/><circle cx="804.7" cy="117.2"/><circle cx="921.6" cy="203"/><circle cx="875.1" cy="148.5"/><circle cx="1157" cy="184.7"/><circle cx="797.1" cy="164.4"/></g><g class="o"><circle cx="908.2" cy="207.1"/><circle cx="1087.1" cy="158.3"/><circle cx="1055.1" cy="175"/><circle cx="872.2" cy="215.6"/><circle cx="1050.7" cy="173.3"/><circle cx="949" cy="198.9"/><circle cx="980.4" cy="224.6"/><circle cx="872.4" cy="219.7"/><circle cx="926.6" cy="207.1"/><circle cx="852.2" cy="219.8"/><circle cx="975" cy="193.4"/><circle cx="1037.7" cy="190.8"/></g><g class="p"><circle cx="908.2" cy="177.5"/><circle cx="1087.1" cy="229.4"/><circle cx="1055.1" cy="192.3"/><circle cx="872.2" cy="127"/><circle cx="1050.7" cy="171.6"/><circle cx="949" cy="172"/><circle cx="980.4" cy="218.3"/><circle cx="872.4" cy="189.3"/><circle cx="926.6" cy="151.2"/><circle cx="852.2" cy="173.9"/><circle cx="975" cy="180"/><circle cx="1037.7" cy="159.7"/></g><g class="o"><circle cx="870.2" cy="212.4"/><circle cx="929.7" cy="187.1"/><circle cx="870.6" cy="213.6"/><circle cx="816.3" cy="209.7"/><circle cx="803.2" cy="197"/><circle cx="881.1" cy="221.5"/><circle cx="915.4" cy="210.7"/><circle cx="1014.6" cy="236.7"/><circle cx="815.2" cy="217.8"/><circle cx="1059.4" cy="201.1"/><circle cx="963.2" cy="205.9"/><circle cx="819.2" cy="208"/></g><g class="p"><circle cx="870.2" cy="174"/><circle cx="929.7" cy="152.1"/><circle cx="870.6" cy="152"/><circle cx="816.3" cy="144.3"/><circle cx="803.2" cy="154.5"/><circle cx="881.1" cy="101.8"/><circle cx="915.4" cy="131"/><circle cx="1014.6" cy="179.1"/><circle cx="815.2" cy="110"/><circle cx="1059.4" cy="194.6"/><circle cx="963.2" cy="170.9"/><circle cx="819.2" cy="127.6"/></g><g class="o"><circle cx="911.7" cy="205.9"/><circle cx="907.1" cy="210.1"/><circle cx="881.9" cy="195.6"/><circle cx="1075" cy="178.5"/><circle cx="961.8" cy="192.8"/><circle cx="822.9" cy="214.5"/><circle cx="1038" cy="199.7"/><circle cx="1140.1" cy="166.4"/><circle cx="964.5" cy="219.6"/><circle cx="1070.2" cy="189.5"/><circle cx="973.1" cy="188.4"/><circle cx="827" cy="213.3"/></g><g class="p"><circle cx="911.7" cy="153.9"/><circle cx="907.1" cy="120.7"/><circle cx="881.9" cy="134.5"/><circle cx="1075" cy="169.7"/><circle cx="961.8" cy="169.1"/><circle cx="822.9" cy="140.2"/><circle cx="1038" cy="195.7"/><circle cx="1140.1" cy="217.7"/><circle cx="964.5" cy="200.7"/><circle cx="1070.2" cy="200.9"/><circle cx="973.1" cy="191.7"/><circle cx="827" cy="151"/></g><g class="o"><circle cx="989.6" cy="206"/><circle cx="846.6" cy="205.9"/><circle cx="853.7" cy="194.3"/><circle cx="799.9" cy="203.1"/><circle cx="933" cy="202.4"/><circle cx="809.8" cy="211.2"/><circle cx="835.1" cy="212.6"/><circle cx="1099.5" cy="199.7"/><circle cx="838.6" cy="219.2"/><circle cx="820.3" cy="194.3"/><circle cx="801.5" cy="215.5"/><circle cx="852.6" cy="202.2"/></g><g class="p"><circle cx="989.6" cy="159.7"/><circle cx="846.6" cy="107.9"/><circle cx="853.7" cy="113.6"/><circle cx="799.9" cy="110.1"/><circle cx="933" cy="168.9"/><circle cx="809.8" cy="167.3"/><circle cx="835.1" cy="149.3"/><circle cx="1099.5" cy="236"/><circle cx="838.6" cy="152.2"/><circle cx="820.3" cy="129.1"/><circle cx="801.5" cy="115.5"/><circle cx="852.6" cy="104.5"/></g><g class="o"><circle cx="886" cy="236.3"/><circle cx="845.8" cy="197.9"/><circle cx="834.2" cy="202.9"/><circle cx="966" cy="197.8"/><circle cx="913.8" cy="207.8"/><circle cx="960.3" cy="229.1"/><circle cx="923.8" cy="197.6"/><circle cx="821.7" cy="215"/><circle cx="1062.8" cy="200.2"/><circle cx="868.1" cy="197.2"/><circle cx="902.4" cy="210.9"/><circle cx="880" cy="210.4"/></g><g class="p"><circle cx="886" cy="178.7"/><circle cx="845.8" cy="149.9"/><circle cx="834.2" cy="137.9"/><circle cx="966" cy="179.4"/><circle cx="913.8" cy="159.3"/><circle cx="960.3" cy="201.2"/><circle cx="923.8" cy="188.2"/><circle cx="821.7" cy="161.9"/><circle cx="1062.8" cy="199.3"/><circle cx="868.1" cy="149.9"/><circle cx="902.4" cy="175.2"/><circle cx="880" cy="191.2"/></g><g class="o"><circle cx="966.3" cy="204.2"/><circle cx="826.1" cy="225.5"/><circle cx="890.5" cy="201.6"/><circle cx="845.8" cy="219.3"/><circle cx="1115.9" cy="205.4"/><circle cx="1024" cy="176.2"/><circle cx="1041.6" cy="202.2"/><circle cx="885" cy="212.6"/><circle cx="1117.9" cy="165.6"/><circle cx="1076.9" cy="178.8"/><circle cx="836.6" cy="204.1"/><circle cx="867.8" cy="194.2"/></g><g class="p"><circle cx="966.3" cy="147.8"/><circle cx="826.1" cy="155.4"/><circle cx="890.5" cy="120.3"/><circle cx="845.8" cy="143.2"/><circle cx="1115.9" cy="212.2"/><circle cx="1024" cy="197.2"/><circle cx="1041.6" cy="204.9"/><circle cx="885" cy="155.6"/><circle cx="1117.9" cy="193.6"/><circle cx="1076.9" cy="204.1"/><circle cx="836.6" cy="169.5"/><circle cx="867.8" cy="128.5"/></g><g class="o"><circle cx="1078" cy="177.4"/><circle cx="920.6" cy="196.8"/><circle cx="925" cy="238.8"/><circle cx="1086" cy="205.2"/><circle cx="1025.1" cy="192.6"/><circle cx="1132.3" cy="179.8"/><circle cx="841" cy="217.6"/><circle cx="818.8" cy="188.5"/><circle cx="1152.1" cy="190"/><circle cx="859.4" cy="208"/><circle cx="831.2" cy="218.3"/><circle cx="1055.1" cy="199.2"/></g><g class="p"><circle cx="1078" cy="153.6"/><circle cx="920.6" cy="188.2"/><circle cx="925" cy="116.5"/><circle cx="1086" cy="232.3"/><circle cx="1025.1" cy="231.3"/><circle cx="1132.3" cy="198.5"/><circle cx="841" cy="151.7"/><circle cx="818.8" cy="145.3"/><circle cx="1152.1" cy="217.8"/><circle cx="859.4" cy="148.1"/><circle cx="831.2" cy="139.3"/><circle cx="1055.1" cy="212.3"/></g><g class="o"><circle cx="902.8" cy="177.7"/><circle cx="897.7" cy="192.5"/><circle cx="861.6" cy="212.7"/><circle cx="1117.4" cy="181.6"/><circle cx="934.7" cy="201.7"/><circle cx="841.8" cy="203.5"/><circle cx="853.8" cy="214"/><circle cx="803.2" cy="214.7"/><circle cx="896.7" cy="210.8"/><circle cx="919.5" cy="211.7"/><circle cx="991.1" cy="216.2"/><circle cx="947.8" cy="200.9"/></g><g class="p"><circle cx="902.8" cy="156.9"/><circle cx="897.7" cy="118.5"/><circle cx="861.6" cy="110.3"/><circle cx="1117.4" cy="203.3"/><circle cx="934.7" cy="155.7"/><circle cx="841.8" cy="186.6"/><circle cx="853.8" cy="149.8"/><circle cx="803.2" cy="171.2"/><circle cx="896.7" cy="193"/><circle cx="919.5" cy="118.7"/><circle cx="991.1" cy="179.7"/><circle cx="947.8" cy="202.2"/></g><g class="o"><circle cx="848.5" cy="197.3"/><circle cx="936.7" cy="204.4"/><circle cx="1059.4" cy="192.5"/><circle cx="886.6" cy="204.5"/><circle cx="1098.7" cy="190.3"/><circle cx="833.5" cy="215.8"/><circle cx="941.7" cy="252.3"/><circle cx="924.7" cy="213.1"/><circle cx="802" cy="198.8"/><circle cx="914" cy="216.9"/><circle cx="1097.3" cy="177"/><circle cx="906.8" cy="220.1"/></g><g class="p"><circle cx="848.5" cy="136.2"/><circle cx="936.7" cy="191.1"/><circle cx="1059.4" cy="201.3"/><circle cx="886.6" cy="156.3"/><circle cx="1098.7" cy="225.7"/><circle cx="833.5" cy="135.2"/><circle cx="941.7" cy="151.2"/><circle cx="924.7" cy="186.8"/><circle cx="802" cy="90.9"/><circle cx="914" cy="139.3"/><circle cx="1097.3" cy="241.2"/><circle cx="906.8" cy="152.8"/></g><g class="o"><circle cx="822.3" cy="222.9"/><circle cx="1090.2" cy="195.9"/><circle cx="804.6" cy="223.8"/><circle cx="838" cy="207.5"/><circle cx="898.5" cy="189.6"/><circle cx="814.1" cy="217.4"/><circle cx="910" cy="203.5"/><circle cx="986.5" cy="204.4"/><circle cx="905.3" cy="210.6"/><circle cx="939.1" cy="194.5"/><circle cx="1069.1" cy="182.9"/><circle cx="1118.7" cy="188.9"/></g><g class="p"><circle cx="822.3" cy="145.6"/><circle cx="1090.2" cy="218.1"/><circle cx="804.6" cy="144.6"/><circle cx="838" cy="144.8"/><circle cx="898.5" cy="152.2"/><circle cx="814.1" cy="165.2"/><circle cx="910" cy="165.8"/><circle cx="986.5" cy="196.4"/><circle cx="905.3" cy="132.4"/><circle cx="939.1" cy="172.9"/><circle cx="1069.1" cy="238.4"/><circle cx="1118.7" cy="241.2"/></g><g class="o"><circle cx="1176.1" cy="203.2"/><circle cx="894.8" cy="203.5"/><circle cx="797.5" cy="211.8"/><circle cx="995.2" cy="202.9"/><circle cx="1075.1" cy="209"/><circle cx="949.3" cy="209.7"/><circle cx="874.6" cy="209"/><circle cx="797.9" cy="211.6"/><circle cx="962.9" cy="211.6"/><circle cx="822.7" cy="206.4"/><circle cx="863" cy="205.1"/><circle cx="837.6" cy="205"/></g><g class="p"><circle cx="1176.1" cy="195.5"/><circle cx="894.8" cy="145.5"/><circle cx="797.5" cy="140.7"/><circle cx="995.2" cy="189.6"/><circle cx="1075.1" cy="206.9"/><circle cx="949.3" cy="161.6"/><circle cx="874.6" cy="154.9"/><circle cx="797.9" cy="135"/><circle cx="962.9" cy="141.1"/><circle cx="822.7" cy="141.4"/><circle cx="863" cy="140"/><circle cx="837.6" cy="136.1"/></g><g class="o"><circle cx="971.6" cy="200.6"/><circle cx="818.7" cy="209.1"/><circle cx="877.4" cy="208.3"/><circle cx="866.5" cy="199.7"/><circle cx="1023.1" cy="194.9"/><circle cx="832.4" cy="217.7"/><circle cx="837.2" cy="199.1"/><circle cx="895.2" cy="167.7"/><circle cx="959.6" cy="194.7"/><circle cx="863" cy="228.8"/><circle cx="1109.6" cy="170.1"/><circle cx="846.6" cy="206.6"/></g><g class="p"><circle cx="971.6" cy="188.5"/><circle cx="818.7" cy="179.4"/><circle cx="877.4" cy="135.3"/><circle cx="866.5" cy="136.4"/><circle cx="1023.1" cy="192.5"/><circle cx="832.4" cy="121"/><circle cx="837.2" cy="137.6"/><circle cx="895.2" cy="120.9"/><circle cx="959.6" cy="165.8"/><circle cx="863" cy="147"/><circle cx="1109.6" cy="210"/><circle cx="846.6" cy="153.2"/></g><g class="o"><circle cx="986.7" cy="192.5"/><circle cx="885.7" cy="209.2"/><circle cx="796.6" cy="223.5"/><circle cx="815.7" cy="212.5"/><circle cx="1076.7" cy="190.1"/><circle cx="1094.7" cy="181.9"/><circle cx="1027.7" cy="204.2"/><circle cx="946.8" cy="191.4"/><circle cx="873.1" cy="231.4"/><circle cx="797.3" cy="203.8"/><circle cx="852.5" cy="209.2"/><circle cx="994.6" cy="206"/></g><g class="p"><circle cx="986.7" cy="220"/><circle cx="885.7" cy="193"/><circle cx="796.6" cy="112.6"/><circle cx="815.7" cy="155.7"/><circle cx="1076.7" cy="191.4"/><circle cx="1094.7" cy="196.9"/><circle cx="1027.7" cy="187.6"/><circle cx="946.8" cy="159.3"/><circle cx="873.1" cy="113"/><circle cx="797.3" cy="126.2"/><circle cx="852.5" cy="163.5"/><circle cx="994.6" cy="169.2"/></g><g class="o"><circle cx="807.6" cy="204.6"/><circle cx="1042.3" cy="195.5"/><circle cx="858.4" cy="219.9"/><circle cx="811.4" cy="215"/><circle cx="1069.1" cy="186.9"/><circle cx="1199.5" cy="195.5"/><circle cx="1032.8" cy="205.1"/><circle cx="812.4" cy="212.1"/><circle cx="935.6" cy="211.3"/><circle cx="852.5" cy="201.5"/><circle cx="992" cy="186.9"/><circle cx="1198.7" cy="179.7"/></g><g class="p"><circle cx="807.6" cy="140.4"/><circle cx="1042.3" cy="197.2"/><circle cx="858.4" cy="127.9"/><circle cx="811.4" cy="90.9"/><circle cx="1069.1" cy="205.1"/><circle cx="1199.5" cy="216.3"/><circle cx="1032.8" cy="203.6"/><circle cx="812.4" cy="135.4"/><circle cx="935.6" cy="131.7"/><circle cx="852.5" cy="107"/><circle cx="992" cy="175.8"/><circle cx="1198.7" cy="216.2"/></g><g class="o"><circle cx="915.3" cy="233.9"/><circle cx="1117.7" cy="167.2"/><circle cx="808.3" cy="228.1"/><circle cx="875.9" cy="210.1"/><circle cx="978.3" cy="194.3"/><circle cx="881" cy="199.6"/><circle cx="1107.1" cy="154.5"/><circle cx="811.6" cy="211.1"/><circle cx="831.4" cy="207.9"/><circle cx="798.1" cy="224.8"/><circle cx="971" cy="203.8"/><circle cx="956.7" cy="202.2"/></g><g class="p"><circle cx="915.3" cy="120.5"/><circle cx="1117.7" cy="196.9"/><circle cx="808.3" cy="161.3"/><circle cx="875.9" cy="130.1"/><circle cx="978.3" cy="173.1"/><circle cx="881" cy="155"/><circle cx="1107.1" cy="205.7"/><circle cx="811.6" cy="124.9"/><circle cx="831.4" cy="144.7"/><circle cx="798.1" cy="161"/><circle cx="971" cy="175.7"/><circle cx="956.7" cy="183.1"/></g><g class="o"><circle cx="843.9" cy="229.2"/><circle cx="904.8" cy="223.3"/><circle cx="1131.6" cy="158.9"/><circle cx="1146.2" cy="205.3"/><circle cx="893" cy="200.9"/><circle cx="1220.1" cy="172.8"/><circle cx="811.5" cy="201.8"/><circle cx="827.4" cy="211.8"/><circle cx="802.9" cy="211.3"/><circle cx="919.6" cy="199.9"/><circle cx="1038.5" cy="195.8"/><circle cx="1108" cy="181.5"/></g><g class="p"><circle cx="843.9" cy="140.4"/><circle cx="904.8" cy="157.1"/><circle cx="1131.6" cy="226.5"/><circle cx="1146.2" cy="222.7"/><circle cx="893" cy="183.1"/><circle cx="1220.1" cy="199.7"/><circle cx="811.5" cy="114.4"/><circle cx="827.4" cy="121.4"/><circle cx="802.9" cy="123.8"/><circle cx="919.6" cy="171.9"/><circle cx="1038.5" cy="185.2"/><circle cx="1108" cy="208.7"/></g><g class="o"><circle cx="1010.4" cy="192.1"/><circle cx="1191" cy="188.3"/><circle cx="811.4" cy="212.1"/><circle cx="926.8" cy="220.2"/><circle cx="881.3" cy="235"/><circle cx="864.3" cy="202.7"/><circle cx="887.7" cy="197.1"/><circle cx="937.7" cy="220.6"/><circle cx="799.2" cy="192.1"/><circle cx="905.5" cy="211.7"/><circle cx="1022.8" cy="204.1"/><circle cx="1152" cy="184"/></g><g class="p"><circle cx="1010.4" cy="154.2"/><circle cx="1191" cy="196.8"/><circle cx="811.4" cy="129.3"/><circle cx="926.8" cy="145.5"/><circle cx="881.3" cy="141.7"/><circle cx="864.3" cy="152.8"/><circle cx="887.7" cy="133.5"/><circle cx="937.7" cy="156.4"/><circle cx="799.2" cy="120.1"/><circle cx="905.5" cy="159.8"/><circle cx="1022.8" cy="184.6"/><circle cx="1152" cy="224.1"/></g><g class="o"><circle cx="960.5" cy="233.9"/><circle cx="973.9" cy="198.1"/><circle cx="1108.6" cy="206.2"/><circle cx="806.5" cy="218.8"/><circle cx="924" cy="208"/><circle cx="958.2" cy="203.5"/><circle cx="1043.4" cy="207.8"/><circle cx="814.3" cy="214.9"/><circle cx="968.6" cy="197.8"/><circle cx="1129.7" cy="152.2"/><circle cx="800.8" cy="198.2"/><circle cx="1030.8" cy="169.2"/></g><g class="p"><circle cx="960.5" cy="193.3"/><circle cx="973.9" cy="190.5"/><circle cx="1108.6" cy="168.5"/><circle cx="806.5" cy="138.5"/><circle cx="924" cy="93.3"/><circle cx="958.2" cy="166.8"/><circle cx="1043.4" cy="202.5"/><circle cx="814.3" cy="136.4"/><circle cx="968.6" cy="177.5"/><circle cx="1129.7" cy="224.3"/><circle cx="800.8" cy="112.6"/><circle cx="1030.8" cy="210.1"/></g><g class="o"><circle cx="1219.3" cy="217.2"/><circle cx="978.9" cy="195.2"/><circle cx="821.4" cy="226.9"/><circle cx="891.7" cy="196.7"/><circle cx="1023.4" cy="210.2"/><circle cx="960.8" cy="220.9"/><circle cx="810.9" cy="197.5"/><circle cx="946.3" cy="220.8"/><circle cx="816.7" cy="229.8"/><circle cx="947.5" cy="210.2"/><circle cx="1016.6" cy="212.5"/><circle cx="909.3" cy="203.2"/></g><g class="p"><circle cx="1219.3" cy="202.4"/><circle cx="978.9" cy="177.1"/><circle cx="821.4" cy="150.1"/><circle cx="891.7" cy="159.9"/><circle cx="1023.4" cy="204.8"/><circle cx="960.8" cy="148.4"/><circle cx="810.9" cy="115.8"/><circle cx="946.3" cy="201.3"/><circle cx="816.7" cy="141.5"/><circle cx="947.5" cy="189.8"/><circle cx="1016.6" cy="211.2"/><circle cx="909.3" cy="129.6"/></g><g class="o"><circle cx="917.9" cy="196.6"/><circle cx="994.5" cy="218.5"/><circle cx="1113.8" cy="229.5"/><circle cx="816.1" cy="201"/><circle cx="870.6" cy="194.5"/><circle cx="828.8" cy="203.7"/><circle cx="798.5" cy="207.4"/><circle cx="890.1" cy="219.1"/><circle cx="833.1" cy="210.8"/><circle cx="901.9" cy="209.6"/><circle cx="866.3" cy="205.1"/><circle cx="876.3" cy="192.6"/></g><g class="p"><circle cx="917.9" cy="169.2"/><circle cx="994.5" cy="183.6"/><circle cx="1113.8" cy="189.8"/><circle cx="816.1" cy="154.6"/><circle cx="870.6" cy="146.1"/><circle cx="828.8" cy="143.7"/><circle cx="798.5" cy="152.3"/><circle cx="890.1" cy="162"/><circle cx="833.1" cy="148.3"/><circle cx="901.9" cy="156.8"/><circle cx="866.3" cy="158.1"/><circle cx="876.3" cy="133"/></g><g class="o"><circle cx="802.3" cy="222.1"/><circle cx="840.2" cy="210.1"/><circle cx="998.1" cy="208.2"/><circle cx="799.4" cy="201.9"/><circle cx="1092.2" cy="215.3"/><circle cx="1001.1" cy="197"/><circle cx="1127.7" cy="186.2"/><circle cx="944.1" cy="239.7"/><circle cx="832.1" cy="211.3"/><circle cx="1040.5" cy="195.2"/><circle cx="956" cy="207.9"/><circle cx="963.1" cy="223.1"/></g><g class="p"><circle cx="802.3" cy="114.3"/><circle cx="840.2" cy="120.5"/><circle cx="998.1" cy="195.2"/><circle cx="799.4" cy="144.9"/><circle cx="1092.2" cy="199.6"/><circle cx="1001.1" cy="182.6"/><circle cx="1127.7" cy="240"/><circle cx="944.1" cy="126.5"/><circle cx="832.1" cy="174.6"/><circle cx="1040.5" cy="217.1"/><circle cx="956" cy="195.3"/><circle cx="963.1" cy="170.4"/></g><g class="o"><circle cx="959.1" cy="230.2"/><circle cx="907.8" cy="180.4"/><circle cx="913.3" cy="201.5"/><circle cx="965.1" cy="184.6"/><circle cx="910.7" cy="206.2"/><circle cx="943.4" cy="189.4"/><circle cx="867.2" cy="208.9"/><circle cx="847.3" cy="218.2"/><circle cx="902.2" cy="210.1"/><circle cx="1113.3" cy="191.9"/><circle cx="801.8" cy="196.2"/><circle cx="818.2" cy="222.7"/></g><g class="p"><circle cx="959.1" cy="119.7"/><circle cx="907.8" cy="161.9"/><circle cx="913.3" cy="184.4"/><circle cx="965.1" cy="164.4"/><circle cx="910.7" cy="163.4"/><circle cx="943.4" cy="144"/><circle cx="867.2" cy="100.1"/><circle cx="847.3" cy="100.8"/><circle cx="902.2" cy="150.3"/><circle cx="1113.3" cy="209.3"/><circle cx="801.8" cy="110.8"/><circle cx="818.2" cy="175"/></g><g class="o"><circle cx="957.1" cy="206.3"/><circle cx="1116.2" cy="201.2"/><circle cx="1087.9" cy="187.4"/><circle cx="1053.7" cy="197.8"/><circle cx="854.3" cy="219.4"/><circle cx="947.8" cy="227.4"/><circle cx="854.7" cy="225.8"/><circle cx="906.7" cy="219.4"/><circle cx="813.2" cy="224.8"/><circle cx="810.4" cy="218.6"/><circle cx="816.7" cy="199.1"/><circle cx="999.5" cy="224.5"/></g><g class="p"><circle cx="957.1" cy="136.1"/><circle cx="1116.2" cy="193.6"/><circle cx="1087.9" cy="202.6"/><circle cx="1053.7" cy="193"/><circle cx="854.3" cy="143.2"/><circle cx="947.8" cy="145.2"/><circle cx="854.7" cy="180"/><circle cx="906.7" cy="151.7"/><circle cx="813.2" cy="159.9"/><circle cx="810.4" cy="135.4"/><circle cx="816.7" cy="137.5"/><circle cx="999.5" cy="149.3"/></g><g class="o"><circle cx="1016" cy="207.7"/><circle cx="847.6" cy="230.7"/><circle cx="934.4" cy="225.9"/><circle cx="1160.1" cy="179.2"/><circle cx="872.3" cy="220.5"/><circle cx="902" cy="215.5"/><circle cx="888.8" cy="204.1"/><circle cx="1158.2" cy="190.9"/><circle cx="845.8" cy="210.7"/><circle cx="1033.4" cy="198.3"/><circle cx="1122.1" cy="206.6"/><circle cx="845.2" cy="215.2"/></g><g class="p"><circle cx="1016" cy="240.4"/><circle cx="847.6" cy="123.8"/><circle cx="934.4" cy="149.4"/><circle cx="1160.1" cy="194.7"/><circle cx="872.3" cy="162"/><circle cx="902" cy="185.7"/><circle cx="888.8" cy="151.1"/><circle cx="1158.2" cy="228.1"/><circle cx="845.8" cy="130.8"/><circle cx="1033.4" cy="184.9"/><circle cx="1122.1" cy="212.3"/><circle cx="845.2" cy="167.2"/></g><g class="o"><circle cx="899.9" cy="197.8"/><circle cx="805.8" cy="215.5"/><circle cx="818.2" cy="201.4"/><circle cx="1001.8" cy="201.8"/><circle cx="801.2" cy="207.6"/><circle cx="817.3" cy="215.2"/><circle cx="844.7" cy="211.2"/><circle cx="983.1" cy="208.6"/><circle cx="1123.5" cy="173.2"/><circle cx="1213.1" cy="186.7"/><circle cx="961.7" cy="211.8"/><circle cx="837.3" cy="222.2"/></g><g class="p"><circle cx="899.9" cy="144.9"/><circle cx="805.8" cy="144.2"/><circle cx="818.2" cy="117.9"/><circle cx="1001.8" cy="183"/><circle cx="801.2" cy="149.1"/><circle cx="817.3" cy="143.1"/><circle cx="844.7" cy="114.1"/><circle cx="983.1" cy="177.6"/><circle cx="1123.5" cy="232.3"/><circle cx="1213.1" cy="217.5"/><circle cx="961.7" cy="188.6"/><circle cx="837.3" cy="176"/></g><g class="o"><circle cx="1002" cy="201"/><circle cx="936.3" cy="214.5"/><circle cx="921.5" cy="208.1"/><circle cx="868.4" cy="202.7"/><circle cx="1048.8" cy="209.1"/><circle cx="901.2" cy="213.1"/><circle cx="979.1" cy="237.3"/><circle cx="884" cy="227.3"/><circle cx="852" cy="208.2"/><circle cx="925.6" cy="183"/><circle cx="912.1" cy="211.1"/><circle cx="1048.1" cy="198.8"/></g><g class="p"><circle cx="1002" cy="159.5"/><circle cx="936.3" cy="184.3"/><circle cx="921.5" cy="167.4"/><circle cx="868.4" cy="151.1"/><circle cx="1048.8" cy="222.8"/><circle cx="901.2" cy="151.9"/><circle cx="979.1" cy="228.8"/><circle cx="884" cy="117.7"/><circle cx="852" cy="121.8"/><circle cx="925.6" cy="181.5"/><circle cx="912.1" cy="147.7"/><circle cx="1048.1" cy="191.5"/></g><g class="o"><circle cx="1113.3" cy="183.2"/><circle cx="1201.7" cy="180"/><circle cx="1001.4" cy="200.7"/><circle cx="848.3" cy="218.6"/><circle cx="992.8" cy="192.3"/><circle cx="798.2" cy="209.3"/><circle cx="914.8" cy="234.3"/><circle cx="883.7" cy="213.3"/><circle cx="1096.4" cy="198"/><circle cx="1035.7" cy="201.6"/><circle cx="1064.5" cy="182.4"/><circle cx="1103.2" cy="196.9"/></g><g class="p"><circle cx="1113.3" cy="221.3"/><circle cx="1201.7" cy="208.3"/><circle cx="1001.4" cy="184.2"/><circle cx="848.3" cy="212.7"/><circle cx="992.8" cy="196.5"/><circle cx="798.2" cy="138.2"/><circle cx="914.8" cy="136.2"/><circle cx="883.7" cy="136.2"/><circle cx="1096.4" cy="211"/><circle cx="1035.7" cy="180.2"/><circle cx="1064.5" cy="214.2"/><circle cx="1103.2" cy="235"/></g><g class="o"><circle cx="861.3" cy="208.1"/><circle cx="1128.2" cy="207.5"/><circle cx="997.4" cy="188.3"/><circle cx="1016.6" cy="199.5"/><circle cx="1118.5" cy="191.7"/><circle cx="1044.5" cy="185.3"/><circle cx="933.7" cy="206.6"/><circle cx="830.5" cy="200"/><circle cx="986.3" cy="171.3"/><circle cx="813.7" cy="211.5"/><circle cx="963.3" cy="204.4"/><circle cx="835" cy="240.8"/></g><g class="p"><circle cx="861.3" cy="145.6"/><circle cx="1128.2" cy="211.7"/><circle cx="997.4" cy="244"/><circle cx="1016.6" cy="177.1"/><circle cx="1118.5" cy="221.2"/><circle cx="1044.5" cy="209.2"/><circle cx="933.7" cy="126.5"/><circle cx="830.5" cy="166.6"/><circle cx="986.3" cy="171.3"/><circle cx="813.7" cy="118.5"/><circle cx="963.3" cy="210.2"/><circle cx="835" cy="124.9"/></g><g class="o"><circle cx="1051.8" cy="193.7"/><circle cx="856.3" cy="220.4"/><circle cx="804" cy="208.6"/><circle cx="858.3" cy="240.2"/><circle cx="1124" cy="189.5"/><circle cx="819.8" cy="209.4"/><circle cx="892.2" cy="197.9"/><circle cx="1146.8" cy="181.2"/><circle cx="900.4" cy="225.5"/><circle cx="1009.6" cy="196.9"/><circle cx="953.3" cy="225.4"/><circle cx="986" cy="222.3"/></g><g class="p"><circle cx="1051.8" cy="163.9"/><circle cx="856.3" cy="106"/><circle cx="804" cy="127.3"/><circle cx="858.3" cy="181.8"/><circle cx="1124" cy="194.7"/><circle cx="819.8" cy="135.2"/><circle cx="892.2" cy="126"/><circle cx="1146.8" cy="204.5"/><circle cx="900.4" cy="137.7"/><circle cx="1009.6" cy="156"/><circle cx="953.3" cy="177.1"/><circle cx="986" cy="206.5"/></g><g class="o"><circle cx="859.8" cy="219.9"/><circle cx="1213.9" cy="196.9"/><circle cx="888" cy="217.6"/><circle cx="811" cy="217.7"/><circle cx="798.9" cy="209.3"/><circle cx="1018.7" cy="173.9"/><circle cx="836.6" cy="213.2"/><circle cx="907.6" cy="197.4"/><circle cx="806.1" cy="212.1"/><circle cx="978.4" cy="194.6"/><circle cx="797.1" cy="207.2"/><circle cx="890" cy="201.5"/></g><g class="p"><circle cx="859.8" cy="114.5"/><circle cx="1213.9" cy="240.8"/><circle cx="888" cy="152.5"/><circle cx="811" cy="153.9"/><circle cx="798.9" cy="115.8"/><circle cx="1018.7" cy="176.7"/><circle cx="836.6" cy="136.8"/><circle cx="907.6" cy="146.4"/><circle cx="806.1" cy="128.1"/><circle cx="978.4" cy="157.9"/><circle cx="797.1" cy="140.2"/><circle cx="890" cy="110.9"/></g><g class="o"><circle cx="956.6" cy="209.7"/><circle cx="834.7" cy="212.7"/><circle cx="947.2" cy="184.3"/><circle cx="1028.9" cy="208.5"/><circle cx="1075.2" cy="179.8"/><circle cx="1089.4" cy="183.1"/><circle cx="818.2" cy="213.3"/><circle cx="1138.5" cy="209.9"/><circle cx="808.3" cy="215.3"/><circle cx="863.1" cy="194.6"/><circle cx="884.2" cy="214.6"/><circle cx="1040.8" cy="199.4"/></g><g class="p"><circle cx="956.6" cy="125.6"/><circle cx="834.7" cy="162.6"/><circle cx="947.2" cy="170.5"/><circle cx="1028.9" cy="179.7"/><circle cx="1075.2" cy="238.9"/><circle cx="1089.4" cy="214.3"/><circle cx="818.2" cy="122.6"/><circle cx="1138.5" cy="196.9"/><circle cx="808.3" cy="159.5"/><circle cx="863.1" cy="100.6"/><circle cx="884.2" cy="188"/><circle cx="1040.8" cy="198"/></g><g class="o"><circle cx="972.1" cy="234.7"/><circle cx="911.3" cy="213.8"/><circle cx="937.1" cy="184.3"/><circle cx="1037.8" cy="221.3"/><circle cx="798.2" cy="216.1"/><circle cx="802.9" cy="207.4"/><circle cx="1101.2" cy="186.5"/><circle cx="828.2" cy="193.7"/><circle cx="907.1" cy="254"/><circle cx="898.6" cy="215.4"/><circle cx="998.5" cy="184.1"/><circle cx="999.5" cy="187.3"/></g><g class="p"><circle cx="972.1" cy="194.5"/><circle cx="911.3" cy="155.8"/><circle cx="937.1" cy="135.1"/><circle cx="1037.8" cy="205.4"/><circle cx="798.2" cy="132.8"/><circle cx="802.9" cy="129.8"/><circle cx="1101.2" cy="216"/><circle cx="828.2" cy="167.7"/><circle cx="907.1" cy="204"/><circle cx="898.6" cy="121.8"/><circle cx="998.5" cy="171.2"/><circle cx="999.5" cy="213.1"/></g><g class="o"><circle cx="1028.6" cy="208.4"/><circle cx="811.5" cy="215.9"/><circle cx="1140.6" cy="167.9"/><circle cx="1107.5" cy="179.5"/><circle cx="799.2" cy="219.2"/><circle cx="820.3" cy="223.1"/><circle cx="1097.3" cy="178.2"/><circle cx="1188.7" cy="181"/><circle cx="807.8" cy="207"/><circle cx="983.4" cy="227.7"/><circle cx="1181.6" cy="186.1"/><circle cx="1022.1" cy="184.3"/></g><g class="p"><circle cx="1028.6" cy="228.8"/><circle cx="811.5" cy="148.7"/><circle cx="1140.6" cy="232.1"/><circle cx="1107.5" cy="162.8"/><circle cx="799.2" cy="138.8"/><circle cx="820.3" cy="133.3"/><circle cx="1097.3" cy="195.1"/><circle cx="1188.7" cy="202.3"/><circle cx="807.8" cy="153"/><circle cx="983.4" cy="158.5"/><circle cx="1181.6" cy="209.9"/><circle cx="1022.1" cy="187.4"/></g><g class="o"><circle cx="959" cy="225.3"/><circle cx="825.8" cy="209.9"/><circle cx="840.6" cy="213.2"/><circle cx="819.5" cy="217"/><circle cx="1109.8" cy="176.4"/><circle cx="814.3" cy="202.9"/><circle cx="847.9" cy="207.9"/><circle cx="852.2" cy="215.8"/><circle cx="1178.6" cy="195.6"/><circle cx="815.4" cy="186.8"/><circle cx="1052.9" cy="181.2"/><circle cx="937.4" cy="210.5"/></g><g class="p"><circle cx="959" cy="194.5"/><circle cx="825.8" cy="148.3"/><circle cx="840.6" cy="107.5"/><circle cx="819.5" cy="112.4"/><circle cx="1109.8" cy="206.1"/><circle cx="814.3" cy="141.4"/><circle cx="847.9" cy="97.7"/><circle cx="852.2" cy="161.5"/><circle cx="1178.6" cy="210.7"/><circle cx="815.4" cy="118.5"/><circle cx="1052.9" cy="185.3"/><circle cx="937.4" cy="139.3"/></g><g class="o"><circle cx="811.6" cy="216.6"/><circle cx="863.6" cy="213.4"/><circle cx="799" cy="215.9"/><circle cx="1158.5" cy="192.1"/><circle cx="873.6" cy="212.7"/><circle cx="828.3" cy="217.5"/><circle cx="1009.4" cy="189.7"/><circle cx="813.7" cy="207.1"/><circle cx="919" cy="199.5"/><circle cx="860.5" cy="208.6"/><circle cx="978.5" cy="229.5"/><circle cx="1100.4" cy="200.7"/></g><g class="p"><circle cx="811.6" cy="115.2"/><circle cx="863.6" cy="145.2"/><circle cx="799" cy="137.9"/><circle cx="1158.5" cy="220.3"/><circle cx="873.6" cy="147"/><circle cx="828.3" cy="154.6"/><circle cx="1009.4" cy="175.4"/><circle cx="813.7" cy="120.9"/><circle cx="919" cy="147.5"/><circle cx="860.5" cy="127.1"/><circle cx="978.5" cy="176"/><circle cx="1100.4" cy="264"/></g><g class="o"><circle cx="811.7" cy="223.4"/><circle cx="1010.9" cy="191.2"/><circle cx="950.9" cy="225.1"/><circle cx="1006" cy="190.4"/><circle cx="900.3" cy="168.8"/><circle cx="864.5" cy="211"/><circle cx="840" cy="215.5"/><circle cx="863.2" cy="234.2"/><circle cx="799.8" cy="213.5"/><circle cx="1115.7" cy="181.9"/><circle cx="860.5" cy="209.8"/><circle cx="989.5" cy="198.6"/></g><g class="p"><circle cx="811.7" cy="151.6"/><circle cx="1010.9" cy="184.9"/><circle cx="950.9" cy="165.7"/><circle cx="1006" cy="203.2"/><circle cx="900.3" cy="180.2"/><circle cx="864.5" cy="138.3"/><circle cx="840" cy="121.9"/><circle cx="863.2" cy="163.9"/><circle cx="799.8" cy="127.3"/><circle cx="1115.7" cy="205.8"/><circle cx="860.5" cy="122.8"/><circle cx="989.5" cy="165.7"/></g><g class="o"><circle cx="920.6" cy="224.3"/><circle cx="1206.9" cy="175.2"/><circle cx="1066.6" cy="189"/><circle cx="807.9" cy="227.7"/><circle cx="880.5" cy="212.4"/><circle cx="856.7" cy="228.6"/><circle cx="861.2" cy="171.4"/><circle cx="994.5" cy="206.8"/><circle cx="1071.4" cy="200"/><circle cx="817.3" cy="208.2"/><circle cx="823.3" cy="211.4"/><circle cx="959.8" cy="179.9"/></g><g class="p"><circle cx="920.6" cy="138.5"/><circle cx="1206.9" cy="199.5"/><circle cx="1066.6" cy="227"/><circle cx="807.9" cy="147.2"/><circle cx="880.5" cy="154.7"/><circle cx="856.7" cy="129.7"/><circle cx="861.2" cy="120.8"/><circle cx="994.5" cy="196.2"/><circle cx="1071.4" cy="219.8"/><circle cx="817.3" cy="177.2"/><circle cx="823.3" cy="123.3"/><circle cx="959.8" cy="175.2"/></g><g class="o"><circle cx="944.7" cy="199.7"/><circle cx="887" cy="209.9"/><circle cx="806.6" cy="202.8"/><circle cx="834.1" cy="221.3"/><circle cx="868.8" cy="200.7"/><circle cx="803.3" cy="227.7"/><circle cx="796.2" cy="205"/><circle cx="899.5" cy="240.3"/><circle cx="877.7" cy="189.6"/><circle cx="886.1" cy="200.2"/><circle cx="904.4" cy="204.8"/><circle cx="929.7" cy="190.2"/></g><g class="p"><circle cx="944.7" cy="183.2"/><circle cx="887" cy="164.7"/><circle cx="806.6" cy="146.4"/><circle cx="834.1" cy="113"/><circle cx="868.8" cy="175.9"/><circle cx="803.3" cy="162.5"/><circle cx="796.2" cy="116.2"/><circle cx="899.5" cy="173.1"/><circle cx="877.7" cy="129.4"/><circle cx="886.1" cy="191.8"/><circle cx="904.4" cy="154.8"/><circle cx="929.7" cy="138.5"/></g><g class="o"><circle cx="851.7" cy="205.5"/><circle cx="947.2" cy="215.7"/><circle cx="961.2" cy="182.5"/><circle cx="922.8" cy="203.7"/><circle cx="1168" cy="201.3"/><circle cx="832" cy="224.5"/><circle cx="875.3" cy="208.5"/><circle cx="861.2" cy="192.2"/><circle cx="801.1" cy="211.4"/><circle cx="840.3" cy="215.8"/><circle cx="1193.7" cy="202.7"/><circle cx="849.5" cy="216.9"/></g><g class="p"><circle cx="851.7" cy="158.3"/><circle cx="947.2" cy="149.3"/><circle cx="961.2" cy="184.1"/><circle cx="922.8" cy="147.3"/><circle cx="1168" cy="253.2"/><circle cx="832" cy="116.8"/><circle cx="875.3" cy="155.1"/><circle cx="861.2" cy="167.6"/><circle cx="801.1" cy="188.9"/><circle cx="840.3" cy="141.5"/><circle cx="1193.7" cy="217.2"/><circle cx="849.5" cy="139.5"/></g><g class="o"><circle cx="811.1" cy="174.9"/><circle cx="1040.5" cy="189.5"/><circle cx="1079.9" cy="196.4"/><circle cx="836.9" cy="206.3"/><circle cx="984.1" cy="171.6"/><circle cx="891.3" cy="201.6"/><circle cx="895.1" cy="198.5"/><circle cx="889.7" cy="211.2"/><circle cx="1157.8" cy="197.7"/><circle cx="878.3" cy="183.6"/><circle cx="1044.4" cy="183.6"/><circle cx="920.5" cy="234.1"/></g><g class="p"><circle cx="811.1" cy="136"/><circle cx="1040.5" cy="204.6"/><circle cx="1079.9" cy="220.1"/><circle cx="836.9" cy="159.8"/><circle cx="984.1" cy="173.9"/><circle cx="891.3" cy="176.3"/><circle cx="895.1" cy="164.3"/><circle cx="889.7" cy="147.7"/><circle cx="1157.8" cy="236.7"/><circle cx="878.3" cy="175.3"/><circle cx="1044.4" cy="200.6"/><circle cx="920.5" cy="145.7"/></g><g class="o"><circle cx="1069.4" cy="180"/><circle cx="877.8" cy="219.9"/><circle cx="977.8" cy="195.2"/><circle cx="1087.3" cy="199.5"/><circle cx="1073.3" cy="225.8"/><circle cx="833.7" cy="205.7"/><circle cx="931.6" cy="221.6"/><circle cx="1033.5" cy="206.6"/><circle cx="824.8" cy="214.7"/><circle cx="867.8" cy="171.2"/><circle cx="859.5" cy="213.7"/><circle cx="896.2" cy="222.5"/></g><g class="p"><circle cx="1069.4" cy="199.8"/><circle cx="877.8" cy="119.5"/><circle cx="977.8" cy="212.3"/><circle cx="1087.3" cy="229.9"/><circle cx="1073.3" cy="244.9"/><circle cx="833.7" cy="156.5"/><circle cx="931.6" cy="138.5"/><circle cx="1033.5" cy="156.4"/><circle cx="824.8" cy="167.3"/><circle cx="867.8" cy="120.2"/><circle cx="859.5" cy="125.4"/><circle cx="896.2" cy="145"/></g><g class="o"><circle cx="1131.4" cy="200.2"/><circle cx="812" cy="222.7"/><circle cx="952" cy="226.1"/><circle cx="889.2" cy="231.2"/><circle cx="838.8" cy="224"/><circle cx="1037" cy="199.8"/><circle cx="797.7" cy="214"/><circle cx="820.3" cy="206.6"/><circle cx="811" cy="211.7"/><circle cx="967.9" cy="200.8"/><circle cx="887.5" cy="233.2"/><circle cx="880.9" cy="197.2"/></g><g class="p"><circle cx="1131.4" cy="216.4"/><circle cx="812" cy="113.3"/><circle cx="952" cy="165.4"/><circle cx="889.2" cy="146.6"/><circle cx="838.8" cy="134.8"/><circle cx="1037" cy="226.5"/><circle cx="797.7" cy="154.6"/><circle cx="820.3" cy="118"/><circle cx="811" cy="122.6"/><circle cx="967.9" cy="181.9"/><circle cx="887.5" cy="129.4"/><circle cx="880.9" cy="136.9"/></g><g class="o"><circle cx="896.5" cy="213.1"/><circle cx="954.8" cy="202.8"/><circle cx="821.5" cy="207.8"/><circle cx="881.8" cy="217.9"/><circle cx="866.8" cy="212.8"/><circle cx="1185.9" cy="185.7"/><circle cx="796.5" cy="226.3"/><circle cx="799.3" cy="211.2"/><circle cx="837.2" cy="213.1"/><circle cx="948.9" cy="188.9"/><circle cx="843.3" cy="211.7"/><circle cx="1025.9" cy="196.1"/></g><g class="p"><circle cx="896.5" cy="119.9"/><circle cx="954.8" cy="85.7"/><circle cx="821.5" cy="139.8"/><circle cx="881.8" cy="162.9"/><circle cx="866.8" cy="123.6"/><circle cx="1185.9" cy="227.2"/><circle cx="796.5" cy="160.5"/><circle cx="799.3" cy="146.5"/><circle cx="837.2" cy="146.1"/><circle cx="948.9" cy="153.4"/><circle cx="843.3" cy="136.1"/><circle cx="1025.9" cy="200.8"/></g><g class="o"><circle cx="927.7" cy="191.6"/><circle cx="867.4" cy="215"/><circle cx="1040.3" cy="214"/><circle cx="835.9" cy="220.2"/><circle cx="858.5" cy="208.3"/><circle cx="915.8" cy="189.4"/><circle cx="904.5" cy="210.6"/><circle cx="796.2" cy="200.7"/><circle cx="1031.1" cy="181.6"/><circle cx="1073.4" cy="181"/><circle cx="932.3" cy="208.9"/><circle cx="992.2" cy="192.8"/></g><g class="p"><circle cx="927.7" cy="161.8"/><circle cx="867.4" cy="128.9"/><circle cx="1040.3" cy="201.4"/><circle cx="835.9" cy="169"/><circle cx="858.5" cy="97.9"/><circle cx="915.8" cy="119.8"/><circle cx="904.5" cy="147.3"/><circle cx="796.2" cy="101"/><circle cx="1031.1" cy="189.9"/><circle cx="1073.4" cy="208.1"/><circle cx="932.3" cy="158.7"/><circle cx="992.2" cy="248.4"/></g><g class="o"><circle cx="1072.4" cy="198.1"/><circle cx="977.3" cy="207.5"/><circle cx="803.4" cy="213.1"/><circle cx="1142" cy="212"/><circle cx="994.9" cy="179.4"/><circle cx="1130" cy="186.9"/><circle cx="806.1" cy="217"/><circle cx="955.3" cy="213.5"/><circle cx="798.6" cy="216.6"/><circle cx="1108.4" cy="200.6"/><circle cx="1036.8" cy="193.2"/><circle cx="1145.4" cy="189.5"/></g><g class="p"><circle cx="1072.4" cy="167"/><circle cx="977.3" cy="164.4"/><circle cx="803.4" cy="125.9"/><circle cx="1142" cy="228.1"/><circle cx="994.9" cy="200.6"/><circle cx="1130" cy="215.5"/><circle cx="806.1" cy="137.3"/><circle cx="955.3" cy="205.9"/><circle cx="798.6" cy="111.3"/><circle cx="1108.4" cy="209.7"/><circle cx="1036.8" cy="210.3"/><circle cx="1145.4" cy="206.8"/></g><g class="o"><circle cx="913" cy="217.9"/><circle cx="848.8" cy="200.3"/><circle cx="828.4" cy="217.7"/><circle cx="964.7" cy="222.3"/><circle cx="830.4" cy="211.1"/><circle cx="846.6" cy="227.1"/><circle cx="987.8" cy="225.1"/><circle cx="1022.1" cy="193.8"/><circle cx="932" cy="216.6"/><circle cx="808.1" cy="227.2"/><circle cx="941.1" cy="188.9"/><circle cx="850.2" cy="201.3"/></g><g class="p"><circle cx="913" cy="136.9"/><circle cx="848.8" cy="124.7"/><circle cx="828.4" cy="126.9"/><circle cx="964.7" cy="139.8"/><circle cx="830.4" cy="128.7"/><circle cx="846.6" cy="137.2"/><circle cx="987.8" cy="193.7"/><circle cx="1022.1" cy="195.8"/><circle cx="932" cy="151.6"/><circle cx="808.1" cy="138.7"/><circle cx="941.1" cy="131.9"/><circle cx="850.2" cy="130.3"/></g><g class="o"><circle cx="797.5" cy="211.5"/><circle cx="885.2" cy="209.6"/><circle cx="1025" cy="210.4"/><circle cx="797.6" cy="208.1"/><circle cx="975.1" cy="233.5"/><circle cx="812.2" cy="203.5"/><circle cx="881.7" cy="218.5"/><circle cx="849.2" cy="216.4"/><circle cx="859.3" cy="227"/><circle cx="797.9" cy="209.2"/><circle cx="939.4" cy="192.7"/><circle cx="798.2" cy="225.9"/></g><g class="p"><circle cx="797.5" cy="106.9"/><circle cx="885.2" cy="137.8"/><circle cx="1025" cy="189.3"/><circle cx="797.6" cy="131.8"/><circle cx="975.1" cy="176.3"/><circle cx="812.2" cy="113.5"/><circle cx="881.7" cy="182.3"/><circle cx="849.2" cy="105.9"/><circle cx="859.3" cy="118.5"/><circle cx="797.9" cy="138.2"/><circle cx="939.4" cy="144.9"/><circle cx="798.2" cy="134.1"/></g><g class="o"><circle cx="955.5" cy="212.4"/><circle cx="855.5" cy="227.9"/><circle cx="875.4" cy="190.6"/><circle cx="1235.6" cy="191.9"/><circle cx="862.3" cy="225"/><circle cx="910.1" cy="208.5"/><circle cx="1109.5" cy="212.4"/><circle cx="886.7" cy="207.7"/><circle cx="986.5" cy="211.3"/><circle cx="1075" cy="172.6"/><circle cx="1097" cy="209.2"/><circle cx="825.2" cy="226.8"/></g><g class="p"><circle cx="955.5" cy="157.1"/><circle cx="855.5" cy="144.3"/><circle cx="875.4" cy="168.8"/><circle cx="1235.6" cy="224.2"/><circle cx="862.3" cy="113.6"/><circle cx="910.1" cy="130.2"/><circle cx="1109.5" cy="225.6"/><circle cx="886.7" cy="188.4"/><circle cx="986.5" cy="164.6"/><circle cx="1075" cy="231.9"/><circle cx="1097" cy="205"/><circle cx="825.2" cy="120.4"/></g><g class="o"><circle cx="1024.5" cy="213.3"/><circle cx="802.3" cy="217.6"/><circle cx="825.7" cy="204.8"/><circle cx="912.6" cy="199.9"/><circle cx="893.1" cy="206.4"/><circle cx="925" cy="239.1"/><circle cx="1144.7" cy="181.9"/><circle cx="982.6" cy="186.5"/><circle cx="912.6" cy="216.1"/><circle cx="952.4" cy="194.2"/><circle cx="945.1" cy="201.5"/><circle cx="908.2" cy="217.1"/></g><g class="p"><circle cx="1024.5" cy="157.3"/><circle cx="802.3" cy="181.2"/><circle cx="825.7" cy="141.8"/><circle cx="912.6" cy="164.5"/><circle cx="893.1" cy="115.2"/><circle cx="925" cy="183.8"/><circle cx="1144.7" cy="211.2"/><circle cx="982.6" cy="162.5"/><circle cx="912.6" cy="162.5"/><circle cx="952.4" cy="146.8"/><circle cx="945.1" cy="168.6"/><circle cx="908.2" cy="157.1"/></g><g class="o"><circle cx="982.2" cy="178"/><circle cx="905.9" cy="205.7"/><circle cx="987.1" cy="208.7"/><circle cx="883.4" cy="205.2"/><circle cx="880" cy="220.1"/><circle cx="846.3" cy="219.7"/><circle cx="893.1" cy="207.1"/><circle cx="1002.5" cy="222.3"/><circle cx="860.8" cy="205.9"/><circle cx="914.6" cy="210.7"/><circle cx="912.1" cy="189.4"/><circle cx="1022" cy="183.8"/></g><g class="p"><circle cx="982.2" cy="156"/><circle cx="905.9" cy="158.7"/><circle cx="987.1" cy="155.8"/><circle cx="883.4" cy="162.7"/><circle cx="880" cy="146.5"/><circle cx="846.3" cy="195.4"/><circle cx="893.1" cy="139"/><circle cx="1002.5" cy="161.7"/><circle cx="860.8" cy="158.1"/><circle cx="914.6" cy="163.9"/><circle cx="912.1" cy="195.1"/><circle cx="1022" cy="170.8"/></g><g class="o"><circle cx="825.6" cy="212.1"/><circle cx="832.6" cy="203.7"/><circle cx="875.3" cy="200.2"/><circle cx="847.8" cy="225.2"/><circle cx="823.6" cy="215.7"/><circle cx="860.7" cy="216.3"/><circle cx="800.9" cy="212.7"/><circle cx="980.9" cy="188.4"/><circle cx="1144.3" cy="176.3"/><circle cx="825.6" cy="221.3"/><circle cx="800.1" cy="244.5"/><circle cx="897.2" cy="227.1"/></g><g class="p"><circle cx="825.6" cy="181.4"/><circle cx="832.6" cy="113.5"/><circle cx="875.3" cy="153.5"/><circle cx="847.8" cy="147.7"/><circle cx="823.6" cy="148.5"/><circle cx="860.7" cy="133.1"/><circle cx="800.9" cy="156.9"/><circle cx="980.9" cy="221.7"/><circle cx="1144.3" cy="194.1"/><circle cx="825.6" cy="131.8"/><circle cx="800.1" cy="94.5"/><circle cx="897.2" cy="169.7"/></g><g class="o"><circle cx="837.3" cy="209.7"/><circle cx="809.1" cy="217.5"/><circle cx="864.6" cy="206.4"/><circle cx="796.3" cy="226.4"/><circle cx="884.3" cy="206.9"/><circle cx="797.9" cy="220.7"/><circle cx="842.9" cy="218.5"/><circle cx="886.9" cy="210.3"/><circle cx="1048.7" cy="185.6"/><circle cx="1043.3" cy="209"/><circle cx="975.2" cy="213.7"/><circle cx="1065.9" cy="182.1"/></g><g class="p"><circle cx="837.3" cy="110.7"/><circle cx="809.1" cy="131.5"/><circle cx="864.6" cy="131.3"/><circle cx="796.3" cy="112.3"/><circle cx="884.3" cy="181.5"/><circle cx="797.9" cy="119.6"/><circle cx="842.9" cy="118.1"/><circle cx="886.9" cy="181.8"/><circle cx="1048.7" cy="181.9"/><circle cx="1043.3" cy="218.2"/><circle cx="975.2" cy="185"/><circle cx="1065.9" cy="216.2"/></g><g class="o"><circle cx="915" cy="214.8"/><circle cx="848.1" cy="211.9"/><circle cx="909.1" cy="208.3"/><circle cx="912" cy="210.9"/><circle cx="810.2" cy="215.3"/><circle cx="837.3" cy="218.8"/><circle cx="935.7" cy="208.2"/><circle cx="893.5" cy="224.1"/><circle cx="935.1" cy="212.4"/><circle cx="825.5" cy="198.1"/><circle cx="1099" cy="171.4"/><circle cx="980.6" cy="194.7"/></g><g class="p"><circle cx="915" cy="188.2"/><circle cx="848.1" cy="120.3"/><circle cx="909.1" cy="205"/><circle cx="912" cy="106.9"/><circle cx="810.2" cy="119.2"/><circle cx="837.3" cy="123.7"/><circle cx="935.7" cy="109.2"/><circle cx="893.5" cy="145.5"/><circle cx="935.1" cy="214.2"/><circle cx="825.5" cy="148.5"/><circle cx="1099" cy="187.4"/><circle cx="980.6" cy="204.4"/></g><g class="o"><circle cx="868.6" cy="217.2"/><circle cx="799.1" cy="206.7"/><circle cx="945.9" cy="224.4"/><circle cx="1051.3" cy="158.7"/><circle cx="814.9" cy="216.7"/><circle cx="861.2" cy="211.3"/><circle cx="1061.4" cy="186.9"/><circle cx="1122.4" cy="169.1"/><circle cx="1157.5" cy="187.3"/><circle cx="904" cy="206.5"/><circle cx="809.7" cy="220.8"/><circle cx="824.4" cy="217.5"/></g><g class="p"><circle cx="868.6" cy="138.3"/><circle cx="799.1" cy="124"/><circle cx="945.9" cy="181.8"/><circle cx="1051.3" cy="186.2"/><circle cx="814.9" cy="114.9"/><circle cx="861.2" cy="132.5"/><circle cx="1061.4" cy="217.3"/><circle cx="1122.4" cy="245.1"/><circle cx="1157.5" cy="249.2"/><circle cx="904" cy="136.5"/><circle cx="809.7" cy="124.7"/><circle cx="824.4" cy="86.5"/></g><g class="o"><circle cx="1161.2" cy="151.4"/><circle cx="1106.2" cy="177.9"/><circle cx="907.1" cy="204.8"/><circle cx="883" cy="209.9"/><circle cx="955.4" cy="195.7"/><circle cx="1118.9" cy="169"/><circle cx="1223.1" cy="192"/><circle cx="807.8" cy="215.2"/><circle cx="1180.3" cy="206.7"/><circle cx="990.7" cy="205.1"/><circle cx="818.2" cy="223.2"/><circle cx="812.9" cy="206.2"/></g><g class="p"><circle cx="1161.2" cy="186.2"/><circle cx="1106.2" cy="197.9"/><circle cx="907.1" cy="172.7"/><circle cx="883" cy="175"/><circle cx="955.4" cy="161"/><circle cx="1118.9" cy="195.4"/><circle cx="1223.1" cy="190.8"/><circle cx="807.8" cy="143"/><circle cx="1180.3" cy="193.8"/><circle cx="990.7" cy="198.1"/><circle cx="818.2" cy="131.1"/><circle cx="812.9" cy="134.4"/></g><g class="o"><circle cx="924.1" cy="195.5"/><circle cx="798" cy="204.8"/><circle cx="799.1" cy="207.8"/><circle cx="834" cy="216.8"/><circle cx="1162.9" cy="202.5"/><circle cx="1113.5" cy="186.5"/><circle cx="1097.7" cy="168"/><circle cx="1097" cy="173.2"/><circle cx="847.2" cy="203.2"/><circle cx="807.5" cy="219.1"/><circle cx="909.6" cy="173.9"/><circle cx="908.1" cy="202.4"/></g><g class="p"><circle cx="924.1" cy="158.7"/><circle cx="798" cy="132.4"/><circle cx="799.1" cy="153.1"/><circle cx="834" cy="132.1"/><circle cx="1162.9" cy="210.5"/><circle cx="1113.5" cy="218"/><circle cx="1097.7" cy="212.6"/><circle cx="1097" cy="209"/><circle cx="847.2" cy="107.1"/><circle cx="807.5" cy="123.5"/><circle cx="909.6" cy="150.8"/><circle cx="908.1" cy="107.4"/></g><g class="o"><circle cx="802.6" cy="210"/><circle cx="1082.6" cy="185.8"/><circle cx="1076.4" cy="178.5"/><circle cx="945.6" cy="203.9"/><circle cx="943.1" cy="190.6"/><circle cx="906.6" cy="215.9"/><circle cx="832.8" cy="208.7"/><circle cx="838.6" cy="200.4"/><circle cx="876.4" cy="204.9"/><circle cx="1128.5" cy="186.6"/><circle cx="897" cy="223.9"/><circle cx="1128.7" cy="193.6"/></g><g class="p"><circle cx="802.6" cy="117.5"/><circle cx="1082.6" cy="211.9"/><circle cx="1076.4" cy="184.2"/><circle cx="945.6" cy="198.2"/><circle cx="943.1" cy="167.5"/><circle cx="906.6" cy="122.9"/><circle cx="832.8" cy="155"/><circle cx="838.6" cy="160.5"/><circle cx="876.4" cy="156.9"/><circle cx="1128.5" cy="220"/><circle cx="897" cy="117.5"/><circle cx="1128.7" cy="203.4"/></g><g class="o"><circle cx="1052.7" cy="199"/><circle cx="1202.7" cy="181.1"/><circle cx="900.8" cy="219.2"/><circle cx="1159.8" cy="168.4"/><circle cx="1163.1" cy="198.4"/><circle cx="903.5" cy="208.9"/><circle cx="845.8" cy="211.6"/><circle cx="1070.5" cy="176.8"/><circle cx="808.6" cy="204.2"/><circle cx="854.6" cy="211.4"/><circle cx="1002.2" cy="196.7"/><circle cx="937.4" cy="209.8"/></g><g class="p"><circle cx="1052.7" cy="195.8"/><circle cx="1202.7" cy="192"/><circle cx="900.8" cy="161"/><circle cx="1159.8" cy="236.1"/><circle cx="1163.1" cy="240.7"/><circle cx="903.5" cy="173.5"/><circle cx="845.8" cy="174.7"/><circle cx="1070.5" cy="221.2"/><circle cx="808.6" cy="132.3"/><circle cx="854.6" cy="152.7"/><circle cx="1002.2" cy="227.3"/><circle cx="937.4" cy="175.6"/></g><g class="o"><circle cx="991.9" cy="188.1"/><circle cx="952.4" cy="195.7"/><circle cx="836.1" cy="210.2"/><circle cx="993.5" cy="235.8"/><circle cx="868.7" cy="214.9"/><circle cx="1065" cy="192.7"/><circle cx="944.8" cy="218.6"/><circle cx="799.4" cy="219.6"/><circle cx="897.9" cy="200.9"/><circle cx="866.3" cy="220.9"/><circle cx="1178.3" cy="180.6"/><circle cx="884.8" cy="210.2"/></g><g class="p"><circle cx="991.9" cy="206.5"/><circle cx="952.4" cy="149.9"/><circle cx="836.1" cy="183.1"/><circle cx="993.5" cy="183.7"/><circle cx="868.7" cy="152.4"/><circle cx="1065" cy="183"/><circle cx="944.8" cy="198.4"/><circle cx="799.4" cy="131.4"/><circle cx="897.9" cy="170.8"/><circle cx="866.3" cy="130.7"/><circle cx="1178.3" cy="221.9"/><circle cx="884.8" cy="135.8"/></g><g class="o"><circle cx="914.3" cy="200"/><circle cx="889.2" cy="241.5"/><circle cx="1004.9" cy="190.2"/><circle cx="843.3" cy="218.6"/><circle cx="1042.9" cy="186.2"/><circle cx="849.7" cy="199.5"/><circle cx="799.9" cy="224.2"/><circle cx="857.8" cy="190"/><circle cx="944.7" cy="198.3"/><circle cx="797.3" cy="207.9"/><circle cx="951.6" cy="231.7"/><circle cx="894.9" cy="198.8"/></g><g class="p"><circle cx="914.3" cy="182.8"/><circle cx="889.2" cy="167"/><circle cx="1004.9" cy="143.7"/><circle cx="843.3" cy="120.1"/><circle cx="1042.9" cy="197.1"/><circle cx="849.7" cy="153.6"/><circle cx="799.9" cy="151.9"/><circle cx="857.8" cy="111.4"/><circle cx="944.7" cy="120.1"/><circle cx="797.3" cy="118.7"/><circle cx="951.6" cy="160.4"/><circle cx="894.9" cy="127.7"/></g><g class="o"><circle cx="1191.2" cy="187.8"/><circle cx="834.9" cy="204.8"/><circle cx="980" cy="176.4"/><circle cx="891.6" cy="202.5"/><circle cx="826.9" cy="207.2"/><circle cx="876.7" cy="208.6"/><circle cx="804.1" cy="202.8"/><circle cx="1082.7" cy="192.1"/><circle cx="975.7" cy="173.2"/><circle cx="873.7" cy="205.6"/><circle cx="1216.1" cy="166.4"/><circle cx="805.1" cy="223.1"/></g><g class="p"><circle cx="1191.2" cy="224.2"/><circle cx="834.9" cy="150.8"/><circle cx="980" cy="201.3"/><circle cx="891.6" cy="176.8"/><circle cx="826.9" cy="128.2"/><circle cx="876.7" cy="153.5"/><circle cx="804.1" cy="151.3"/><circle cx="1082.7" cy="211"/><circle cx="975.7" cy="145.8"/><circle cx="873.7" cy="117.4"/><circle cx="1216.1" cy="241.6"/><circle cx="805.1" cy="128.1"/></g><g class="o"><circle cx="905.3" cy="208.2"/><circle cx="916.4" cy="219.7"/><circle cx="1047.5" cy="201.1"/><circle cx="822.2" cy="207.4"/><circle cx="879.5" cy="210.1"/><circle cx="886.6" cy="206.6"/><circle cx="1040.5" cy="236.2"/><circle cx="815.3" cy="210.9"/><circle cx="797.4" cy="225.8"/><circle cx="937.5" cy="208.7"/><circle cx="928.9" cy="194.5"/><circle cx="930.7" cy="195.3"/></g><g class="p"><circle cx="905.3" cy="119.3"/><circle cx="916.4" cy="155.5"/><circle cx="1047.5" cy="191.7"/><circle cx="822.2" cy="132.2"/><circle cx="879.5" cy="154.4"/><circle cx="886.6" cy="180.7"/><circle cx="1040.5" cy="233.4"/><circle cx="815.3" cy="127.2"/><circle cx="797.4" cy="151.4"/><circle cx="937.5" cy="158"/><circle cx="928.9" cy="157.9"/><circle cx="930.7" cy="114.4"/></g><g class="o"><circle cx="847.2" cy="207.7"/><circle cx="927.8" cy="206.9"/><circle cx="797.4" cy="213.2"/><circle cx="902.1" cy="232.7"/><circle cx="1098.1" cy="178.2"/><circle cx="939.7" cy="193.6"/><circle cx="1062.4" cy="173.6"/><circle cx="1028" cy="210.1"/><circle cx="925.3" cy="213.5"/><circle cx="938.8" cy="240.3"/><circle cx="1030.3" cy="184.3"/><circle cx="866.9" cy="216.7"/></g><g class="p"><circle cx="847.2" cy="128.1"/><circle cx="927.8" cy="179.1"/><circle cx="797.4" cy="136.6"/><circle cx="902.1" cy="163.1"/><circle cx="1098.1" cy="185.9"/><circle cx="939.7" cy="158.6"/><circle cx="1062.4" cy="228.2"/><circle cx="1028" cy="238"/><circle cx="925.3" cy="220.9"/><circle cx="938.8" cy="155.7"/><circle cx="1030.3" cy="190.5"/><circle cx="866.9" cy="183.8"/></g><g class="o"><circle cx="918.7" cy="216.3"/><circle cx="1056.9" cy="192.6"/><circle cx="999.3" cy="201.1"/><circle cx="879.9" cy="214.7"/><circle cx="907.3" cy="214.2"/><circle cx="1195.7" cy="197.4"/><circle cx="868.8" cy="185.9"/><circle cx="997" cy="190"/><circle cx="890.7" cy="200.5"/><circle cx="905.4" cy="255.8"/><circle cx="1059.1" cy="185.6"/><circle cx="1137.4" cy="174.7"/></g><g class="p"><circle cx="918.7" cy="114"/><circle cx="1056.9" cy="189.1"/><circle cx="999.3" cy="215.1"/><circle cx="879.9" cy="178"/><circle cx="907.3" cy="167.3"/><circle cx="1195.7" cy="213.7"/><circle cx="868.8" cy="200.4"/><circle cx="997" cy="207.7"/><circle cx="890.7" cy="172.2"/><circle cx="905.4" cy="190.9"/><circle cx="1059.1" cy="167.9"/><circle cx="1137.4" cy="186.4"/></g><g class="o"><circle cx="1035.5" cy="203.6"/><circle cx="919.6" cy="210.3"/><circle cx="940.8" cy="215.1"/><circle cx="876.1" cy="203.8"/><circle cx="1143.6" cy="169.5"/><circle cx="806.6" cy="221.7"/><circle cx="847.3" cy="226.5"/><circle cx="1052.6" cy="202.7"/><circle cx="971.2" cy="212.5"/><circle cx="891.9" cy="218.7"/><circle cx="965.5" cy="226.6"/><circle cx="1136.1" cy="181.7"/></g><g class="p"><circle cx="1035.5" cy="241.8"/><circle cx="919.6" cy="127.2"/><circle cx="940.8" cy="151.1"/><circle cx="876.1" cy="148.7"/><circle cx="1143.6" cy="226.5"/><circle cx="806.6" cy="144.1"/><circle cx="847.3" cy="117.6"/><circle cx="1052.6" cy="220.3"/><circle cx="971.2" cy="178"/><circle cx="891.9" cy="141.6"/><circle cx="965.5" cy="151.2"/><circle cx="1136.1" cy="232.9"/></g><g class="o"><circle cx="913" cy="225.9"/><circle cx="823.9" cy="230.5"/><circle cx="931.9" cy="225.6"/><circle cx="812.7" cy="199.2"/><circle cx="878.1" cy="193.7"/><circle cx="879.9" cy="211"/><circle cx="807.4" cy="212"/><circle cx="805.6" cy="217.6"/><circle cx="975" cy="202.8"/><circle cx="797" cy="221.4"/><circle cx="1011.4" cy="191.2"/><circle cx="1069.4" cy="178.3"/></g><g class="p"><circle cx="913" cy="137.5"/><circle cx="823.9" cy="117.4"/><circle cx="931.9" cy="164.8"/><circle cx="812.7" cy="130.8"/><circle cx="878.1" cy="221.5"/><circle cx="879.9" cy="162.4"/><circle cx="807.4" cy="106.9"/><circle cx="805.6" cy="123.4"/><circle cx="975" cy="198.4"/><circle cx="797" cy="111"/><circle cx="1011.4" cy="213.6"/><circle cx="1069.4" cy="250.9"/></g><g class="o"><circle cx="940.2" cy="191.8"/><circle cx="1051.1" cy="186.5"/><circle cx="859.3" cy="218.9"/><circle cx="796.9" cy="219.8"/><circle cx="959.6" cy="216.1"/><circle cx="842.4" cy="201.1"/><circle cx="822.5" cy="215.4"/><circle cx="861.4" cy="200.7"/><circle cx="812.8" cy="202.1"/><circle cx="1048.3" cy="212.7"/><circle cx="911.5" cy="232.4"/><circle cx="812.8" cy="228.7"/></g><g class="p"><circle cx="940.2" cy="155.7"/><circle cx="1051.1" cy="246.2"/><circle cx="859.3" cy="129.6"/><circle cx="796.9" cy="130"/><circle cx="959.6" cy="173.7"/><circle cx="842.4" cy="177.1"/><circle cx="822.5" cy="160.2"/><circle cx="861.4" cy="129.1"/><circle cx="812.8" cy="154.7"/><circle cx="1048.3" cy="237.4"/><circle cx="911.5" cy="130"/><circle cx="812.8" cy="141.7"/></g><g class="o"><circle cx="1170.1" cy="170.7"/><circle cx="822.8" cy="211.7"/><circle cx="835.3" cy="217.6"/><circle cx="887.8" cy="198.6"/><circle cx="830.8" cy="212.4"/><circle cx="1058" cy="196.1"/><circle cx="986.2" cy="182.5"/><circle cx="1083.5" cy="175.4"/><circle cx="1072.5" cy="191.8"/><circle cx="802.3" cy="199.4"/><circle cx="915.8" cy="205.6"/><circle cx="1008" cy="218.8"/></g><g class="p"><circle cx="1170.1" cy="199.1"/><circle cx="822.8" cy="153.4"/><circle cx="835.3" cy="136.6"/><circle cx="887.8" cy="144.7"/><circle cx="830.8" cy="142.6"/><circle cx="1058" cy="222.5"/><circle cx="986.2" cy="142.5"/><circle cx="1083.5" cy="205.3"/><circle cx="1072.5" cy="235.7"/><circle cx="802.3" cy="159.8"/><circle cx="915.8" cy="195.1"/><circle cx="1008" cy="190.1"/></g><g class="o"><circle cx="888.7" cy="191.1"/><circle cx="814.3" cy="207"/><circle cx="944" cy="200.5"/><circle cx="954.3" cy="203.3"/><circle cx="842.8" cy="219.2"/><circle cx="1101.8" cy="195.8"/><circle cx="805.2" cy="205.5"/><circle cx="1007.7" cy="191.6"/><circle cx="1104.2" cy="183.5"/><circle cx="937.6" cy="221.5"/><circle cx="797.6" cy="208.5"/><circle cx="860.6" cy="201.6"/></g><g class="p"><circle cx="888.7" cy="147.4"/><circle cx="814.3" cy="131.9"/><circle cx="944" cy="191.1"/><circle cx="954.3" cy="164.4"/><circle cx="842.8" cy="169.2"/><circle cx="1101.8" cy="181.4"/><circle cx="805.2" cy="104.5"/><circle cx="1007.7" cy="187.5"/><circle cx="1104.2" cy="186.3"/><circle cx="937.6" cy="165.5"/><circle cx="797.6" cy="119.7"/><circle cx="860.6" cy="160.1"/></g><g class="o"><circle cx="1066.9" cy="183.2"/><circle cx="1138.9" cy="154"/><circle cx="1155.2" cy="186.2"/><circle cx="1144.9" cy="191.4"/><circle cx="971.3" cy="195"/><circle cx="873.6" cy="195.7"/><circle cx="1112.8" cy="210"/><circle cx="831.3" cy="202.6"/><circle cx="997.6" cy="198.1"/><circle cx="1034.2" cy="218.5"/><circle cx="807.8" cy="225.5"/><circle cx="917.1" cy="204.3"/></g><g class="p"><circle cx="1066.9" cy="205.9"/><circle cx="1138.9" cy="214.7"/><circle cx="1155.2" cy="224.2"/><circle cx="1144.9" cy="205.6"/><circle cx="971.3" cy="185.3"/><circle cx="873.6" cy="152.7"/><circle cx="1112.8" cy="234.4"/><circle cx="831.3" cy="142.9"/><circle cx="997.6" cy="146.9"/><circle cx="1034.2" cy="189"/><circle cx="807.8" cy="158.5"/><circle cx="917.1" cy="131.1"/></g><g class="o"><circle cx="841.3" cy="224.7"/><circle cx="988.3" cy="183.5"/><circle cx="857.7" cy="214.7"/><circle cx="1103.2" cy="174.8"/><circle cx="918.2" cy="202.4"/><circle cx="976.6" cy="209.2"/><circle cx="820.1" cy="197.2"/><circle cx="797.1" cy="221.8"/><circle cx="906.2" cy="214.7"/><circle cx="1088.3" cy="200.4"/><circle cx="904.7" cy="201.4"/><circle cx="814.6" cy="213.1"/></g><g class="p"><circle cx="841.3" cy="162.2"/><circle cx="988.3" cy="165.1"/><circle cx="857.7" cy="153.3"/><circle cx="1103.2" cy="227.2"/><circle cx="918.2" cy="149.5"/><circle cx="976.6" cy="149.6"/><circle cx="820.1" cy="121.3"/><circle cx="797.1" cy="149.7"/><circle cx="906.2" cy="187.4"/><circle cx="1088.3" cy="195.9"/><circle cx="904.7" cy="190.7"/><circle cx="814.6" cy="112.2"/></g><g class="o"><circle cx="1072.9" cy="195.8"/><circle cx="1077" cy="170.1"/><circle cx="1174.9" cy="176.8"/><circle cx="948.9" cy="219.2"/><circle cx="941.6" cy="201.5"/><circle cx="910" cy="207.4"/><circle cx="1151.1" cy="181.7"/><circle cx="899.9" cy="210.1"/><circle cx="927.2" cy="219"/><circle cx="879.3" cy="213.7"/><circle cx="872.3" cy="208"/><circle cx="853.9" cy="214.2"/></g><g class="p"><circle cx="1072.9" cy="220.5"/><circle cx="1077" cy="214.1"/><circle cx="1174.9" cy="212.8"/><circle cx="948.9" cy="188.1"/><circle cx="941.6" cy="149.4"/><circle cx="910" cy="137.8"/><circle cx="1151.1" cy="223.7"/><circle cx="899.9" cy="170.5"/><circle cx="927.2" cy="164.2"/><circle cx="879.3" cy="122.9"/><circle cx="872.3" cy="130.8"/><circle cx="853.9" cy="88.8"/></g><g class="o"><circle cx="1060.9" cy="191.7"/><circle cx="992.9" cy="216.6"/><circle cx="836.6" cy="210.8"/><circle cx="805.3" cy="218.9"/><circle cx="1042.5" cy="201.2"/><circle cx="853.5" cy="212.8"/><circle cx="910.8" cy="218.2"/><circle cx="802.3" cy="221.4"/><circle cx="1055.5" cy="185.9"/><circle cx="804.3" cy="229.6"/><circle cx="838.7" cy="209.6"/><circle cx="943.2" cy="202.4"/></g><g class="p"><circle cx="1060.9" cy="175.6"/><circle cx="992.9" cy="156.7"/><circle cx="836.6" cy="145"/><circle cx="805.3" cy="126.9"/><circle cx="1042.5" cy="196.2"/><circle cx="853.5" cy="165.9"/><circle cx="910.8" cy="176.4"/><circle cx="802.3" cy="123.9"/><circle cx="1055.5" cy="234.2"/><circle cx="804.3" cy="97.4"/><circle cx="838.7" cy="118.4"/><circle cx="943.2" cy="181"/></g><g class="o"><circle cx="1179.2" cy="190.8"/><circle cx="1040.7" cy="211.2"/><circle cx="815.4" cy="202.5"/><circle cx="931.3" cy="207.8"/><circle cx="910.7" cy="224.2"/><circle cx="819.5" cy="205.5"/><circle cx="953.8" cy="202.7"/><circle cx="919.7" cy="210.6"/><circle cx="1130.1" cy="174.7"/><circle cx="857.3" cy="154.5"/><circle cx="841.4" cy="195.8"/><circle cx="973.5" cy="202.8"/></g><g class="p"><circle cx="1179.2" cy="260"/><circle cx="1040.7" cy="178.4"/><circle cx="815.4" cy="120.6"/><circle cx="931.3" cy="184.8"/><circle cx="910.7" cy="112.5"/><circle cx="819.5" cy="147.3"/><circle cx="953.8" cy="158.4"/><circle cx="919.7" cy="151"/><circle cx="1130.1" cy="219.5"/><circle cx="857.3" cy="163.7"/><circle cx="841.4" cy="127"/><circle cx="973.5" cy="153.1"/></g><g class="o"><circle cx="1016.2" cy="193.8"/><circle cx="855.7" cy="207.2"/><circle cx="830.4" cy="205.1"/><circle cx="894.1" cy="198.2"/><circle cx="909.1" cy="189.2"/><circle cx="1086.1" cy="173.2"/><circle cx="891.3" cy="224.6"/><circle cx="861.8" cy="212.7"/><circle cx="847.4" cy="211.6"/><circle cx="893.7" cy="204.9"/><circle cx="821.8" cy="224.5"/><circle cx="798.5" cy="205.5"/></g><g class="p"><circle cx="1016.2" cy="217.5"/><circle cx="855.7" cy="121.2"/><circle cx="830.4" cy="132.1"/><circle cx="894.1" cy="184.2"/><circle cx="909.1" cy="137.2"/><circle cx="1086.1" cy="201.8"/><circle cx="891.3" cy="162.4"/><circle cx="861.8" cy="168.8"/><circle cx="847.4" cy="180.5"/><circle cx="893.7" cy="148.8"/><circle cx="821.8" cy="120"/><circle cx="798.5" cy="137.3"/></g><g class="o"><circle cx="919.8" cy="199.2"/><circle cx="841.7" cy="224.8"/><circle cx="853.1" cy="209.3"/><circle cx="802" cy="227.3"/><circle cx="850.3" cy="208.5"/><circle cx="822.5" cy="209.7"/><circle cx="1154.5" cy="174.4"/><circle cx="1027.7" cy="251.8"/><circle cx="1085.7" cy="189.6"/><circle cx="1151.4" cy="203"/><circle cx="1170.2" cy="173.8"/><circle cx="822.3" cy="196.6"/></g><g class="p"><circle cx="919.8" cy="159.9"/><circle cx="841.7" cy="167.9"/><circle cx="853.1" cy="100.5"/><circle cx="802" cy="151.5"/><circle cx="850.3" cy="130.3"/><circle cx="822.5" cy="109.5"/><circle cx="1154.5" cy="231.3"/><circle cx="1027.7" cy="156.6"/><circle cx="1085.7" cy="201.1"/><circle cx="1151.4" cy="201.4"/><circle cx="1170.2" cy="192.2"/><circle cx="822.3" cy="150"/></g><g class="o"><circle cx="965.9" cy="196.3"/><circle cx="828.3" cy="206.8"/><circle cx="1179.3" cy="206.5"/><circle cx="1155.8" cy="164.9"/><circle cx="1061.2" cy="166.7"/><circle cx="808.8" cy="232.4"/><circle cx="916.8" cy="208.9"/><circle cx="941" cy="212.4"/><circle cx="945.5" cy="213"/><circle cx="804.3" cy="211.4"/><circle cx="1085.2" cy="149"/><circle cx="985.5" cy="222.5"/></g><g class="p"><circle cx="965.9" cy="162.6"/><circle cx="828.3" cy="121.5"/><circle cx="1179.3" cy="238.3"/><circle cx="1155.8" cy="169.1"/><circle cx="1061.2" cy="198.1"/><circle cx="808.8" cy="161"/><circle cx="916.8" cy="131.6"/><circle cx="941" cy="160.5"/><circle cx="945.5" cy="142.8"/><circle cx="804.3" cy="126.3"/><circle cx="1085.2" cy="208.9"/><circle cx="985.5" cy="194.8"/></g><g class="o"><circle cx="949.6" cy="205.6"/><circle cx="797.1" cy="221.8"/><circle cx="814.2" cy="215.4"/><circle cx="1200.9" cy="225.9"/><circle cx="1120.8" cy="192.7"/><circle cx="1010.4" cy="174.7"/><circle cx="825.7" cy="209.8"/><circle cx="847.5" cy="217.4"/><circle cx="812.4" cy="218.5"/><circle cx="948" cy="195.2"/><circle cx="803.1" cy="210.1"/><circle cx="992.6" cy="200.8"/></g><g class="p"><circle cx="949.6" cy="168"/><circle cx="797.1" cy="112.4"/><circle cx="814.2" cy="141.1"/><circle cx="1200.9" cy="197.8"/><circle cx="1120.8" cy="226.4"/><circle cx="1010.4" cy="190.8"/><circle cx="825.7" cy="142.7"/><circle cx="847.5" cy="102.4"/><circle cx="812.4" cy="113"/><circle cx="948" cy="165.2"/><circle cx="803.1" cy="131.5"/><circle cx="992.6" cy="145.7"/></g><g class="o"><circle cx="1068" cy="198.7"/><circle cx="866.7" cy="207.7"/><circle cx="814.1" cy="214.6"/><circle cx="799.9" cy="204.5"/><circle cx="871.7" cy="210.6"/><circle cx="816.8" cy="195"/><circle cx="826" cy="223.6"/><circle cx="844.4" cy="220.3"/><circle cx="814.2" cy="218.5"/><circle cx="865.5" cy="214.4"/><circle cx="944.6" cy="211.2"/><circle cx="798.2" cy="201.2"/></g><g class="p"><circle cx="1068" cy="189.4"/><circle cx="866.7" cy="94.2"/><circle cx="814.1" cy="141.7"/><circle cx="799.9" cy="156.4"/><circle cx="871.7" cy="158"/><circle cx="816.8" cy="127.7"/><circle cx="826" cy="148.3"/><circle cx="844.4" cy="146.1"/><circle cx="814.2" cy="143.9"/><circle cx="865.5" cy="119.4"/><circle cx="944.6" cy="193.2"/><circle cx="798.2" cy="164.1"/></g><g class="o"><circle cx="823.6" cy="216"/><circle cx="975.6" cy="182.9"/><circle cx="1043.2" cy="197.9"/><circle cx="895.7" cy="226.9"/><circle cx="1001.8" cy="183"/><circle cx="1180.9" cy="195.3"/><circle cx="799.2" cy="218.2"/><circle cx="872.5" cy="219.1"/><circle cx="877.3" cy="220.2"/><circle cx="1020" cy="181.3"/><circle cx="1035.7" cy="202.5"/><circle cx="926.4" cy="214.5"/></g><g class="p"><circle cx="823.6" cy="153.7"/><circle cx="975.6" cy="205.2"/><circle cx="1043.2" cy="227.8"/><circle cx="895.7" cy="180.2"/><circle cx="1001.8" cy="163"/><circle cx="1180.9" cy="199.7"/><circle cx="799.2" cy="108"/><circle cx="872.5" cy="124.9"/><circle cx="877.3" cy="182"/><circle cx="1020" cy="219.4"/><circle cx="1035.7" cy="189.9"/><circle cx="926.4" cy="183.8"/></g><g class="o"><circle cx="955.8" cy="207.2"/><circle cx="846.9" cy="198.4"/><circle cx="867.1" cy="215.2"/><circle cx="995" cy="183.8"/><circle cx="957.4" cy="198.1"/><circle cx="1146.4" cy="170.6"/><circle cx="947.8" cy="200.8"/><circle cx="1053.6" cy="194.6"/><circle cx="935.6" cy="213.4"/><circle cx="866.3" cy="197.1"/><circle cx="868" cy="199.2"/><circle cx="1086.6" cy="182.6"/></g><g class="p"><circle cx="955.8" cy="220.8"/><circle cx="846.9" cy="116.2"/><circle cx="867.1" cy="149.6"/><circle cx="995" cy="189.2"/><circle cx="957.4" cy="194.1"/><circle cx="1146.4" cy="240.2"/><circle cx="947.8" cy="135.6"/><circle cx="1053.6" cy="204.5"/><circle cx="935.6" cy="163"/><circle cx="866.3" cy="211.9"/><circle cx="868" cy="140"/><circle cx="1086.6" cy="181.3"/></g><g class="o"><circle cx="816.7" cy="181.7"/><circle cx="1064.1" cy="187.3"/><circle cx="910.3" cy="206.5"/><circle cx="857.5" cy="203.6"/><circle cx="1127.5" cy="184.8"/><circle cx="931.8" cy="219.3"/><circle cx="915.4" cy="224.4"/><circle cx="967.6" cy="212.3"/><circle cx="950.5" cy="214.7"/><circle cx="1163.3" cy="163"/><circle cx="1071.8" cy="217.2"/><circle cx="909.7" cy="207.5"/></g><g class="p"><circle cx="816.7" cy="144.4"/><circle cx="1064.1" cy="211.1"/><circle cx="910.3" cy="173.6"/><circle cx="857.5" cy="142.1"/><circle cx="1127.5" cy="210"/><circle cx="931.8" cy="130"/><circle cx="915.4" cy="160.4"/><circle cx="967.6" cy="189"/><circle cx="950.5" cy="217"/><circle cx="1163.3" cy="207"/><circle cx="1071.8" cy="193.1"/><circle cx="909.7" cy="184.5"/></g><g class="o"><circle cx="1000.6" cy="194.2"/><circle cx="1074.9" cy="174.8"/><circle cx="1129.9" cy="198.2"/><circle cx="960.8" cy="216.5"/><circle cx="805.7" cy="221.2"/><circle cx="835.9" cy="219.6"/><circle cx="847.3" cy="203.3"/><circle cx="952.8" cy="196.3"/><circle cx="1033.3" cy="190.1"/><circle cx="800.5" cy="197.1"/><circle cx="837.9" cy="194.9"/><circle cx="1152.6" cy="164.2"/></g><g class="p"><circle cx="1000.6" cy="191.6"/><circle cx="1074.9" cy="217.4"/><circle cx="1129.9" cy="224.3"/><circle cx="960.8" cy="193.2"/><circle cx="805.7" cy="95.2"/><circle cx="835.9" cy="138.4"/><circle cx="847.3" cy="149.3"/><circle cx="952.8" cy="148.6"/><circle cx="1033.3" cy="203.1"/><circle cx="800.5" cy="137"/><circle cx="837.9" cy="85"/><circle cx="1152.6" cy="215.4"/></g><g class="o"><circle cx="1022.7" cy="193.5"/><circle cx="946.8" cy="209.2"/><circle cx="810.4" cy="217.3"/><circle cx="960.2" cy="215.2"/><circle cx="820.6" cy="200"/><circle cx="891.4" cy="226.5"/><circle cx="1105.1" cy="202.9"/><circle cx="799.2" cy="208.3"/><circle cx="849" cy="207.7"/><circle cx="1110" cy="173.9"/><circle cx="905.2" cy="179.4"/><circle cx="1060.4" cy="197.8"/></g><g class="p"><circle cx="1022.7" cy="158.8"/><circle cx="946.8" cy="148.4"/><circle cx="810.4" cy="143.1"/><circle cx="960.2" cy="174.6"/><circle cx="820.6" cy="110.3"/><circle cx="891.4" cy="113.8"/><circle cx="1105.1" cy="246.4"/><circle cx="799.2" cy="147.8"/><circle cx="849" cy="116.6"/><circle cx="1110" cy="221.1"/><circle cx="905.2" cy="167.8"/><circle cx="1060.4" cy="191.1"/></g><g class="o"><circle cx="979" cy="207.7"/><circle cx="1097.3" cy="169.1"/><circle cx="803" cy="200.3"/><circle cx="903.4" cy="201"/><circle cx="815" cy="203.8"/><circle cx="1020.8" cy="198.6"/><circle cx="869.5" cy="221.2"/><circle cx="995.8" cy="207.8"/><circle cx="909.6" cy="212.6"/><circle cx="950" cy="196.6"/><circle cx="1040.2" cy="189.4"/><circle cx="867.5" cy="214.7"/></g><g class="p"><circle cx="979" cy="174.4"/><circle cx="1097.3" cy="216.6"/><circle cx="803" cy="123.3"/><circle cx="903.4" cy="171.6"/><circle cx="815" cy="128"/><circle cx="1020.8" cy="183.2"/><circle cx="869.5" cy="154.8"/><circle cx="995.8" cy="196.5"/><circle cx="909.6" cy="146.4"/><circle cx="950" cy="219.5"/><circle cx="1040.2" cy="218.2"/><circle cx="867.5" cy="126.1"/></g><g class="o"><circle cx="915.7" cy="202.5"/><circle cx="799.2" cy="206.4"/><circle cx="896.3" cy="217.1"/><circle cx="1019.8" cy="193.2"/><circle cx="990.2" cy="212.4"/><circle cx="806" cy="220.7"/><circle cx="1136" cy="197"/><circle cx="1121.3" cy="190.5"/><circle cx="1013.4" cy="191.8"/><circle cx="935.2" cy="220.5"/><circle cx="896.5" cy="211.4"/><circle cx="864.7" cy="207"/></g><g class="p"><circle cx="915.7" cy="165.8"/><circle cx="799.2" cy="135.1"/><circle cx="896.3" cy="152.3"/><circle cx="1019.8" cy="195.3"/><circle cx="990.2" cy="201"/><circle cx="806" cy="171.1"/><circle cx="1136" cy="230.9"/><circle cx="1121.3" cy="214.3"/><circle cx="1013.4" cy="206.6"/><circle cx="935.2" cy="184.2"/><circle cx="896.5" cy="171.5"/><circle cx="864.7" cy="173.5"/></g><g class="o"><circle cx="871.2" cy="223.4"/><circle cx="917.3" cy="218.3"/><circle cx="909.8" cy="211.9"/><circle cx="907" cy="208.1"/><circle cx="953.9" cy="175.1"/><circle cx="945.5" cy="221"/><circle cx="1201.6" cy="207.4"/><circle cx="1155.9" cy="191.6"/><circle cx="798.7" cy="219.6"/><circle cx="919.6" cy="195.9"/><circle cx="1051.6" cy="157.1"/><circle cx="988.7" cy="208.6"/></g><g class="p"><circle cx="871.2" cy="103"/><circle cx="917.3" cy="161.6"/><circle cx="909.8" cy="194.9"/><circle cx="907" cy="142.9"/><circle cx="953.9" cy="160.3"/><circle cx="945.5" cy="149.1"/><circle cx="1201.6" cy="217"/><circle cx="1155.9" cy="222.9"/><circle cx="798.7" cy="162.7"/><circle cx="919.6" cy="127.4"/><circle cx="1051.6" cy="179.7"/><circle cx="988.7" cy="184.4"/></g><g class="o"><circle cx="930" cy="218"/><circle cx="812.8" cy="209.7"/><circle cx="825" cy="220.6"/><circle cx="890.2" cy="224.9"/><circle cx="1025.5" cy="214.9"/><circle cx="950.9" cy="214.9"/><circle cx="1195.9" cy="183.6"/><circle cx="1121.2" cy="190.1"/><circle cx="1098.5" cy="197"/><circle cx="810.4" cy="218.3"/><circle cx="842.9" cy="203.2"/><circle cx="1015.5" cy="198.9"/></g><g class="p"><circle cx="930" cy="151.5"/><circle cx="812.8" cy="156.7"/><circle cx="825" cy="92.2"/><circle cx="890.2" cy="127.2"/><circle cx="1025.5" cy="220.5"/><circle cx="950.9" cy="135.1"/><circle cx="1195.9" cy="205"/><circle cx="1121.2" cy="211.2"/><circle cx="1098.5" cy="217.8"/><circle cx="810.4" cy="138.8"/><circle cx="842.9" cy="134.2"/><circle cx="1015.5" cy="223.9"/></g><g class="o"><circle cx="1166.2" cy="171.1"/><circle cx="976.3" cy="203"/><circle cx="1044.9" cy="207.5"/><circle cx="809.3" cy="208.8"/><circle cx="866.6" cy="209.5"/><circle cx="797.4" cy="201.6"/><circle cx="889.3" cy="204"/><circle cx="820.7" cy="208.6"/><circle cx="938.3" cy="230.5"/><circle cx="1008.1" cy="174.8"/><circle cx="822.5" cy="211.9"/><circle cx="834.9" cy="232.8"/></g><g class="p"><circle cx="1166.2" cy="248.2"/><circle cx="976.3" cy="166.6"/><circle cx="1044.9" cy="185.7"/><circle cx="809.3" cy="146.8"/><circle cx="866.6" cy="100.7"/><circle cx="797.4" cy="163.4"/><circle cx="889.3" cy="127.8"/><circle cx="820.7" cy="137.2"/><circle cx="938.3" cy="122.8"/><circle cx="1008.1" cy="177.1"/><circle cx="822.5" cy="166.9"/><circle cx="834.9" cy="148.7"/></g><g class="o"><circle cx="805.6" cy="221.3"/><circle cx="892.3" cy="219.4"/><circle cx="1086.9" cy="189.6"/><circle cx="880" cy="233.5"/><circle cx="1091" cy="163.8"/><circle cx="1133.6" cy="179.8"/><circle cx="959.3" cy="193.5"/><circle cx="850.1" cy="211.7"/><circle cx="1046.5" cy="197.6"/><circle cx="806.6" cy="216.3"/><circle cx="798.2" cy="212.4"/><circle cx="1081.9" cy="196.1"/></g><g class="p"><circle cx="805.6" cy="136.5"/><circle cx="892.3" cy="114.5"/><circle cx="1086.9" cy="224.4"/><circle cx="880" cy="138.4"/><circle cx="1091" cy="173.6"/><circle cx="1133.6" cy="198.7"/><circle cx="959.3" cy="157.2"/><circle cx="850.1" cy="134.1"/><circle cx="1046.5" cy="161.3"/><circle cx="806.6" cy="135.1"/><circle cx="798.2" cy="125.7"/><circle cx="1081.9" cy="235.9"/></g><g class="o"><circle cx="837.4" cy="225.2"/><circle cx="796.2" cy="206.3"/><circle cx="866.7" cy="194.4"/><circle cx="1037.2" cy="199.3"/><circle cx="821.6" cy="212.4"/><circle cx="948.3" cy="217.6"/><circle cx="840.6" cy="217.2"/><circle cx="956.3" cy="191.9"/><circle cx="1165.5" cy="192.2"/><circle cx="910.3" cy="227.5"/><circle cx="1202.2" cy="184.4"/><circle cx="1021.1" cy="186.2"/></g><g class="p"><circle cx="837.4" cy="158.5"/><circle cx="796.2" cy="166.5"/><circle cx="866.7" cy="131.6"/><circle cx="1037.2" cy="213.7"/><circle cx="821.6" cy="98.8"/><circle cx="948.3" cy="143.4"/><circle cx="840.6" cy="166.7"/><circle cx="956.3" cy="129.8"/><circle cx="1165.5" cy="220.8"/><circle cx="910.3" cy="122.6"/><circle cx="1202.2" cy="197.4"/><circle cx="1021.1" cy="197.6"/></g><g class="o"><circle cx="840.8" cy="215.5"/><circle cx="809.2" cy="190.9"/><circle cx="844.4" cy="206.8"/><circle cx="1049.7" cy="184"/><circle cx="1077.6" cy="181.2"/><circle cx="880" cy="203.1"/><circle cx="1056.4" cy="216.8"/><circle cx="797.4" cy="204.2"/><circle cx="921.2" cy="191.4"/><circle cx="841.5" cy="210.4"/><circle cx="961.6" cy="209.7"/><circle cx="829.3" cy="227.7"/></g><g class="p"><circle cx="840.8" cy="160.6"/><circle cx="809.2" cy="124.9"/><circle cx="844.4" cy="125.8"/><circle cx="1049.7" cy="236.3"/><circle cx="1077.6" cy="215.2"/><circle cx="880" cy="194.6"/><circle cx="1056.4" cy="228.3"/><circle cx="797.4" cy="89"/><circle cx="921.2" cy="175"/><circle cx="841.5" cy="158"/><circle cx="961.6" cy="130.5"/><circle cx="829.3" cy="130.1"/></g><g class="o"><circle cx="800" cy="218.3"/><circle cx="1038.5" cy="216.8"/><circle cx="825.9" cy="203.5"/><circle cx="842.5" cy="207.6"/><circle cx="911.6" cy="220"/><circle cx="811.8" cy="213.8"/><circle cx="1011" cy="209.1"/><circle cx="868.1" cy="209.1"/><circle cx="1120.5" cy="212.6"/><circle cx="1165.2" cy="195.1"/><circle cx="1058.6" cy="167.8"/><circle cx="933.3" cy="204.5"/></g><g class="p"><circle cx="800" cy="132.9"/><circle cx="1038.5" cy="201.9"/><circle cx="825.9" cy="132.1"/><circle cx="842.5" cy="121.1"/><circle cx="911.6" cy="156.8"/><circle cx="811.8" cy="155.6"/><circle cx="1011" cy="181.2"/><circle cx="868.1" cy="129.8"/><circle cx="1120.5" cy="183.6"/><circle cx="1165.2" cy="226.5"/><circle cx="1058.6" cy="233.1"/><circle cx="933.3" cy="167.3"/></g><g class="o"><circle cx="858.4" cy="201.6"/><circle cx="1117.9" cy="172.9"/><circle cx="1106.1" cy="218.3"/><circle cx="881.2" cy="225.4"/><circle cx="877.9" cy="195.1"/><circle cx="1077.7" cy="197.5"/><circle cx="969.1" cy="215.4"/><circle cx="963.1" cy="196.9"/><circle cx="907.3" cy="203.8"/><circle cx="889.5" cy="236.1"/><circle cx="819.5" cy="217"/><circle cx="907.2" cy="217.6"/></g><g class="p"><circle cx="858.4" cy="92.5"/><circle cx="1117.9" cy="182.6"/><circle cx="1106.1" cy="199"/><circle cx="881.2" cy="141.6"/><circle cx="877.9" cy="156.1"/><circle cx="1077.7" cy="215.6"/><circle cx="969.1" cy="144"/><circle cx="963.1" cy="187.1"/><circle cx="907.3" cy="157.2"/><circle cx="889.5" cy="148.7"/><circle cx="819.5" cy="170.7"/><circle cx="907.2" cy="127.3"/></g><g class="o"><circle cx="872.3" cy="207.8"/><circle cx="940.8" cy="202.8"/><circle cx="861.6" cy="219.1"/><circle cx="947.8" cy="193.9"/><circle cx="942.6" cy="214.7"/><circle cx="835.6" cy="211.6"/><circle cx="1155" cy="190.1"/><circle cx="808" cy="210.4"/><circle cx="934.7" cy="206.7"/><circle cx="833.4" cy="215.8"/><circle cx="1115.7" cy="186.7"/><circle cx="921.3" cy="185.5"/></g><g class="p"><circle cx="872.3" cy="175.9"/><circle cx="940.8" cy="121.4"/><circle cx="861.6" cy="135.1"/><circle cx="947.8" cy="128"/><circle cx="942.6" cy="175.1"/><circle cx="835.6" cy="159.9"/><circle cx="1155" cy="231"/><circle cx="808" cy="168"/><circle cx="934.7" cy="189.4"/><circle cx="833.4" cy="126.5"/><circle cx="1115.7" cy="232.7"/><circle cx="921.3" cy="143.5"/></g><g class="o"><circle cx="949.7" cy="206.8"/><circle cx="907.9" cy="229.9"/><circle cx="1197.9" cy="148.9"/><circle cx="923.8" cy="195.9"/><circle cx="989.5" cy="185"/><circle cx="843.1" cy="219.5"/><circle cx="924.1" cy="180.1"/><circle cx="889.9" cy="213"/><circle cx="816.7" cy="220"/><circle cx="833.5" cy="215.8"/><circle cx="884.8" cy="214.4"/><circle cx="797.8" cy="210.7"/></g><g class="p"><circle cx="949.7" cy="165"/><circle cx="907.9" cy="155.5"/><circle cx="1197.9" cy="194.3"/><circle cx="923.8" cy="199.6"/><circle cx="989.5" cy="145.7"/><circle cx="843.1" cy="155.1"/><circle cx="924.1" cy="120.4"/><circle cx="889.9" cy="156.3"/><circle cx="816.7" cy="154.1"/><circle cx="833.5" cy="149.4"/><circle cx="884.8" cy="188.9"/><circle cx="797.8" cy="134.3"/></g><g class="o"><circle cx="917.9" cy="185.8"/><circle cx="1186.9" cy="197.1"/><circle cx="864.9" cy="222.8"/><circle cx="797.4" cy="228.6"/><circle cx="896.1" cy="219"/><circle cx="958.2" cy="211.9"/><circle cx="1108.5" cy="194.7"/><circle cx="847.3" cy="201.4"/><circle cx="936.9" cy="202.1"/><circle cx="833.7" cy="215"/><circle cx="830.5" cy="222.3"/><circle cx="935.4" cy="206.3"/></g><g class="p"><circle cx="917.9" cy="107.6"/><circle cx="1186.9" cy="256.5"/><circle cx="864.9" cy="116.5"/><circle cx="797.4" cy="140.5"/><circle cx="896.1" cy="164.9"/><circle cx="958.2" cy="174.5"/><circle cx="1108.5" cy="217.1"/><circle cx="847.3" cy="151.4"/><circle cx="936.9" cy="177.6"/><circle cx="833.7" cy="118.1"/><circle cx="830.5" cy="136.7"/><circle cx="935.4" cy="107.3"/></g><g class="o"><circle cx="823.1" cy="214.7"/><circle cx="885.6" cy="196.5"/><circle cx="840.9" cy="210.7"/><circle cx="867.7" cy="201.2"/><circle cx="813" cy="215.5"/><circle cx="796.6" cy="217.2"/><circle cx="1015.6" cy="216.8"/><circle cx="920.7" cy="202.8"/><circle cx="918.5" cy="208.4"/><circle cx="1104.2" cy="172"/><circle cx="1036.8" cy="212"/><circle cx="907.8" cy="196.3"/></g><g class="p"><circle cx="823.1" cy="117.7"/><circle cx="885.6" cy="142"/><circle cx="840.9" cy="139.8"/><circle cx="867.7" cy="122.5"/><circle cx="813" cy="140.6"/><circle cx="796.6" cy="119.7"/><circle cx="1015.6" cy="174.8"/><circle cx="920.7" cy="148.3"/><circle cx="918.5" cy="138"/><circle cx="1104.2" cy="222.2"/><circle cx="1036.8" cy="192.5"/><circle cx="907.8" cy="158.7"/></g><g class="o"><circle cx="991.3" cy="199.4"/><circle cx="1026.5" cy="195.5"/><circle cx="835.7" cy="214.9"/><circle cx="1111.6" cy="178.5"/><circle cx="891.9" cy="205.9"/><circle cx="855.7" cy="206.4"/><circle cx="1002.1" cy="192"/><circle cx="809.5" cy="215.6"/><circle cx="902.7" cy="214.1"/><circle cx="850.9" cy="232.7"/><circle cx="1045.1" cy="226"/><circle cx="898.6" cy="219.1"/></g><g class="p"><circle cx="991.3" cy="183.4"/><circle cx="1026.5" cy="204.4"/><circle cx="835.7" cy="101.4"/><circle cx="1111.6" cy="217.2"/><circle cx="891.9" cy="121.3"/><circle cx="855.7" cy="177.8"/><circle cx="1002.1" cy="160.2"/><circle cx="809.5" cy="198.3"/><circle cx="902.7" cy="175.8"/><circle cx="850.9" cy="157.9"/><circle cx="1045.1" cy="236.1"/><circle cx="898.6" cy="171"/></g><g class="o"><circle cx="800.7" cy="173.7"/><circle cx="931.3" cy="207"/><circle cx="833" cy="198"/><circle cx="1099.8" cy="212.1"/><circle cx="799.2" cy="210.2"/><circle cx="944" cy="214"/><circle cx="1196.7" cy="189"/><circle cx="869" cy="206.6"/><circle cx="1044.2" cy="205.3"/><circle cx="838.2" cy="211.3"/><circle cx="1081" cy="163.7"/><circle cx="798.9" cy="215.5"/></g><g class="p"><circle cx="800.7" cy="141.3"/><circle cx="931.3" cy="174.2"/><circle cx="833" cy="107"/><circle cx="1099.8" cy="217.2"/><circle cx="799.2" cy="135.3"/><circle cx="944" cy="150.4"/><circle cx="1196.7" cy="226.4"/><circle cx="869" cy="158.6"/><circle cx="1044.2" cy="219.4"/><circle cx="838.2" cy="115.6"/><circle cx="1081" cy="225.1"/><circle cx="798.9" cy="149.4"/></g><g class="o"><circle cx="1035.4" cy="207.1"/><circle cx="810.6" cy="215.8"/><circle cx="864.1" cy="204.6"/><circle cx="880.2" cy="225.5"/><circle cx="845.2" cy="218.6"/><circle cx="980.3" cy="204.1"/><circle cx="923" cy="218.7"/><circle cx="986.1" cy="208.4"/><circle cx="1109.6" cy="170.3"/><circle cx="1026.9" cy="164.7"/><circle cx="833.3" cy="224.4"/><circle cx="1184.3" cy="186.7"/></g><g class="p"><circle cx="1035.4" cy="205"/><circle cx="810.6" cy="105.9"/><circle cx="864.1" cy="143.7"/><circle cx="880.2" cy="185.1"/><circle cx="845.2" cy="111.6"/><circle cx="980.3" cy="158.4"/><circle cx="923" cy="153"/><circle cx="986.1" cy="195.9"/><circle cx="1109.6" cy="201.6"/><circle cx="1026.9" cy="200.7"/><circle cx="833.3" cy="148.9"/><circle cx="1184.3" cy="210.5"/></g><g class="o"><circle cx="1074.5" cy="203.6"/><circle cx="914.6" cy="206.7"/><circle cx="1059.5" cy="174.3"/><circle cx="1004.8" cy="209.5"/><circle cx="1136.5" cy="204.5"/><circle cx="903.5" cy="198.7"/><circle cx="869.6" cy="210.1"/><circle cx="901" cy="210.2"/><circle cx="1035.3" cy="206.5"/><circle cx="797.3" cy="216.1"/><circle cx="802.6" cy="207.8"/><circle cx="797.1" cy="206.2"/></g><g class="p"><circle cx="1074.5" cy="214"/><circle cx="914.6" cy="150.5"/><circle cx="1059.5" cy="171.6"/><circle cx="1004.8" cy="215"/><circle cx="1136.5" cy="225.1"/><circle cx="903.5" cy="163.2"/><circle cx="869.6" cy="153.8"/><circle cx="901" cy="147.4"/><circle cx="1035.3" cy="227.7"/><circle cx="797.3" cy="123.8"/><circle cx="802.6" cy="133.7"/><circle cx="797.1" cy="116.5"/></g><g class="o"><circle cx="873.9" cy="211.5"/><circle cx="999.8" cy="176.4"/><circle cx="913.1" cy="224.5"/><circle cx="847.2" cy="217.2"/><circle cx="799.1" cy="215.1"/><circle cx="969.3" cy="193.5"/><circle cx="1022.7" cy="195.7"/><circle cx="1010" cy="222.7"/><circle cx="1019.4" cy="183.7"/><circle cx="1123.6" cy="153.4"/><circle cx="845.2" cy="202.1"/><circle cx="926.9" cy="163.8"/></g><g class="p"><circle cx="873.9" cy="155.3"/><circle cx="999.8" cy="155.3"/><circle cx="913.1" cy="161.4"/><circle cx="847.2" cy="137.8"/><circle cx="799.1" cy="144.4"/><circle cx="969.3" cy="186.2"/><circle cx="1022.7" cy="243.9"/><circle cx="1010" cy="262.6"/><circle cx="1019.4" cy="199.6"/><circle cx="1123.6" cy="240.1"/><circle cx="845.2" cy="180.2"/><circle cx="926.9" cy="187.8"/></g><g class="o"><circle cx="978.2" cy="196.3"/><circle cx="886.6" cy="210.7"/><circle cx="798.6" cy="210.7"/><circle cx="825.6" cy="211.3"/><circle cx="797.4" cy="201.5"/><circle cx="861.4" cy="223.7"/><circle cx="1012.1" cy="172.4"/><circle cx="1153.1" cy="176.9"/><circle cx="832.8" cy="213.7"/><circle cx="847.2" cy="214"/><circle cx="1114" cy="158.3"/><circle cx="935.9" cy="187.5"/></g><g class="p"><circle cx="978.2" cy="162.5"/><circle cx="886.6" cy="168.7"/><circle cx="798.6" cy="126.7"/><circle cx="825.6" cy="178.3"/><circle cx="797.4" cy="141.7"/><circle cx="861.4" cy="154.6"/><circle cx="1012.1" cy="198.1"/><circle cx="1153.1" cy="199"/><circle cx="832.8" cy="179.9"/><circle cx="847.2" cy="110.5"/><circle cx="1114" cy="235.9"/><circle cx="935.9" cy="209.9"/></g><g class="o"><circle cx="1047.9" cy="185.5"/><circle cx="891.6" cy="212.8"/><circle cx="799.6" cy="218.6"/><circle cx="876" cy="218.2"/><circle cx="1059.4" cy="168.4"/><circle cx="824.4" cy="199.5"/><circle cx="874.3" cy="201.9"/><circle cx="874.1" cy="207.1"/><circle cx="1169.2" cy="177.7"/><circle cx="1070.6" cy="192.7"/><circle cx="894.5" cy="186"/><circle cx="900.7" cy="210.6"/></g><g class="p"><circle cx="1047.9" cy="142"/><circle cx="891.6" cy="147.9"/><circle cx="799.6" cy="114.5"/><circle cx="876" cy="122.3"/><circle cx="1059.4" cy="189.1"/><circle cx="824.4" cy="123.9"/><circle cx="874.3" cy="135.7"/><circle cx="874.1" cy="146.4"/><circle cx="1169.2" cy="233.3"/><circle cx="1070.6" cy="199.2"/><circle cx="894.5" cy="113.4"/><circle cx="900.7" cy="165.2"/></g><g class="o"><circle cx="1031.2" cy="238.6"/><circle cx="800.1" cy="214.5"/><circle cx="1016.2" cy="180.3"/><circle cx="915.4" cy="204.4"/><circle cx="996.5" cy="202.1"/><circle cx="822.5" cy="224.5"/><circle cx="854.2" cy="209.3"/><circle cx="899" cy="197.3"/><circle cx="813.5" cy="210.4"/><circle cx="909.5" cy="226.9"/><circle cx="800.6" cy="208.7"/><circle cx="1084" cy="176.7"/></g><g class="p"><circle cx="1031.2" cy="184.9"/><circle cx="800.1" cy="137.3"/><circle cx="1016.2" cy="199.5"/><circle cx="915.4" cy="162.1"/><circle cx="996.5" cy="154.1"/><circle cx="822.5" cy="151.8"/><circle cx="854.2" cy="166.3"/><circle cx="899" cy="173"/><circle cx="813.5" cy="162.4"/><circle cx="909.5" cy="163.9"/><circle cx="800.6" cy="140.8"/><circle cx="1084" cy="214"/></g><g class="o"><circle cx="816.4" cy="223.6"/><circle cx="826.2" cy="216.4"/><circle cx="1112.9" cy="196"/><circle cx="917.1" cy="203.2"/><circle cx="867.2" cy="192.3"/><circle cx="846.7" cy="199.1"/><circle cx="945" cy="211.7"/><circle cx="1203.6" cy="191.1"/><circle cx="1119.4" cy="181.7"/><circle cx="883.7" cy="202.5"/><circle cx="965" cy="201"/><circle cx="950.8" cy="193.5"/></g><g class="p"><circle cx="816.4" cy="113.4"/><circle cx="826.2" cy="154"/><circle cx="1112.9" cy="198.3"/><circle cx="917.1" cy="121.8"/><circle cx="867.2" cy="155.1"/><circle cx="846.7" cy="145.5"/><circle cx="945" cy="161.7"/><circle cx="1203.6" cy="222.2"/><circle cx="1119.4" cy="197.9"/><circle cx="883.7" cy="146.2"/><circle cx="965" cy="204.9"/><circle cx="950.8" cy="191.1"/></g><g class="o"><circle cx="898.3" cy="200"/><circle cx="797" cy="208.4"/><circle cx="1153.8" cy="177"/><circle cx="819" cy="214.6"/><circle cx="837.9" cy="222.4"/><circle cx="796.2" cy="205.6"/><circle cx="1067.6" cy="205"/><circle cx="966" cy="217.7"/><circle cx="990.5" cy="202.7"/><circle cx="999.8" cy="194.6"/><circle cx="1088.9" cy="201.8"/><circle cx="945.8" cy="217.5"/></g><g class="p"><circle cx="898.3" cy="109.6"/><circle cx="797" cy="146.7"/><circle cx="1153.8" cy="236.5"/><circle cx="819" cy="132.7"/><circle cx="837.9" cy="137.3"/><circle cx="796.2" cy="151"/><circle cx="1067.6" cy="200.9"/><circle cx="966" cy="122.3"/><circle cx="990.5" cy="202.9"/><circle cx="999.8" cy="151.3"/><circle cx="1088.9" cy="219"/><circle cx="945.8" cy="183.1"/></g><g class="o"><circle cx="836.6" cy="212.9"/><circle cx="873" cy="193.6"/><circle cx="831" cy="197.2"/><circle cx="971.5" cy="207"/><circle cx="888.5" cy="221"/><circle cx="1012.7" cy="185.2"/><circle cx="1015.5" cy="225.2"/><circle cx="905.5" cy="194.4"/><circle cx="1054.8" cy="204"/><circle cx="860.6" cy="211.7"/><circle cx="920.6" cy="232.8"/><circle cx="1024.7" cy="201.2"/></g><g class="p"><circle cx="836.6" cy="151.7"/><circle cx="873" cy="126.9"/><circle cx="831" cy="124.6"/><circle cx="971.5" cy="171.7"/><circle cx="888.5" cy="176"/><circle cx="1012.7" cy="204.9"/><circle cx="1015.5" cy="187.7"/><circle cx="905.5" cy="140.8"/><circle cx="1054.8" cy="201.1"/><circle cx="860.6" cy="147.3"/><circle cx="920.6" cy="147.3"/><circle cx="1024.7" cy="185.4"/></g><g class="o"><circle cx="1122.2" cy="167.5"/><circle cx="876.3" cy="197.1"/><circle cx="918.1" cy="214.5"/><circle cx="933.1" cy="208.4"/><circle cx="868" cy="208.7"/><circle cx="890.5" cy="198.1"/><circle cx="887.6" cy="208.8"/><circle cx="974.4" cy="196.4"/><circle cx="801.9" cy="198.4"/><circle cx="1055.5" cy="198.9"/><circle cx="959.6" cy="214.2"/><circle cx="816.1" cy="214.2"/></g><g class="p"><circle cx="1122.2" cy="228.8"/><circle cx="876.3" cy="146.5"/><circle cx="918.1" cy="144.1"/><circle cx="933.1" cy="162.1"/><circle cx="868" cy="88.1"/><circle cx="890.5" cy="162.1"/><circle cx="887.6" cy="147.9"/><circle cx="974.4" cy="176"/><circle cx="801.9" cy="125.5"/><circle cx="1055.5" cy="231.7"/><circle cx="959.6" cy="178"/><circle cx="816.1" cy="147.6"/></g><g class="o"><circle cx="1176.2" cy="164.7"/><circle cx="798.3" cy="206.1"/><circle cx="823.6" cy="215.4"/><circle cx="796.9" cy="206.6"/><circle cx="966.2" cy="204.7"/><circle cx="995.6" cy="208.9"/><circle cx="886.3" cy="192"/><circle cx="805.4" cy="210.7"/><circle cx="845.7" cy="213.2"/><circle cx="800.7" cy="211.3"/><circle cx="1062.7" cy="189.8"/><circle cx="813.1" cy="210.3"/></g><g class="p"><circle cx="1176.2" cy="252.5"/><circle cx="798.3" cy="154.6"/><circle cx="823.6" cy="147.3"/><circle cx="796.9" cy="106.6"/><circle cx="966.2" cy="178.7"/><circle cx="995.6" cy="204"/><circle cx="886.3" cy="152.4"/><circle cx="805.4" cy="111.7"/><circle cx="845.7" cy="130.5"/><circle cx="800.7" cy="136"/><circle cx="1062.7" cy="199.1"/><circle cx="813.1" cy="158"/></g><g class="o"><circle cx="1150.5" cy="200.7"/><circle cx="821.6" cy="208.1"/><circle cx="824" cy="202.8"/><circle cx="834.7" cy="225"/><circle cx="1022.2" cy="190.8"/><circle cx="853" cy="208.3"/><circle cx="799.4" cy="220.9"/><circle cx="799.1" cy="209.5"/><circle cx="1048.6" cy="183.8"/><circle cx="802.7" cy="213.1"/><circle cx="797.9" cy="229.2"/><circle cx="857.4" cy="217.5"/></g><g class="p"><circle cx="1150.5" cy="224.5"/><circle cx="821.6" cy="119.9"/><circle cx="824" cy="111.5"/><circle cx="834.7" cy="190.6"/><circle cx="1022.2" cy="153.4"/><circle cx="853" cy="153.1"/><circle cx="799.4" cy="131"/><circle cx="799.1" cy="135.3"/><circle cx="1048.6" cy="177.5"/><circle cx="802.7" cy="151.5"/><circle cx="797.9" cy="126.8"/><circle cx="857.4" cy="149.5"/></g><g class="o"><circle cx="968.6" cy="224.3"/><circle cx="849.3" cy="213.7"/><circle cx="830.6" cy="189.1"/><circle cx="1103.9" cy="191.8"/><circle cx="876.3" cy="201.8"/><circle cx="888.3" cy="255"/><circle cx="960.3" cy="214.3"/><circle cx="900.4" cy="204.2"/><circle cx="982.5" cy="215"/><circle cx="959.3" cy="194.8"/><circle cx="808.3" cy="201"/><circle cx="857.6" cy="216.8"/></g><g class="p"><circle cx="968.6" cy="172.5"/><circle cx="849.3" cy="131.2"/><circle cx="830.6" cy="137.2"/><circle cx="1103.9" cy="199.6"/><circle cx="876.3" cy="164.2"/><circle cx="888.3" cy="167.9"/><circle cx="960.3" cy="140.9"/><circle cx="900.4" cy="98.1"/><circle cx="982.5" cy="189.5"/><circle cx="959.3" cy="156.8"/><circle cx="808.3" cy="117.9"/><circle cx="857.6" cy="147.9"/></g><g class="o"><circle cx="1110.5" cy="197.7"/><circle cx="837.1" cy="192.8"/><circle cx="1090.1" cy="205.1"/><circle cx="814.4" cy="202.5"/><circle cx="797.4" cy="212.5"/><circle cx="1079.2" cy="192.2"/><circle cx="893.9" cy="229.9"/><circle cx="967" cy="190.9"/><circle cx="1102.5" cy="167.4"/><circle cx="1023.3" cy="216.8"/><circle cx="917.1" cy="193.2"/><circle cx="809.2" cy="212.2"/></g><g class="p"><circle cx="1110.5" cy="209.9"/><circle cx="837.1" cy="117.4"/><circle cx="1090.1" cy="193"/><circle cx="814.4" cy="114.9"/><circle cx="797.4" cy="164.6"/><circle cx="1079.2" cy="212.1"/><circle cx="893.9" cy="168.9"/><circle cx="967" cy="144.3"/><circle cx="1102.5" cy="227.3"/><circle cx="1023.3" cy="194.7"/><circle cx="917.1" cy="177.9"/><circle cx="809.2" cy="119.3"/></g><g class="o"><circle cx="807.9" cy="212.4"/><circle cx="811.2" cy="207.8"/><circle cx="1023.8" cy="197.9"/><circle cx="856.1" cy="201.7"/><circle cx="1000" cy="213.5"/><circle cx="1096.8" cy="180.6"/><circle cx="965.5" cy="221.6"/><circle cx="945.8" cy="201.1"/><circle cx="1220" cy="188.3"/><circle cx="809.9" cy="218.4"/><circle cx="956.5" cy="210"/><circle cx="1110.8" cy="183.1"/></g><g class="p"><circle cx="807.9" cy="141.1"/><circle cx="811.2" cy="124.8"/><circle cx="1023.8" cy="184.8"/><circle cx="856.1" cy="149.6"/><circle cx="1000" cy="169.9"/><circle cx="1096.8" cy="210.5"/><circle cx="965.5" cy="224.5"/><circle cx="945.8" cy="213.9"/><circle cx="1220" cy="202.1"/><circle cx="809.9" cy="129.5"/><circle cx="956.5" cy="137"/><circle cx="1110.8" cy="216.6"/></g><g class="o"><circle cx="799.7" cy="212.5"/><circle cx="802.6" cy="218.4"/><circle cx="1042.4" cy="198.8"/><circle cx="807" cy="205.4"/><circle cx="1160.8" cy="218.3"/><circle cx="880.2" cy="216.7"/><circle cx="926.5" cy="219.8"/><circle cx="1094.4" cy="179.4"/><circle cx="856.1" cy="215.1"/><circle cx="952.3" cy="220.3"/><circle cx="940.7" cy="215.4"/><circle cx="853.3" cy="220.6"/></g><g class="p"><circle cx="799.7" cy="157.1"/><circle cx="802.6" cy="170.2"/><circle cx="1042.4" cy="211.9"/><circle cx="807" cy="139.6"/><circle cx="1160.8" cy="208.9"/><circle cx="880.2" cy="104.1"/><circle cx="926.5" cy="137.4"/><circle cx="1094.4" cy="244.8"/><circle cx="856.1" cy="154.6"/><circle cx="952.3" cy="142.1"/><circle cx="940.7" cy="186.4"/><circle cx="853.3" cy="137.3"/></g><g class="o"><circle cx="1184.2" cy="175"/><circle cx="805.2" cy="209.1"/><circle cx="881.1" cy="182.4"/><circle cx="1157.2" cy="188.4"/><circle cx="829.7" cy="201.1"/><circle cx="866.2" cy="203.9"/><circle cx="1104.8" cy="195.5"/><circle cx="883.5" cy="222.5"/><circle cx="926.1" cy="198.2"/><circle cx="943.1" cy="199.9"/><circle cx="930.2" cy="211.5"/><circle cx="861.1" cy="211.8"/></g><g class="p"><circle cx="1184.2" cy="214.9"/><circle cx="805.2" cy="113.5"/><circle cx="881.1" cy="159.6"/><circle cx="1157.2" cy="234.1"/><circle cx="829.7" cy="127.6"/><circle cx="866.2" cy="150.1"/><circle cx="1104.8" cy="212.6"/><circle cx="883.5" cy="131"/><circle cx="926.1" cy="146.4"/><circle cx="943.1" cy="166"/><circle cx="930.2" cy="173.9"/><circle cx="861.1" cy="169.3"/></g><g class="o"><circle cx="889.2" cy="207.6"/><circle cx="960.5" cy="199.3"/><circle cx="1019.3" cy="197.3"/><circle cx="880.7" cy="227.9"/><circle cx="950.6" cy="212.8"/><circle cx="1042.4" cy="218"/><circle cx="1030.2" cy="195.6"/><circle cx="893.6" cy="194.4"/><circle cx="856.5" cy="213.4"/><circle cx="1122.3" cy="183.6"/><circle cx="874.9" cy="208.7"/><circle cx="1117.1" cy="190.9"/></g><g class="p"><circle cx="889.2" cy="151.9"/><circle cx="960.5" cy="173.3"/><circle cx="1019.3" cy="214.8"/><circle cx="880.7" cy="155"/><circle cx="950.6" cy="170.2"/><circle cx="1042.4" cy="197.7"/><circle cx="1030.2" cy="188.2"/><circle cx="893.6" cy="203.1"/><circle cx="856.5" cy="122.5"/><circle cx="1122.3" cy="206.1"/><circle cx="874.9" cy="106.3"/><circle cx="1117.1" cy="216.1"/></g><g class="o"><circle cx="953.5" cy="221"/><circle cx="842.5" cy="214.8"/><circle cx="1030.4" cy="189.2"/><circle cx="865.6" cy="216.9"/><circle cx="1097.9" cy="167.3"/><circle cx="1179.7" cy="195.2"/><circle cx="1178.8" cy="192.2"/><circle cx="1111.9" cy="198.2"/><circle cx="864.6" cy="212.9"/><circle cx="1070.8" cy="209.5"/><circle cx="877.6" cy="217.8"/><circle cx="808.1" cy="197.6"/></g><g class="p"><circle cx="953.5" cy="158"/><circle cx="842.5" cy="168.7"/><circle cx="1030.4" cy="167.4"/><circle cx="865.6" cy="137.1"/><circle cx="1097.9" cy="218.5"/><circle cx="1179.7" cy="227.8"/><circle cx="1178.8" cy="221.9"/><circle cx="1111.9" cy="242.8"/><circle cx="864.6" cy="189"/><circle cx="1070.8" cy="184.4"/><circle cx="877.6" cy="124.2"/><circle cx="808.1" cy="146"/></g><g class="o"><circle cx="826.5" cy="210.3"/><circle cx="891.3" cy="218.8"/><circle cx="950.6" cy="206.2"/><circle cx="799" cy="202.5"/><circle cx="883.8" cy="233.4"/><circle cx="962.8" cy="214"/><circle cx="844.6" cy="198.8"/><circle cx="808.8" cy="205.5"/><circle cx="803.1" cy="218"/><circle cx="1156.3" cy="178.2"/><circle cx="853.1" cy="204.2"/><circle cx="845.9" cy="205.8"/></g><g class="p"><circle cx="826.5" cy="143.8"/><circle cx="891.3" cy="158.3"/><circle cx="950.6" cy="184.4"/><circle cx="799" cy="115.1"/><circle cx="883.8" cy="150.5"/><circle cx="962.8" cy="159.2"/><circle cx="844.6" cy="118.9"/><circle cx="808.8" cy="118.7"/><circle cx="803.1" cy="143.4"/><circle cx="1156.3" cy="218.7"/><circle cx="853.1" cy="86.3"/><circle cx="845.9" cy="129.3"/></g><g class="o"><circle cx="992.1" cy="216.7"/><circle cx="1002.9" cy="226.1"/><circle cx="918.7" cy="209.1"/><circle cx="1095.7" cy="177.6"/><circle cx="1004.6" cy="176"/><circle cx="892.8" cy="188.7"/><circle cx="881.5" cy="223.3"/><circle cx="1161.7" cy="179.5"/><circle cx="916.8" cy="190"/><circle cx="1079.8" cy="181.2"/><circle cx="1088.9" cy="184.8"/><circle cx="953.6" cy="203.6"/></g><g class="p"><circle cx="992.1" cy="202"/><circle cx="1002.9" cy="184.2"/><circle cx="918.7" cy="182.4"/><circle cx="1095.7" cy="214.1"/><circle cx="1004.6" cy="188.1"/><circle cx="892.8" cy="124.3"/><circle cx="881.5" cy="139.1"/><circle cx="1161.7" cy="214.9"/><circle cx="916.8" cy="150.1"/><circle cx="1079.8" cy="236"/><circle cx="1088.9" cy="209.1"/><circle cx="953.6" cy="150"/></g><g class="o"><circle cx="887.5" cy="209.6"/><circle cx="935.8" cy="230.2"/><circle cx="884.8" cy="207.3"/><circle cx="887.6" cy="217.4"/><circle cx="1073.3" cy="178.4"/><circle cx="811.1" cy="211"/><circle cx="1064.8" cy="188.1"/><circle cx="820.1" cy="208"/><circle cx="910.4" cy="211.9"/><circle cx="937.5" cy="224.1"/><circle cx="797.6" cy="214.2"/><circle cx="802.6" cy="206.4"/></g><g class="p"><circle cx="887.5" cy="229.8"/><circle cx="935.8" cy="118.5"/><circle cx="884.8" cy="166.4"/><circle cx="887.6" cy="181"/><circle cx="1073.3" cy="234.4"/><circle cx="811.1" cy="115.7"/><circle cx="1064.8" cy="223.2"/><circle cx="820.1" cy="103.8"/><circle cx="910.4" cy="149.6"/><circle cx="937.5" cy="197.7"/><circle cx="797.6" cy="154.6"/><circle cx="802.6" cy="120.8"/></g><g class="o"><circle cx="846.9" cy="222.2"/><circle cx="899.2" cy="231.5"/><circle cx="799" cy="213.4"/><circle cx="937.5" cy="191.4"/><circle cx="877.3" cy="198.6"/><circle cx="836.3" cy="215.4"/><circle cx="1101.5" cy="172.5"/><circle cx="856.6" cy="212.9"/><circle cx="1006.5" cy="182"/><circle cx="1064.2" cy="201"/><circle cx="878.4" cy="214.5"/><circle cx="1012" cy="204.3"/></g><g class="p"><circle cx="846.9" cy="167.3"/><circle cx="899.2" cy="136.1"/><circle cx="799" cy="184.1"/><circle cx="937.5" cy="137.9"/><circle cx="877.3" cy="195.3"/><circle cx="836.3" cy="105.7"/><circle cx="1101.5" cy="191"/><circle cx="856.6" cy="97.3"/><circle cx="1006.5" cy="138.3"/><circle cx="1064.2" cy="171.8"/><circle cx="878.4" cy="150.9"/><circle cx="1012" cy="180.1"/></g><g class="o"><circle cx="958.3" cy="218.6"/><circle cx="826.8" cy="200.6"/><circle cx="820.7" cy="207.7"/><circle cx="831.1" cy="210.8"/><circle cx="879.6" cy="210"/><circle cx="798.9" cy="203.4"/><circle cx="803.4" cy="216.4"/><circle cx="1172.3" cy="203.1"/><circle cx="926.9" cy="213.9"/><circle cx="1100.7" cy="196.5"/><circle cx="808.5" cy="212"/><circle cx="818.7" cy="205.1"/></g><g class="p"><circle cx="958.3" cy="206.7"/><circle cx="826.8" cy="132"/><circle cx="820.7" cy="119.4"/><circle cx="831.1" cy="155.7"/><circle cx="879.6" cy="90.1"/><circle cx="798.9" cy="147.6"/><circle cx="803.4" cy="157.4"/><circle cx="1172.3" cy="202.3"/><circle cx="926.9" cy="204.2"/><circle cx="1100.7" cy="213.8"/><circle cx="808.5" cy="112.8"/><circle cx="818.7" cy="161.1"/></g><g class="o"><circle cx="948.4" cy="184.2"/><circle cx="875.5" cy="223.9"/><circle cx="908.1" cy="222.9"/><circle cx="849.8" cy="214.7"/><circle cx="798.7" cy="209.1"/><circle cx="1187.1" cy="167.2"/><circle cx="1095.2" cy="170.7"/><circle cx="868.7" cy="207.7"/><circle cx="1154.2" cy="173.4"/><circle cx="890.3" cy="215.9"/><circle cx="959.6" cy="179.3"/><circle cx="837.3" cy="201.2"/></g><g class="p"><circle cx="948.4" cy="154"/><circle cx="875.5" cy="140.1"/><circle cx="908.1" cy="179.3"/><circle cx="849.8" cy="147"/><circle cx="798.7" cy="155.7"/><circle cx="1187.1" cy="195.7"/><circle cx="1095.2" cy="205.1"/><circle cx="868.7" cy="146.3"/><circle cx="1154.2" cy="245.2"/><circle cx="890.3" cy="139.8"/><circle cx="959.6" cy="156.7"/><circle cx="837.3" cy="169.4"/></g><g class="o"><circle cx="805.2" cy="220"/><circle cx="796.9" cy="218.8"/><circle cx="1191.7" cy="190.8"/><circle cx="863.5" cy="210"/><circle cx="959.5" cy="192.6"/><circle cx="838.8" cy="214"/><circle cx="1107" cy="169"/><circle cx="831.2" cy="215.7"/><circle cx="880.3" cy="222.3"/><circle cx="799.8" cy="212.9"/><circle cx="801.3" cy="201.9"/><circle cx="891.4" cy="190.8"/></g><g class="p"><circle cx="805.2" cy="150.9"/><circle cx="796.9" cy="126.1"/><circle cx="1191.7" cy="235.7"/><circle cx="863.5" cy="147"/><circle cx="959.5" cy="192.7"/><circle cx="838.8" cy="115.4"/><circle cx="1107" cy="235.9"/><circle cx="831.2" cy="172.5"/><circle cx="880.3" cy="134.3"/><circle cx="799.8" cy="103.2"/><circle cx="801.3" cy="133.5"/><circle cx="891.4" cy="128.8"/></g><g class="o"><circle cx="965.7" cy="197.1"/><circle cx="1142.6" cy="217.5"/><circle cx="937.6" cy="213.4"/><circle cx="935.8" cy="219.8"/><circle cx="1107.8" cy="182.3"/><circle cx="839.5" cy="203.3"/><circle cx="1190.2" cy="188.1"/><circle cx="808.9" cy="210.8"/><circle cx="907.6" cy="201.1"/><circle cx="801.3" cy="224"/><circle cx="907.5" cy="183.4"/><circle cx="1094.4" cy="209"/></g><g class="p"><circle cx="965.7" cy="200.6"/><circle cx="1142.6" cy="213.7"/><circle cx="937.6" cy="151.4"/><circle cx="935.8" cy="138.2"/><circle cx="1107.8" cy="207.2"/><circle cx="839.5" cy="160"/><circle cx="1190.2" cy="227.9"/><circle cx="808.9" cy="158.3"/><circle cx="907.6" cy="136.6"/><circle cx="801.3" cy="160.9"/><circle cx="907.5" cy="128.1"/><circle cx="1094.4" cy="182.9"/></g><g class="o"><circle cx="831.6" cy="270.5"/><circle cx="1035.2" cy="284.9"/><circle cx="1023.8" cy="118.5"/><circle cx="1114.2" cy="130.4"/><circle cx="1144.3" cy="141.4"/><circle cx="1268.1" cy="202.1"/><circle cx="1244.7" cy="181.4"/></g><g class="p"><circle cx="831.6" cy="292.3"/><circle cx="935.4" cy="279"/><circle cx="1052.6" cy="293"/><circle cx="1197.2" cy="282"/><circle cx="1035.2" cy="284.9"/><circle cx="1268.1" cy="213.2"/><circle cx="1244.7" cy="189.5"/><circle cx="796.5" cy="57.1"/><circle cx="796.2" cy="64.5"/><circle cx="814.2" cy="60.1"/><circle cx="814.9" cy="62.3"/><circle cx="869.8" cy="69"/></g><g class="p"><circle cx="873.8" cy="65.3"/><circle cx="887.2" cy="57.9"/><circle cx="923.4" cy="60.1"/><circle cx="896.6" cy="74.9"/><circle cx="950.1" cy="92.6"/><circle cx="993.7" cy="94.9"/></g></g><path d="M764 38.2V318H1297.5" fill="none" stroke="#1a1a1a" stroke-width="2"/><path d="M758 289.4H764M758 252.4H764M758 215.4H764M758 178.4H764M758 141.4H764M758 104.5H764M758 67.5H764M796.2 318V324M863.1 318V324M930.1 318V324M997 318V324M1064 318V324M1130.9 318V324M1197.8 318V324M1264.8 318V324" stroke="#1a1a1a" stroke-width="2"/><text x="752" y="295.4" text-anchor="end" font-size="17" fill="#222" stroke="#222" stroke-width="0.35">-1</text><text x="752" y="258.4" text-anchor="end" font-size="17" fill="#222" stroke="#222" stroke-width="0.35">-0.5</text><text x="752" y="221.4" text-anchor="end" font-size="17" fill="#222" stroke="#222" stroke-width="0.35">0</text><text x="752" y="184.4" text-anchor="end" font-size="17" fill="#222" stroke="#222" stroke-width="0.35">0.5</text><text x="752" y="147.4" text-anchor="end" font-size="17" fill="#222" stroke="#222" stroke-width="0.35">1</text><text x="752" y="110.5" text-anchor="end" font-size="17" fill="#222" stroke="#222" stroke-width="0.35">1.5</text><text x="752" y="73.5" text-anchor="end" font-size="17" fill="#222" stroke="#222" stroke-width="0.35">2</text><text x="796.2" y="347.5" text-anchor="middle" font-size="17" fill="#222" stroke="#222" stroke-width="0.35">0.1</text><text x="863.1" y="347.5" text-anchor="middle" font-size="17" fill="#222" stroke="#222" stroke-width="0.35">0.2</text><text x="930.1" y="347.5" text-anchor="middle" font-size="17" fill="#222" stroke="#222" stroke-width="0.35">0.3</text><text x="997" y="347.5" text-anchor="middle" font-size="17" fill="#222" stroke="#222" stroke-width="0.35">0.4</text><text x="1064" y="347.5" text-anchor="middle" font-size="17" fill="#222" stroke="#222" stroke-width="0.35">0.5</text><text x="1130.9" y="347.5" text-anchor="middle" font-size="17" fill="#222" stroke="#222" stroke-width="0.35">0.6</text><text x="1197.8" y="347.5" text-anchor="middle" font-size="17" fill="#222" stroke="#222" stroke-width="0.35">0.7</text><text x="1264.8" y="347.5" text-anchor="middle" font-size="17" fill="#222" stroke="#222" stroke-width="0.35">0.8</text><text x="1030.5" y="371.5" text-anchor="middle" font-size="18.2" fill="#222" stroke="#222" stroke-width="0.35">Mean annual <tspan font-style="italic">f</tspan><tspan dy="8" font-size="14">s</tspan></text><text transform="translate(679,180) rotate(-90)" text-anchor="middle" font-size="19" fill="#222" stroke="#222" stroke-width="0.35"><tspan font-style="italic">ε</tspan><tspan dy="9" font-size="14.8">CTQ_CTP</tspan><tspan dy="-9"> , </tspan><tspan font-style="italic">ε</tspan><tspan dy="9" font-size="14.8">CTQ_MOD</tspan></text><text transform="translate(714,179) rotate(-90)" text-anchor="middle" font-size="19" fill="#222" stroke="#222" stroke-width="0.35">(day day<tspan dy="-7.5" font-size="13">-1</tspan><tspan dy="7.5">)</tspan></text><circle cx="1150.7" cy="45.2" r="6.8" fill="#e3e0fb" stroke="#7f75dc" stroke-width="1.8"/><circle cx="1150.7" cy="93.5" r="6.8" fill="#f9d8c8" stroke="#d4502c" stroke-width="1.8"/><text x="1171" y="52.5" font-size="22" font-weight="bold" font-style="italic" stroke="#000" stroke-width="0.35">ε</text><text x="1184.5" y="62.5" font-size="14.4" fill="#111" stroke="#111" stroke-width="0.35">CTQ_CTP</text><text x="1172.5" y="101" font-size="22" font-weight="bold" font-style="italic" stroke="#000" stroke-width="0.35">ε</text><text x="1185.5" y="110" font-size="14.4" fill="#111" stroke="#111" stroke-width="0.35">CTQ_MOD</text><g fill="#8c80f5" fill-opacity="0.25" stroke="#222" stroke-width="1"><rect x="764.4" y="724.7" width="7.6" height="8.1"/><rect x="779.7" y="728.3" width="7.6" height="4.5"/><rect x="787.3" y="729.2" width="7.6" height="3.6"/><rect x="794.9" y="726.5" width="7.6" height="6.3"/><rect x="802.6" y="720.2" width="7.6" height="12.6"/><rect x="810.2" y="721.1" width="7.6" height="11.7"/><rect x="817.8" y="710.2" width="7.6" height="22.6"/><rect x="825.5" y="698.5" width="7.6" height="34.3"/><rect x="833.1" y="679.5" width="7.6" height="53.3"/><rect x="840.7" y="669.6" width="7.6" height="63.2"/><rect x="848.4" y="633.4" width="7.6" height="99.4"/><rect x="856" y="617.2" width="7.6" height="115.6"/><rect x="863.6" y="582.9" width="7.6" height="149.9"/><rect x="871.3" y="543.1" width="7.6" height="189.7"/><rect x="878.9" y="566.6" width="7.6" height="166.2"/><rect x="886.5" y="572" width="7.6" height="160.8"/><rect x="894.2" y="589.2" width="7.6" height="143.6"/><rect x="901.8" y="577.4" width="7.6" height="155.4"/><rect x="909.4" y="599.1" width="7.6" height="133.7"/><rect x="917.1" y="607.2" width="7.6" height="125.6"/><rect x="924.7" y="612.7" width="7.6" height="120.1"/><rect x="932.3" y="608.1" width="7.6" height="124.7"/><rect x="940" y="574.7" width="7.6" height="158.1"/><rect x="947.6" y="548.5" width="7.6" height="184.3"/><rect x="955.2" y="561.2" width="7.6" height="171.6"/><rect x="962.9" y="608.1" width="7.6" height="124.7"/><rect x="970.5" y="657.8" width="7.6" height="75"/><rect x="978.1" y="688.5" width="7.6" height="44.3"/><rect x="985.8" y="707.5" width="7.6" height="25.3"/><rect x="993.4" y="716.5" width="7.6" height="16.3"/><rect x="1001" y="719.3" width="7.6" height="13.5"/><rect x="1008.7" y="722.9" width="7.6" height="9.9"/></g><g fill="#8c80f5" fill-opacity="1" stroke="#222" stroke-width="1"><rect x="764.4" y="724.7" width="7.6" height="8.1"/><rect x="779.7" y="728.3" width="7.6" height="4.5"/><rect x="787.3" y="729.2" width="7.6" height="3.6"/><rect x="794.9" y="726.5" width="7.6" height="6.3"/><rect x="802.6" y="720.2" width="7.6" height="12.6"/><rect x="810.2" y="721.1" width="7.6" height="11.7"/><rect x="817.8" y="710.2" width="7.6" height="22.6"/><rect x="825.5" y="698.5" width="7.6" height="34.3"/><rect x="833.1" y="679.5" width="7.6" height="53.3"/><rect x="840.7" y="669.6" width="7.6" height="63.2"/><rect x="848.4" y="633.4" width="7.6" height="99.4"/><rect x="856" y="617.2" width="7.6" height="115.6"/><rect x="863.6" y="582.9" width="7.6" height="149.9"/><rect x="871.3" y="543.1" width="7.6" height="189.7"/><rect x="878.9" y="566.6" width="7.6" height="166.2"/><rect x="886.5" y="572" width="7.6" height="160.8"/><rect x="894.2" y="589.2" width="7.6" height="143.6"/><rect x="901.8" y="577.4" width="7.6" height="155.4"/><rect x="909.4" y="599.1" width="7.6" height="133.7"/><rect x="917.1" y="611.8" width="7.6" height="121"/><rect x="924.7" y="629.8" width="7.6" height="103"/><rect x="932.3" y="628.9" width="7.6" height="103.9"/><rect x="940" y="638" width="7.6" height="94.8"/><rect x="947.6" y="647.9" width="7.6" height="84.9"/><rect x="955.2" y="686.7" width="7.6" height="46.1"/><rect x="962.9" y="722.9" width="7.6" height="9.9"/></g><g fill="#fa6020" fill-opacity="0.22" stroke="#222" stroke-width="1"><rect x="932.3" y="729.2" width="7.6" height="3.6"/><rect x="940" y="727.4" width="7.6" height="5.4"/><rect x="947.6" y="726.5" width="7.6" height="6.3"/><rect x="955.2" y="726.5" width="7.6" height="6.3"/><rect x="962.9" y="725.6" width="7.6" height="7.2"/><rect x="970.5" y="724.7" width="7.6" height="8.1"/><rect x="978.1" y="716.5" width="7.6" height="16.3"/><rect x="985.8" y="716.5" width="7.6" height="16.3"/><rect x="993.4" y="705.7" width="7.6" height="27.1"/><rect x="1001" y="692.2" width="7.6" height="40.6"/><rect x="1008.7" y="670.5" width="7.6" height="62.3"/><rect x="1016.3" y="664.1" width="7.6" height="68.7"/><rect x="1023.9" y="619" width="7.6" height="113.8"/><rect x="1031.6" y="605.4" width="7.6" height="127.4"/><rect x="1039.2" y="591.9" width="7.6" height="140.9"/><rect x="1046.8" y="596.4" width="7.6" height="136.4"/><rect x="1054.5" y="584.7" width="7.6" height="148.1"/><rect x="1062.1" y="591" width="7.6" height="141.8"/><rect x="1069.7" y="607.2" width="7.6" height="125.6"/><rect x="1077.4" y="613.6" width="7.6" height="119.2"/><rect x="1085" y="630.7" width="7.6" height="102.1"/><rect x="1092.6" y="639.8" width="7.6" height="93"/><rect x="1100.3" y="616.3" width="7.6" height="116.5"/><rect x="1107.9" y="628.9" width="7.6" height="103.9"/><rect x="1115.5" y="643.4" width="7.6" height="89.4"/><rect x="1123.2" y="646.1" width="7.6" height="86.7"/><rect x="1130.8" y="647" width="7.6" height="85.8"/><rect x="1138.4" y="644.3" width="7.6" height="88.5"/><rect x="1146" y="673.2" width="7.6" height="59.6"/><rect x="1153.7" y="656" width="7.6" height="76.8"/><rect x="1161.3" y="672.3" width="7.6" height="60.5"/><rect x="1168.9" y="677.7" width="7.6" height="55.1"/><rect x="1176.6" y="683.1" width="7.6" height="49.7"/><rect x="1184.2" y="684" width="7.6" height="48.8"/><rect x="1191.8" y="685.8" width="7.6" height="47"/><rect x="1199.5" y="694" width="7.6" height="38.8"/><rect x="1207.1" y="699.4" width="7.6" height="33.4"/><rect x="1214.7" y="708.4" width="7.6" height="24.4"/><rect x="1222.4" y="719.3" width="7.6" height="13.5"/><rect x="1230" y="720.2" width="7.6" height="12.6"/><rect x="1237.6" y="716.5" width="7.6" height="16.3"/><rect x="1245.3" y="712" width="7.6" height="20.8"/><rect x="1252.9" y="717.4" width="7.6" height="15.4"/><rect x="1260.5" y="722" width="7.6" height="10.8"/><rect x="1268.2" y="728.3" width="7.6" height="4.5"/><rect x="1275.8" y="725.1" width="7.6" height="7.7"/><rect x="1283.4" y="727.7" width="7.6" height="5.1"/><rect x="1291.1" y="730.1" width="7.6" height="2.7"/></g><g fill="#fa6020" fill-opacity="1" stroke="#222" stroke-width="1"><rect x="1008.7" y="731.5" width="7.6" height="1.3"/><rect x="1016.3" y="731" width="7.6" height="1.8"/><rect x="1023.9" y="697.6" width="7.6" height="35.2"/><rect x="1031.6" y="661.4" width="7.6" height="71.4"/><rect x="1039.2" y="643.4" width="7.6" height="89.4"/><rect x="1046.8" y="637.1" width="7.6" height="95.7"/><rect x="1054.5" y="629.8" width="7.6" height="103"/><rect x="1062.1" y="630.7" width="7.6" height="102.1"/><rect x="1069.7" y="637.1" width="7.6" height="95.7"/><rect x="1077.4" y="643.4" width="7.6" height="89.4"/><rect x="1085" y="660.5" width="7.6" height="72.3"/><rect x="1092.6" y="668.7" width="7.6" height="64.1"/><rect x="1100.3" y="647.9" width="7.6" height="84.9"/><rect x="1107.9" y="648.8" width="7.6" height="84"/><rect x="1115.5" y="658.7" width="7.6" height="74.1"/><rect x="1123.2" y="655.1" width="7.6" height="77.7"/><rect x="1130.8" y="663.2" width="7.6" height="69.6"/><rect x="1138.4" y="647.9" width="7.6" height="84.9"/><rect x="1146" y="675.9" width="7.6" height="56.9"/><rect x="1153.7" y="659.6" width="7.6" height="73.2"/><rect x="1161.3" y="675" width="7.6" height="57.8"/><rect x="1168.9" y="677.7" width="7.6" height="55.1"/><rect x="1176.6" y="683.1" width="7.6" height="49.7"/><rect x="1184.2" y="685.8" width="7.6" height="47"/><rect x="1191.8" y="686.7" width="7.6" height="46.1"/><rect x="1199.5" y="694" width="7.6" height="38.8"/><rect x="1207.1" y="701.2" width="7.6" height="31.6"/><rect x="1214.7" y="708.4" width="7.6" height="24.4"/><rect x="1222.4" y="719.3" width="7.6" height="13.5"/><rect x="1230" y="720.2" width="7.6" height="12.6"/><rect x="1237.6" y="716.5" width="7.6" height="16.3"/><rect x="1245.3" y="712" width="7.6" height="20.8"/><rect x="1252.9" y="717.4" width="7.6" height="15.4"/><rect x="1260.5" y="722" width="7.6" height="10.8"/><rect x="1268.2" y="728.3" width="7.6" height="4.5"/><rect x="1275.8" y="725.1" width="7.6" height="7.7"/><rect x="1283.4" y="727.7" width="7.6" height="5.1"/><rect x="1291.1" y="730.1" width="7.6" height="2.7"/></g><path d="M763.8 461.8V732.8H1298.6" fill="none" stroke="#1a1a1a" stroke-width="2"/><path d="M757 732.8H763.8M757 687.6H763.8M757 642.5H763.8M757 597.3H763.8M757 552.1H763.8M757 507H763.8M757 461.8H763.8M764.4 732.8V739.5M840.7 732.8V739.5M917.1 732.8V739.5M993.4 732.8V739.5M1069.7 732.8V739.5M1146 732.8V739.5M1222.4 732.8V739.5M1298.7 732.8V739.5" stroke="#1a1a1a" stroke-width="2"/><text x="752" y="738.8" text-anchor="end" font-size="17" fill="#222" stroke="#222" stroke-width="0.35">0</text><text x="752" y="693.6" text-anchor="end" font-size="17" fill="#222" stroke="#222" stroke-width="0.35">50</text><text x="752" y="648.5" text-anchor="end" font-size="17" fill="#222" stroke="#222" stroke-width="0.35">100</text><text x="752" y="603.3" text-anchor="end" font-size="17" fill="#222" stroke="#222" stroke-width="0.35">150</text><text x="752" y="558.1" text-anchor="end" font-size="17" fill="#222" stroke="#222" stroke-width="0.35">200</text><text x="752" y="513" text-anchor="end" font-size="17" fill="#222" stroke="#222" stroke-width="0.35">250</text><text x="752" y="467.8" text-anchor="end" font-size="17" fill="#222" stroke="#222" stroke-width="0.35">300</text><text x="764.4" y="762" text-anchor="middle" font-size="17" fill="#222" stroke="#222" stroke-width="0.35">-3</text><text x="840.7" y="762" text-anchor="middle" font-size="17" fill="#222" stroke="#222" stroke-width="0.35">-2</text><text x="917.1" y="762" text-anchor="middle" font-size="17" fill="#222" stroke="#222" stroke-width="0.35">-1</text><text x="993.4" y="762" text-anchor="middle" font-size="17" fill="#222" stroke="#222" stroke-width="0.35">0</text><text x="1069.7" y="762" text-anchor="middle" font-size="17" fill="#222" stroke="#222" stroke-width="0.35">1</text><text x="1146" y="762" text-anchor="middle" font-size="17" fill="#222" stroke="#222" stroke-width="0.35">2</text><text x="1222.4" y="762" text-anchor="middle" font-size="17" fill="#222" stroke="#222" stroke-width="0.35">3</text><text x="1298.7" y="762" text-anchor="middle" font-size="17" fill="#222" stroke="#222" stroke-width="0.35">4</text><text transform="translate(716.3,598.3) rotate(-90)" text-anchor="middle" font-size="18.6" fill="#222" stroke="#222" stroke-width="0.35">Number of catchments</text><text x="1032" y="787" text-anchor="middle" font-size="18.5" fill="#222" stroke="#222" stroke-width="0.35"><tspan font-style="italic">ε</tspan><tspan dy="9.5" font-size="14.5">CTP_fs</tspan><tspan dy="-9.5"> , </tspan><tspan font-style="italic">ε</tspan><tspan dy="9.5" font-size="14.5">MOD_fs</tspan></text><text x="1031.3" y="817.4" text-anchor="middle" font-size="18" fill="#222" stroke="#222" stroke-width="0.35">(days per increase in <tspan font-style="italic">f</tspan><tspan dy="8" font-size="14">s</tspan><tspan dy="-8"> by 0.01)</tspan></text><rect x="1074.8" y="488.7" width="41.5" height="22.6" fill="#e4e0fc" stroke="#333" stroke-width="1"/><rect x="1074.8" y="522.9" width="41.5" height="23.2" fill="#8c80f5" stroke="#333" stroke-width="1"/><rect x="1163.6" y="488.7" width="41.5" height="22.6" fill="#fcdccf" stroke="#333" stroke-width="1"/><rect x="1163.6" y="522.9" width="41.5" height="23.2" fill="#fa6020" stroke="#333" stroke-width="1"/><text x="1062" y="465" font-size="24" font-style="italic" stroke="#000" stroke-width="0.35">ε</text><text x="1076.3" y="476.3" font-size="16" fill="#111" stroke="#111" stroke-width="0.35">CTP_fs</text><text x="1152.5" y="465" font-size="24" font-style="italic" stroke="#000" stroke-width="0.35">ε</text><text x="1166.8" y="476.3" font-size="16" fill="#111" stroke="#111" stroke-width="0.35">MOD_fs</text><text x="1215.5" y="510.5" font-size="25" fill="#111" stroke="#111" stroke-width="0.35">all</text><text x="1215.5" y="543.5" font-size="25" fill="#111" stroke="#111" stroke-width="0.35">significant</text></svg></body></html>
